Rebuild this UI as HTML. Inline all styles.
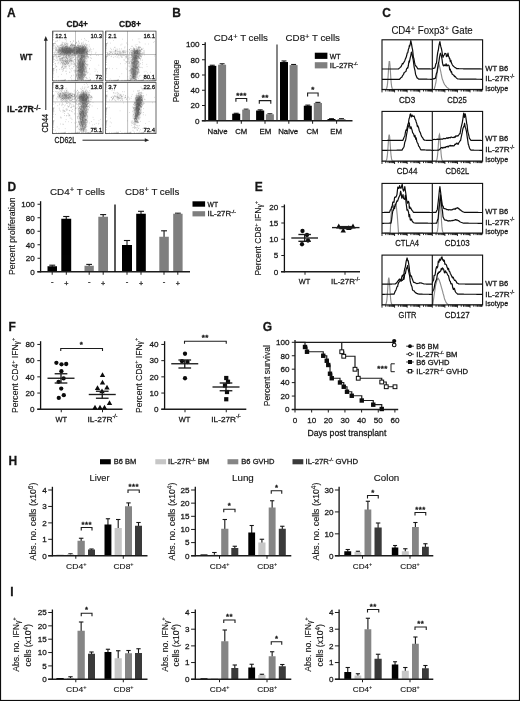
<!DOCTYPE html>
<html lang="en"><head><meta charset="utf-8"><title>Figure</title>
<style>
html,body{margin:0;padding:0;background:#fff;}
svg{display:block;font-family:"Liberation Sans",sans-serif;opacity:0.999;will-change:transform;}
text{fill:#151515;stroke:#1a1a1a;stroke-width:0.27px;}
</style></head><body>
<svg width="520" height="701" viewBox="0 0 520 701">
<rect x="0" y="0" width="520" height="701" fill="#fff"/>
<text x="7.00" y="17.20" font-size="12" font-weight="700" fill="#0a0a0a">A</text>
<text x="172.30" y="17.20" font-size="12" font-weight="700" fill="#0a0a0a">B</text>
<text x="382.30" y="17.20" font-size="12" font-weight="700" fill="#0a0a0a">C</text>
<text x="7.60" y="190.60" font-size="12" font-weight="700" fill="#0a0a0a">D</text>
<text x="254.80" y="190.60" font-size="12" font-weight="700" fill="#0a0a0a">E</text>
<text x="8.60" y="330.60" font-size="12" font-weight="700" fill="#0a0a0a">F</text>
<text x="262.80" y="330.60" font-size="12" font-weight="700" fill="#0a0a0a">G</text>
<text x="8.60" y="464.80" font-size="12" font-weight="700" fill="#0a0a0a">H</text>
<text x="10.20" y="596.40" font-size="12" font-weight="700" fill="#0a0a0a">I</text>
<g id="panelA">
<text x="66.40" y="27.10" font-size="8.6" font-weight="700" textLength="21.60" lengthAdjust="spacingAndGlyphs">CD4+</text>
<text x="119.00" y="27.10" font-size="8.6" font-weight="700" textLength="22.00" lengthAdjust="spacingAndGlyphs">CD8+</text>
<text x="20.00" y="60.20" font-size="8.4" font-weight="700" textLength="12.20" lengthAdjust="spacingAndGlyphs">WT</text>
<text x="7.00" y="112.20" font-size="8.4" font-weight="700" textLength="33.50" lengthAdjust="spacingAndGlyphs">IL-27R<tspan font-size="6.55" dy="-2.52">-/-</tspan><tspan dy="2.52">&#8203;</tspan></text>
<text transform="translate(48.00 132.50) rotate(-90)" font-size="8.2" textLength="18.50" lengthAdjust="spacingAndGlyphs">CD44</text>
<text x="54.50" y="143.20" font-size="8.2" textLength="21.50" lengthAdjust="spacingAndGlyphs">CD62L</text>
<line x1="45.80" y1="110.00" x2="45.80" y2="40.00" stroke="#222" stroke-width="1"/>
<path d="M45.8 36.0L43.8 40.8H47.8Z" fill="#222" stroke="none" stroke-width="1" />
<line x1="82.50" y1="140.20" x2="146.00" y2="140.20" stroke="#222" stroke-width="1"/>
<path d="M149.2 140.2L144.8 138.3V142.1Z" fill="#222" stroke="none" stroke-width="1" />
<defs><filter id="bl" x="-50%" y="-50%" width="200%" height="200%"><feGaussianBlur stdDeviation="1.4"/></filter><clipPath id="cA1"><rect x="53.1" y="31.6" width="49.4" height="48.8"/></clipPath><clipPath id="cA2"><rect x="106.1" y="31.6" width="49.4" height="48.8"/></clipPath><clipPath id="cA3"><rect x="53.1" y="82.9" width="49.4" height="50.2"/></clipPath><clipPath id="cA4"><rect x="106.1" y="82.9" width="49.4" height="50.2"/></clipPath></defs>
<g clip-path="url(#cA1)">
<ellipse cx="66.0" cy="50.6" rx="8.2" ry="3.6" fill="#5a5a5a" opacity="0.70" filter="url(#bl)"/>
<ellipse cx="75.0" cy="50.6" rx="3.0" ry="3.2" fill="#5a5a5a" opacity="0.45" filter="url(#bl)"/>
<ellipse cx="81.5" cy="50.8" rx="5.2" ry="3.8" fill="#5a5a5a" opacity="0.72" filter="url(#bl)"/>
<ellipse cx="81.2" cy="67.5" rx="3.6" ry="13.5" fill="#5a5a5a" opacity="0.62" filter="url(#bl)" transform="rotate(3 81.2 67.5)"/>
<ellipse cx="66.0" cy="60.0" rx="7.0" ry="5.0" fill="#5a5a5a" opacity="0.16" filter="url(#bl)"/>
<path d="M68.7 49.9h.6M64.4 49.9h.6M64.9 47.9h.6M68.2 53.8h.6M67.3 53.6h.6M67.0 51.7h.6M70.4 45.8h.6M68.6 52.1h.6M56.9 45.7h.6M63.6 48.0h.6M65.8 51.5h.6M62.7 52.1h.6M68.0 51.5h.6M74.9 48.7h.6M72.2 52.2h.6M62.2 48.8h.6M65.4 49.6h.6M67.3 52.4h.6M61.0 49.3h.6M72.3 49.1h.6M67.3 48.3h.6M58.3 51.8h.6M72.8 50.7h.6M64.3 44.8h.6M61.8 50.3h.6M65.7 52.0h.6M70.3 46.4h.6M70.9 52.5h.6M67.9 54.8h.6M59.2 50.9h.6M62.8 52.4h.6M59.4 49.3h.6M63.2 47.8h.6M55.4 54.3h.6M67.2 46.4h.6M69.0 54.8h.6M62.2 51.6h.6M71.1 47.4h.6M66.8 53.8h.6M68.3 51.3h.6M69.2 55.2h.6M68.8 52.1h.6M72.7 46.1h.6M68.8 53.4h.6M62.7 44.9h.6M56.6 53.0h.6M71.3 50.1h.6M74.4 46.8h.6M65.2 52.2h.6M69.4 51.5h.6M72.0 50.9h.6M63.8 48.7h.6M66.1 53.6h.6M70.9 48.0h.6M63.7 54.8h.6M65.3 46.6h.6M64.5 50.2h.6M60.7 54.7h.6M59.4 54.3h.6M69.3 48.3h.6M70.5 53.9h.6M66.7 51.6h.6M69.0 51.0h.6M67.4 50.1h.6M66.0 52.3h.6M68.9 52.8h.6M67.7 56.4h.6M64.1 49.4h.6M70.8 50.6h.6M68.0 49.6h.6M67.3 47.3h.6M67.2 51.8h.6M69.4 49.3h.6M63.3 51.4h.6M67.8 57.6h.6M65.5 49.0h.6M65.7 49.9h.6M63.5 42.7h.6M59.9 53.5h.6M71.0 50.4h.6M73.8 53.1h.6M64.2 45.7h.6M69.2 49.6h.6M58.5 53.8h.6M58.2 52.6h.6M72.2 51.1h.6M67.0 50.2h.6M66.7 52.9h.6M74.0 50.3h.6M64.5 53.6h.6M60.0 58.6h.6M64.6 53.3h.6M69.7 51.0h.6M69.3 51.2h.6M58.2 46.2h.6M61.0 52.4h.6M58.4 47.6h.6M69.9 54.3h.6M61.1 54.9h.6M60.1 50.6h.6M74.3 52.8h.6M74.1 48.0h.6M65.1 53.5h.6M73.3 44.9h.6M62.9 50.3h.6M68.1 51.8h.6M60.7 54.9h.6M73.7 53.9h.6M65.1 54.8h.6M71.3 48.4h.6M66.6 50.9h.6M64.6 54.7h.6M64.0 43.9h.6M70.3 45.2h.6M62.8 51.5h.6M70.3 50.6h.6M72.9 50.8h.6M71.4 50.4h.6M74.4 54.9h.6M70.6 48.7h.6M60.4 45.2h.6M71.6 44.9h.6M65.9 47.0h.6M65.9 50.0h.6M67.2 48.9h.6M66.2 55.8h.6M71.2 52.1h.6M59.4 50.0h.6M71.6 49.0h.6M62.9 45.8h.6M70.1 53.5h.6M70.2 50.6h.6M59.9 51.1h.6M62.7 46.1h.6M63.1 53.3h.6M62.0 48.0h.6M65.4 46.2h.6M67.9 47.2h.6M67.7 43.8h.6M55.9 48.7h.6M64.6 52.7h.6M61.4 44.1h.6M63.6 51.4h.6M69.9 52.9h.6M67.7 52.5h.6M69.4 54.5h.6M55.2 51.9h.6M72.8 53.2h.6M63.6 49.7h.6M56.9 56.2h.6M78.6 52.0h.6M69.6 47.9h.6M65.4 56.1h.6M70.7 52.2h.6M65.5 48.0h.6M70.3 51.4h.6M65.0 50.5h.6M64.1 47.7h.6M66.5 53.2h.6M61.6 48.1h.6M71.9 58.3h.6M68.5 52.4h.6M68.2 55.5h.6M68.7 50.4h.6M71.4 45.0h.6M62.3 51.5h.6M75.4 54.4h.6M62.5 46.5h.6M67.0 51.4h.6M60.9 49.4h.6M71.4 56.7h.6M59.0 47.1h.6M71.1 55.5h.6M70.2 55.9h.6M67.4 48.1h.6M62.1 44.3h.6M68.7 50.4h.6M65.4 48.5h.6M68.0 51.9h.6M67.1 52.5h.6M70.1 49.7h.6M61.7 50.7h.6M66.0 48.8h.6M66.8 50.3h.6M66.9 50.6h.6M59.5 50.2h.6M71.5 51.8h.6M65.0 51.9h.6M61.0 51.9h.6M66.3 45.1h.6M69.8 47.9h.6M74.2 47.6h.6M58.9 49.5h.6M68.7 48.4h.6M66.9 52.0h.6M69.7 54.9h.6M69.1 50.5h.6M71.1 55.4h.6M60.4 53.6h.6M69.8 50.2h.6M71.6 49.7h.6M70.7 52.3h.6M79.2 50.0h.6M64.9 54.2h.6M79.5 50.9h.6M70.5 49.6h.6M66.0 53.4h.6M67.0 47.2h.6M71.9 51.6h.6M66.1 52.9h.6M68.8 53.1h.6M66.3 51.2h.6M69.6 49.9h.6M62.7 47.5h.6M58.4 50.6h.6M55.6 49.3h.6M69.0 48.6h.6M65.7 52.2h.6M58.6 49.9h.6M68.7 55.9h.6M61.4 53.8h.6M56.5 50.1h.6M70.9 52.9h.6M65.7 45.1h.6M56.8 52.4h.6M60.5 45.3h.6M58.7 48.8h.6M67.3 50.7h.6M69.7 52.4h.6M72.1 55.0h.6M63.4 46.8h.6M60.4 47.5h.6M66.0 50.4h.6M57.7 52.0h.6M65.9 47.0h.6M64.4 50.0h.6M62.0 50.4h.6M67.8 52.6h.6M62.5 50.3h.6M66.2 47.8h.6M67.0 46.2h.6M58.8 51.0h.6M64.4 49.9h.6M69.2 51.9h.6M61.6 50.5h.6M65.7 50.2h.6M67.5 52.7h.6M59.0 48.5h.6M62.1 49.5h.6M65.4 47.4h.6M66.5 49.2h.6M63.9 52.1h.6M64.3 57.3h.6M66.6 53.8h.6M53.6 53.8h.6M67.3 48.4h.6M78.1 52.3h.6M72.7 51.5h.6M70.9 52.8h.6M65.2 52.1h.6M60.4 52.1h.6M60.7 54.0h.6M77.0 51.3h.6M66.1 50.0h.6M66.1 54.0h.6M67.3 48.3h.6M69.7 52.3h.6M75.1 48.4h.6M66.1 55.4h.6M63.8 51.4h.6M62.3 54.7h.6M63.5 52.6h.6M69.7 48.6h.6M65.9 54.5h.6M70.2 48.6h.6M67.6 50.5h.6M71.9 55.0h.6M77.9 49.1h.6M70.1 50.6h.6M65.8 48.7h.6M75.3 45.5h.6M59.7 54.6h.6M57.6 46.2h.6M63.6 54.0h.6M64.4 50.4h.6M60.3 50.2h.6M58.5 50.7h.6M67.6 50.4h.6M64.8 52.0h.6M66.8 48.0h.6M74.1 49.2h.6M65.4 52.8h.6M62.3 49.2h.6M64.2 47.9h.6M68.7 51.5h.6M76.9 52.2h.6M66.1 48.6h.6M56.3 58.7h.6M66.9 49.1h.6M68.1 51.0h.6M67.9 49.9h.6M70.0 50.8h.6M61.4 45.1h.6M60.6 50.6h.6M69.3 47.6h.6M69.3 48.7h.6M67.6 52.8h.6M65.5 52.1h.6M65.8 46.5h.6M63.2 51.9h.6M69.9 50.3h.6M69.3 48.1h.6M63.1 56.0h.6M65.2 51.0h.6M67.6 55.1h.6M62.4 53.2h.6M65.9 50.6h.6M73.5 45.4h.6M56.9 53.2h.6M65.3 52.8h.6M67.9 51.9h.6M64.9 46.3h.6M63.0 54.9h.6M58.9 47.6h.6M67.7 47.1h.6M68.2 55.5h.6M77.6 51.3h.6M62.5 49.1h.6M68.9 52.1h.6M59.9 47.7h.6M67.3 51.4h.6M64.9 46.8h.6M68.4 49.0h.6M65.6 50.3h.6M71.5 49.6h.6M64.1 54.6h.6M62.1 53.1h.6M69.9 50.8h.6M64.0 55.0h.6M67.0 50.4h.6M66.1 46.3h.6M67.9 48.6h.6M55.7 47.3h.6M67.4 50.7h.6M70.6 49.0h.6M62.9 49.8h.6M57.8 52.0h.6M65.9 48.6h.6M65.2 53.1h.6M62.6 51.5h.6M74.7 51.5h.6M78.3 48.6h.6M66.1 48.7h.6M71.3 51.1h.6M55.1 47.0h.6M70.1 52.4h.6M79.7 52.4h.6M67.3 51.2h.6M67.9 53.3h.6M59.6 55.4h.6M64.1 53.0h.6M77.2 53.3h.6M64.7 50.6h.6M61.6 49.2h.6M69.3 48.8h.6M66.3 50.7h.6M70.8 50.1h.6M65.3 52.0h.6M65.2 52.5h.6M73.6 47.3h.6M61.0 51.9h.6M67.8 53.7h.6M74.4 46.1h.6M70.6 51.6h.6M65.2 51.2h.6M71.1 46.1h.6M64.5 50.7h.6M66.4 51.6h.6M64.1 52.6h.6M54.9 50.5h.6M69.5 49.4h.6M64.1 54.5h.6M74.2 50.2h.6M69.8 49.7h.6M66.2 55.5h.6M62.3 54.2h.6M65.6 51.2h.6M71.9 50.9h.6M62.5 57.5h.6M68.6 48.9h.6M68.6 47.5h.6M64.6 52.3h.6M57.9 52.1h.6M58.0 52.8h.6M63.1 48.6h.6M70.5 49.4h.6M63.9 50.8h.6M74.2 52.2h.6M67.9 50.6h.6M67.4 54.2h.6M78.9 46.9h.6M55.7 57.0h.6M68.2 50.5h.6M69.5 53.4h.6M60.5 49.8h.6M71.4 50.9h.6M60.7 47.4h.6M55.9 50.5h.6M63.7 49.8h.6M62.4 51.9h.6M64.0 48.0h.6M62.5 50.5h.6M69.9 50.6h.6M74.9 54.0h.6M63.8 48.3h.6M75.9 43.4h.6M65.8 48.5h.6M58.9 52.1h.6M65.9 51.9h.6M67.5 45.3h.6M56.3 54.1h.6M67.1 52.9h.6M68.3 52.0h.6M64.8 54.4h.6M63.9 53.1h.6M61.8 52.7h.6M75.0 50.3h.6M65.2 51.9h.6M61.9 47.3h.6M70.9 51.2h.6M68.7 51.8h.6M73.0 50.5h.6M63.1 49.5h.6M66.3 53.2h.6M63.0 49.8h.6M69.2 49.9h.6M59.7 51.6h.6M66.9 51.8h.6M70.0 47.7h.6M64.3 49.8h.6M72.9 52.9h.6M68.3 48.6h.6M78.0 48.1h.6M72.2 49.2h.6M70.2 48.7h.6M68.6 49.3h.6M62.5 50.3h.6M66.4 56.8h.6M70.4 45.8h.6M72.0 45.6h.6M66.8 48.9h.6M66.6 54.3h.6M57.2 46.6h.6M69.9 54.0h.6M70.5 48.2h.6M69.4 52.0h.6M64.4 44.0h.6M69.8 53.2h.6M68.6 51.1h.6M61.0 58.0h.6M66.2 49.6h.6M63.7 53.2h.6M61.9 53.9h.6M63.3 51.4h.6M62.4 51.1h.6M71.7 46.0h.6M63.1 51.5h.6M71.1 51.2h.6M65.4 47.8h.6M68.7 52.2h.6M55.0 49.6h.6M67.7 54.2h.6M64.6 50.6h.6M63.8 51.4h.6M62.2 47.6h.6M62.8 48.9h.6M69.3 47.2h.6M69.4 46.8h.6M67.8 47.7h.6M67.1 54.6h.6M66.3 48.5h.6M57.0 51.0h.6M66.8 48.8h.6M66.4 49.2h.6M70.0 52.7h.6M69.1 53.2h.6M65.9 49.8h.6M64.4 49.8h.6M57.0 50.1h.6M65.9 49.6h.6M65.9 47.8h.6M65.1 52.1h.6M56.5 50.0h.6M79.8 53.4h.6M66.7 43.3h.6M64.4 52.1h.6M54.3 52.2h.6M67.9 53.1h.6M62.9 50.7h.6M63.5 52.5h.6M63.3 51.2h.6M65.8 44.1h.6M69.9 51.2h.6M65.8 48.1h.6M66.8 52.4h.6M76.4 54.2h.6M56.0 48.0h.6M74.0 53.1h.6M70.2 53.3h.6M62.3 48.8h.6M61.3 53.2h.6M60.8 45.3h.6M76.0 57.8h.6M62.2 48.6h.6M62.1 51.3h.6M65.6 54.4h.6M72.8 47.4h.6M67.2 48.9h.6M64.4 50.6h.6M62.4 51.5h.6M54.5 45.3h.6M62.1 46.9h.6M66.3 50.5h.6M66.6 52.2h.6M62.3 48.3h.6M65.1 44.5h.6M68.8 52.0h.6M65.1 50.2h.6M66.1 53.3h.6M69.0 52.7h.6M72.8 51.2h.6M64.1 48.9h.6M61.9 48.3h.6M75.1 55.1h.6M69.0 50.7h.6M70.2 54.0h.6M59.4 54.1h.6M68.4 48.7h.6M66.5 54.8h.6M64.2 48.1h.6M61.5 48.7h.6M62.7 55.0h.6M77.2 50.7h.6M67.7 54.0h.6M68.1 48.8h.6M69.2 55.3h.6M66.5 54.3h.6M65.0 52.1h.6M72.8 51.8h.6M65.7 46.4h.6M79.7 51.5h.6M84.0 49.9h.6M83.5 56.6h.6M76.5 51.7h.6M81.7 56.4h.6M77.9 50.7h.6M78.0 50.6h.6M83.0 51.0h.6M82.4 50.9h.6M86.1 48.3h.6M75.7 48.9h.6M79.1 50.3h.6M80.4 47.9h.6M77.7 51.6h.6M86.1 50.4h.6M81.0 52.8h.6M81.1 51.2h.6M83.8 50.7h.6M73.8 50.5h.6M78.7 50.7h.6M79.5 52.7h.6M88.5 51.2h.6M77.9 47.8h.6M73.8 46.7h.6M82.7 45.4h.6M75.5 48.9h.6M83.5 46.5h.6M80.3 48.6h.6M85.8 51.8h.6M84.8 56.4h.6M82.1 51.2h.6M86.1 56.0h.6M83.0 49.9h.6M81.7 51.6h.6M77.3 49.3h.6M76.6 49.3h.6M83.2 54.3h.6M86.0 47.3h.6M75.4 53.4h.6M84.1 56.1h.6M77.6 56.8h.6M82.9 52.3h.6M82.0 51.4h.6M76.7 53.9h.6M77.0 47.2h.6M79.6 49.2h.6M82.4 51.9h.6M79.3 50.9h.6M84.5 49.5h.6M81.8 53.0h.6M86.5 49.9h.6M83.6 49.1h.6M80.7 54.1h.6M77.9 53.2h.6M82.1 53.7h.6M83.6 46.2h.6M85.6 48.2h.6M81.0 48.8h.6M80.4 51.6h.6M79.7 51.6h.6M81.5 52.7h.6M72.7 51.4h.6M81.6 54.2h.6M81.8 45.6h.6M84.9 52.2h.6M86.5 47.7h.6M89.2 50.3h.6M83.7 50.4h.6M77.9 49.7h.6M84.4 54.0h.6M84.2 55.3h.6M76.2 49.1h.6M79.3 48.9h.6M83.4 48.4h.6M80.6 51.8h.6M81.0 51.3h.6M83.9 51.4h.6M79.3 53.6h.6M86.1 46.4h.6M85.0 51.1h.6M80.4 46.0h.6M76.9 50.9h.6M83.8 49.3h.6M86.6 53.9h.6M77.0 48.3h.6M84.5 52.3h.6M77.3 51.4h.6M84.0 53.1h.6M79.9 52.4h.6M84.0 51.7h.6M75.6 49.2h.6M83.0 51.8h.6M84.3 50.8h.6M81.2 49.1h.6M83.3 49.9h.6M80.7 55.4h.6M86.4 56.8h.6M83.4 53.1h.6M80.9 55.9h.6M78.1 50.5h.6M85.8 52.2h.6M82.9 52.3h.6M82.0 50.2h.6M84.9 46.7h.6M78.0 49.6h.6M78.9 48.6h.6M84.9 53.3h.6M84.5 46.9h.6M79.6 53.4h.6M79.1 46.5h.6M82.6 49.0h.6M75.0 49.8h.6M76.6 51.5h.6M77.6 53.4h.6M78.8 48.8h.6M85.7 49.2h.6M83.4 53.3h.6M76.5 51.7h.6M79.7 49.3h.6M83.1 48.0h.6M79.2 48.7h.6M74.9 47.8h.6M85.8 52.5h.6M78.4 51.3h.6M82.1 43.0h.6M82.5 54.3h.6M86.2 53.5h.6M80.1 54.1h.6M84.0 53.9h.6M80.2 46.3h.6M81.2 46.7h.6M78.1 52.5h.6M85.7 44.8h.6M86.2 51.9h.6M84.9 47.0h.6M87.9 56.8h.6M82.4 50.2h.6M84.7 50.4h.6M81.8 53.8h.6M83.9 46.9h.6M83.5 49.4h.6M86.7 51.6h.6M80.1 54.1h.6M87.1 51.8h.6M82.9 49.2h.6M85.5 54.3h.6M77.3 52.3h.6M82.3 47.1h.6M89.7 51.9h.6M85.1 48.3h.6M76.2 53.0h.6M82.0 48.4h.6M81.0 49.4h.6M78.9 52.2h.6M79.5 52.2h.6M83.2 49.2h.6M82.4 49.1h.6M81.6 55.4h.6M83.9 50.4h.6M85.0 49.7h.6M83.5 47.1h.6M78.9 49.3h.6M78.8 55.9h.6M83.6 55.9h.6M78.4 55.0h.6M86.2 54.3h.6M81.1 50.5h.6M82.1 57.9h.6M79.5 49.6h.6M82.6 52.1h.6M87.0 51.3h.6M83.0 49.8h.6M78.3 55.0h.6M87.4 53.8h.6M78.0 46.9h.6M75.6 47.8h.6M75.6 52.1h.6M86.2 52.2h.6M80.5 46.1h.6M84.0 45.2h.6M80.6 48.7h.6M83.2 51.0h.6M81.5 49.8h.6M81.9 49.2h.6M81.7 47.4h.6M79.9 45.2h.6M81.8 56.4h.6M82.3 47.1h.6M76.2 48.0h.6M83.9 48.7h.6M81.2 51.9h.6M78.0 48.1h.6M82.3 54.7h.6M74.7 48.0h.6M89.4 46.8h.6M81.3 47.5h.6M81.0 51.4h.6M77.1 50.0h.6M86.9 47.8h.6M84.2 48.6h.6M80.6 45.9h.6M84.8 51.6h.6M83.4 47.5h.6M79.1 51.9h.6M78.6 52.2h.6M81.4 48.5h.6M81.1 42.9h.6M76.8 47.9h.6M83.9 49.6h.6M85.6 49.6h.6M77.3 47.4h.6M82.8 55.3h.6M78.9 53.5h.6M82.3 53.1h.6M81.6 52.7h.6M79.4 54.3h.6M76.8 48.0h.6M79.1 54.2h.6M78.5 47.8h.6M77.4 49.5h.6M79.5 50.0h.6M78.4 49.2h.6M80.0 50.9h.6M82.3 51.1h.6M74.5 51.8h.6M79.0 49.2h.6M76.5 53.0h.6M80.6 48.7h.6M84.7 49.8h.6M84.6 49.5h.6M75.7 46.5h.6M82.9 54.3h.6M81.9 52.2h.6M77.6 52.2h.6M79.8 53.6h.6M81.8 53.7h.6M77.4 45.1h.6M81.1 54.1h.6M82.3 49.7h.6M79.8 49.6h.6M82.0 51.1h.6M81.6 55.2h.6M87.3 56.3h.6M84.9 55.8h.6M81.9 51.2h.6M79.2 50.4h.6M79.4 50.6h.6M83.2 55.6h.6M75.4 49.5h.6M80.2 50.6h.6M77.9 47.7h.6M83.3 44.3h.6M89.8 50.6h.6M81.0 50.7h.6M81.9 55.0h.6M80.3 51.3h.6M86.3 49.0h.6M87.0 53.7h.6M81.6 49.8h.6M84.6 48.2h.6M83.3 46.8h.6M86.0 54.0h.6M85.0 48.1h.6M79.1 48.7h.6M85.2 47.0h.6M79.6 55.6h.6M80.4 48.6h.6M84.7 58.1h.6M75.8 49.2h.6M85.3 48.8h.6M80.6 56.2h.6M79.9 48.8h.6M84.4 45.3h.6M84.9 47.7h.6M77.4 45.8h.6M79.1 51.6h.6M81.5 53.1h.6M83.5 47.4h.6M75.4 53.2h.6M83.1 56.1h.6M75.5 53.0h.6M80.4 48.7h.6M76.8 53.9h.6M75.0 48.2h.6M82.6 50.1h.6M79.6 45.9h.6M86.6 52.3h.6M80.5 52.7h.6M78.5 47.4h.6M82.0 48.9h.6M86.8 50.7h.6M78.1 51.6h.6M84.5 55.3h.6M79.2 51.1h.6M78.2 45.4h.6M78.9 53.4h.6M82.1 47.0h.6M83.4 51.5h.6M86.0 52.7h.6M84.6 48.4h.6M83.7 47.9h.6M82.3 51.3h.6M81.4 53.6h.6M84.3 54.0h.6M79.7 51.2h.6M79.8 48.6h.6M81.4 50.2h.6M83.5 59.4h.6M78.7 53.0h.6M80.5 48.7h.6M78.2 51.4h.6M79.7 55.5h.6M74.0 53.9h.6M82.4 50.8h.6M83.4 51.4h.6M82.0 51.6h.6M79.2 45.3h.6M83.5 44.0h.6M80.9 51.7h.6M79.6 48.4h.6M87.0 56.2h.6M85.6 50.6h.6M75.3 46.2h.6M78.7 49.4h.6M82.1 49.2h.6M79.4 59.6h.6M82.4 50.9h.6M84.5 50.7h.6M77.5 55.9h.6M80.7 51.3h.6M76.6 51.8h.6M74.1 45.7h.6M82.1 52.3h.6M73.9 51.0h.6M79.1 49.7h.6M78.6 46.7h.6M83.2 52.8h.6M83.1 50.7h.6M81.7 49.0h.6M83.3 50.9h.6M81.0 50.6h.6M79.4 50.4h.6M83.1 57.3h.6M88.8 52.0h.6M76.5 54.9h.6M84.2 52.8h.6M85.7 56.3h.6M77.7 53.0h.6M82.4 48.3h.6M78.2 52.3h.6M80.2 49.7h.6M82.6 51.0h.6M77.5 50.0h.6M86.6 54.4h.6M84.8 50.5h.6M83.6 52.1h.6M79.1 52.2h.6M84.7 52.5h.6M87.8 48.2h.6M87.3 56.9h.6M83.9 56.6h.6M79.6 49.8h.6M81.9 48.4h.6M83.6 50.7h.6M88.9 44.9h.6M81.4 57.4h.6M83.0 52.8h.6M80.8 51.6h.6M78.9 50.4h.6M81.4 51.3h.6M78.8 51.7h.6M81.7 50.9h.6M78.1 52.6h.6M84.6 52.0h.6M80.3 52.5h.6M80.7 49.4h.6M86.5 52.9h.6M79.4 50.3h.6M82.2 51.9h.6M79.1 48.2h.6M83.6 50.5h.6M78.2 47.3h.6M77.6 52.2h.6M82.6 51.1h.6M78.2 50.5h.6M80.4 50.6h.6M78.8 51.8h.6M76.1 54.0h.6M81.5 50.3h.6M79.6 53.6h.6M79.7 52.4h.6M87.1 52.9h.6M82.9 49.6h.6M84.6 48.1h.6M81.6 54.3h.6M82.8 47.5h.6M85.0 54.1h.6M75.6 53.2h.6M86.1 48.8h.6M85.1 47.2h.6M83.9 56.3h.6M80.4 54.0h.6M81.2 47.2h.6M81.3 50.2h.6M81.0 52.8h.6M82.9 51.4h.6M87.4 50.8h.6M81.8 52.1h.6M79.5 50.2h.6M82.0 54.7h.6M79.7 47.7h.6M80.1 50.4h.6M77.8 53.9h.6M82.0 52.2h.6M81.7 47.4h.6M83.1 50.5h.6M82.5 49.5h.6M78.0 46.0h.6M84.8 53.1h.6M79.6 50.8h.6M69.8 53.6h.6M76.7 48.4h.6M72.4 52.4h.6M78.6 45.3h.6M72.8 51.0h.6M77.3 50.8h.6M77.8 43.3h.6M69.8 52.7h.6M70.5 52.8h.6M76.0 53.8h.6M73.5 56.9h.6M77.6 50.6h.6M73.2 48.8h.6M74.8 49.6h.6M76.2 47.6h.6M75.2 52.1h.6M74.2 55.4h.6M73.6 54.3h.6M70.2 52.7h.6M74.6 51.2h.6M73.5 49.2h.6M73.2 49.6h.6M73.5 44.5h.6M73.7 49.1h.6M74.7 47.6h.6M74.4 52.8h.6M78.4 49.2h.6M77.3 53.3h.6M74.2 53.8h.6M77.8 50.2h.6M74.7 49.0h.6M75.9 51.7h.6M77.5 49.8h.6M76.8 50.1h.6M76.6 53.6h.6M72.1 52.7h.6M73.5 46.9h.6M78.8 51.9h.6M75.8 47.2h.6M73.2 48.2h.6M76.7 49.8h.6M77.9 51.2h.6M77.2 47.8h.6M75.2 53.2h.6M73.6 51.9h.6M74.0 47.5h.6M82.2 48.8h.6M79.1 49.2h.6M75.8 51.2h.6M73.1 52.7h.6M75.9 53.2h.6M76.5 46.4h.6M76.1 52.1h.6M74.0 55.0h.6M76.9 52.0h.6M78.0 48.1h.6M71.7 46.5h.6M72.3 52.1h.6M70.9 50.3h.6M72.2 50.8h.6M71.2 51.6h.6M74.3 51.9h.6M74.8 50.8h.6M71.7 51.0h.6M75.1 43.4h.6M73.9 48.0h.6M70.0 51.8h.6M73.5 48.5h.6M75.8 47.6h.6M72.9 50.2h.6M77.0 47.8h.6M76.5 48.8h.6M70.3 51.9h.6M75.0 47.6h.6M76.9 51.6h.6M77.6 52.8h.6M74.5 49.6h.6M73.9 52.8h.6M71.0 53.6h.6M74.6 52.4h.6M77.4 45.1h.6M75.1 51.5h.6M73.8 47.6h.6M72.9 54.8h.6M72.9 40.9h.6M74.7 47.2h.6M72.7 49.5h.6M77.6 48.2h.6M79.9 46.6h.6M72.3 49.1h.6M76.4 52.8h.6M76.9 47.7h.6M72.7 45.4h.6M74.4 53.8h.6M76.3 47.0h.6M74.9 53.2h.6M74.1 45.5h.6M76.9 51.8h.6M74.4 55.8h.6M74.9 49.2h.6M72.6 54.0h.6M68.1 54.3h.6M73.3 52.8h.6M76.7 51.9h.6M74.8 47.3h.6M76.5 51.3h.6M72.5 48.0h.6M81.3 45.2h.6M74.4 50.1h.6M77.3 46.4h.6M78.6 49.1h.6M75.1 53.0h.6M72.2 52.6h.6M73.6 49.7h.6M75.0 47.0h.6M78.6 50.2h.6M73.3 41.2h.6M73.8 48.0h.6M76.0 51.8h.6M73.8 50.7h.6M75.9 52.0h.6M74.3 45.4h.6M72.0 46.8h.6M75.2 51.0h.6M72.8 50.9h.6M72.7 50.0h.6M76.7 51.7h.6M78.2 55.5h.6M73.9 48.3h.6M75.8 48.0h.6M76.8 56.1h.6M71.9 44.4h.6M76.3 47.0h.6M75.7 50.6h.6M72.9 55.6h.6M79.9 48.2h.6M73.1 51.6h.6M71.2 44.9h.6M75.2 43.8h.6M77.5 50.7h.6M73.3 50.2h.6M79.8 48.5h.6M75.4 45.7h.6M76.5 50.7h.6M76.2 49.5h.6M74.6 52.9h.6M74.5 49.3h.6M74.5 47.9h.6M75.5 49.8h.6M78.3 54.3h.6M83.1 62.8h.6M83.1 69.8h.6M81.9 67.2h.6M79.3 62.5h.6M84.2 75.3h.6M82.0 73.3h.6M79.8 69.5h.6M84.0 50.1h.6M79.6 68.9h.6M85.2 57.8h.6M87.0 49.9h.6M87.2 73.1h.6M81.6 60.2h.6M81.9 62.2h.6M79.3 65.0h.6M78.5 77.2h.6M83.0 62.2h.6M80.3 61.9h.6M80.0 70.4h.6M81.6 55.2h.6M85.9 64.9h.6M84.4 56.6h.6M80.7 59.5h.6M82.1 63.9h.6M85.4 75.2h.6M85.2 61.0h.6M82.8 76.5h.6M84.1 59.8h.6M82.2 66.0h.6M83.1 64.4h.6M83.6 77.6h.6M84.0 65.1h.6M82.5 72.2h.6M79.3 62.4h.6M84.0 55.1h.6M79.4 64.7h.6M78.8 72.1h.6M80.2 62.8h.6M77.0 65.5h.6M81.2 69.6h.6M82.5 70.3h.6M83.9 64.0h.6M81.3 75.0h.6M80.1 63.1h.6M77.8 73.6h.6M79.3 65.5h.6M83.6 53.8h.6M81.3 66.8h.6M76.7 75.3h.6M82.0 66.4h.6M77.8 74.9h.6M81.4 73.8h.6M83.5 79.9h.6M86.7 72.2h.6M80.1 67.0h.6M78.9 63.8h.6M76.1 66.7h.6M82.4 66.2h.6M79.7 76.4h.6M76.2 65.7h.6M79.5 59.8h.6M83.2 56.8h.6M80.3 71.5h.6M80.4 67.2h.6M76.8 62.0h.6M84.6 66.2h.6M81.1 60.1h.6M81.6 75.3h.6M82.5 61.6h.6M82.7 65.1h.6M77.6 63.2h.6M83.2 67.5h.6M81.5 56.7h.6M79.7 75.1h.6M86.9 61.0h.6M83.4 74.7h.6M86.0 58.2h.6M80.8 51.7h.6M84.3 73.8h.6M80.0 58.4h.6M76.0 68.8h.6M82.3 72.9h.6M82.9 62.9h.6M81.6 74.2h.6M84.9 71.8h.6M81.9 62.6h.6M84.2 62.2h.6M82.7 63.2h.6M81.3 68.3h.6M82.6 80.0h.6M80.0 79.1h.6M82.7 75.5h.6M82.2 61.4h.6M81.2 65.8h.6M78.6 79.0h.6M77.6 51.6h.6M79.8 62.8h.6M82.7 67.1h.6M79.0 71.2h.6M84.4 72.3h.6M75.4 79.3h.6M84.8 75.2h.6M76.9 74.6h.6M82.9 64.2h.6M78.9 70.8h.6M84.2 58.9h.6M85.7 54.8h.6M82.0 67.2h.6M80.4 54.8h.6M77.0 73.3h.6M82.0 55.8h.6M82.8 71.4h.6M80.9 63.6h.6M79.8 64.8h.6M85.1 43.4h.6M81.5 69.3h.6M82.2 61.3h.6M81.0 66.9h.6M76.1 77.1h.6M78.3 69.3h.6M85.3 64.1h.6M81.5 57.1h.6M84.0 61.6h.6M77.4 58.1h.6M80.0 71.7h.6M84.2 64.1h.6M80.7 58.9h.6M82.2 68.3h.6M84.2 62.3h.6M79.5 79.8h.6M80.2 68.3h.6M78.2 61.2h.6M84.8 63.4h.6M79.7 77.4h.6M79.7 62.2h.6M86.5 56.1h.6M81.1 73.1h.6M78.8 62.5h.6M82.5 79.0h.6M84.3 58.3h.6M83.5 56.9h.6M80.7 58.2h.6M82.0 71.5h.6M78.5 76.2h.6M82.4 66.9h.6M81.2 59.9h.6M82.2 55.0h.6M84.6 68.8h.6M82.8 75.6h.6M80.8 63.7h.6M82.0 63.9h.6M84.3 49.4h.6M80.7 52.7h.6M79.9 67.2h.6M82.5 62.5h.6M79.6 78.8h.6M79.7 67.8h.6M80.3 67.5h.6M83.8 67.8h.6M80.8 79.7h.6M83.3 68.8h.6M78.6 64.4h.6M78.2 77.1h.6M78.2 75.5h.6M84.6 74.7h.6M85.6 58.2h.6M77.1 59.5h.6M82.6 73.6h.6M74.8 65.2h.6M80.4 66.5h.6M80.7 63.5h.6M80.7 50.7h.6M79.6 63.7h.6M83.7 70.6h.6M77.8 73.6h.6M81.5 68.5h.6M84.1 71.8h.6M85.4 63.4h.6M82.5 63.1h.6M78.3 75.4h.6M77.0 60.6h.6M81.0 68.5h.6M82.7 64.0h.6M82.3 47.7h.6M80.5 67.8h.6M85.3 74.2h.6M79.0 62.9h.6M81.8 61.5h.6M78.6 72.3h.6M78.0 76.1h.6M81.9 74.5h.6M86.5 71.2h.6M80.9 64.6h.6M83.2 71.3h.6M82.6 54.8h.6M83.2 60.2h.6M80.6 79.5h.6M81.7 66.0h.6M84.8 40.0h.6M81.3 72.1h.6M79.5 63.4h.6M84.4 65.4h.6M84.7 66.1h.6M81.4 43.5h.6M81.0 69.5h.6M80.4 51.9h.6M77.2 78.4h.6M78.9 58.0h.6M83.2 62.0h.6M75.6 72.4h.6M85.8 61.6h.6M78.0 66.3h.6M79.7 61.2h.6M80.9 57.8h.6M81.6 75.0h.6M89.2 54.4h.6M82.0 58.0h.6M83.2 67.3h.6M82.6 64.0h.6M82.6 57.1h.6M80.7 59.7h.6M82.0 68.7h.6M83.6 64.4h.6M77.9 65.2h.6M79.8 75.0h.6M78.8 78.1h.6M81.7 72.2h.6M78.8 42.4h.6M85.5 56.8h.6M84.6 49.8h.6M81.9 77.0h.6M79.5 73.1h.6M81.8 66.9h.6M82.8 70.8h.6M79.5 65.1h.6M82.6 61.9h.6M78.9 51.9h.6M80.0 63.2h.6M74.4 64.5h.6M80.7 63.9h.6M75.6 74.1h.6M82.6 64.2h.6M84.0 71.5h.6M77.9 76.6h.6M80.0 72.8h.6M85.6 59.7h.6M79.3 61.3h.6M79.2 63.3h.6M81.6 76.2h.6M81.5 79.8h.6M84.3 61.4h.6M80.4 61.0h.6M81.4 65.5h.6M79.0 77.9h.6M80.9 70.2h.6M79.0 55.5h.6M82.4 65.0h.6M82.3 69.9h.6M80.0 67.4h.6M78.4 70.9h.6M81.1 54.7h.6M80.6 53.9h.6M80.2 60.2h.6M79.1 66.6h.6M77.0 63.1h.6M78.8 68.3h.6M73.6 70.7h.6M82.3 59.7h.6M81.6 44.6h.6M81.4 67.9h.6M82.6 53.3h.6M78.6 68.4h.6M80.7 73.8h.6M80.0 67.2h.6M81.2 72.0h.6M81.8 77.4h.6M81.0 61.3h.6M79.7 75.4h.6M82.4 70.5h.6M75.2 65.4h.6M81.7 68.2h.6M79.1 68.2h.6M80.2 78.1h.6M79.7 61.3h.6M78.2 70.3h.6M87.0 57.8h.6M83.2 79.0h.6M82.0 79.5h.6M85.2 51.5h.6M81.8 78.4h.6M85.5 49.0h.6M79.2 79.6h.6M83.2 68.2h.6M84.1 66.2h.6M83.0 67.7h.6M77.3 67.8h.6M90.0 57.8h.6M84.5 69.6h.6M85.1 77.5h.6M79.3 72.1h.6M76.2 67.2h.6M83.7 65.3h.6M82.9 47.1h.6M84.2 74.6h.6M80.0 58.5h.6M79.6 49.7h.6M86.3 71.9h.6M85.4 56.4h.6M79.7 70.9h.6M81.8 66.4h.6M84.2 76.1h.6M81.9 71.7h.6M80.2 65.3h.6M87.0 55.7h.6M76.0 62.9h.6M81.0 69.4h.6M85.9 68.6h.6M80.6 66.0h.6M81.6 60.1h.6M82.0 62.9h.6M86.7 59.1h.6M82.9 75.0h.6M83.0 73.6h.6M84.5 73.2h.6M84.2 76.3h.6M81.5 62.4h.6M84.1 60.3h.6M79.5 74.7h.6M87.8 72.4h.6M77.6 78.4h.6M82.9 66.1h.6M82.2 66.7h.6M81.4 77.9h.6M83.7 56.8h.6M81.6 66.1h.6M77.9 61.8h.6M81.0 55.5h.6M74.7 57.1h.6M77.5 77.6h.6M83.0 60.3h.6M86.1 44.7h.6M83.4 59.9h.6M82.3 62.5h.6M81.1 68.0h.6M78.3 50.1h.6M84.9 66.6h.6M82.9 62.0h.6M82.4 68.5h.6M76.7 76.2h.6M80.6 69.5h.6M79.1 64.1h.6M78.9 59.7h.6M88.4 56.8h.6M78.2 73.9h.6M78.0 41.3h.6M84.9 68.3h.6M78.6 66.6h.6M78.7 64.8h.6M81.4 54.1h.6M79.3 63.3h.6M79.2 58.8h.6M84.7 69.2h.6M87.2 65.1h.6M82.8 52.0h.6M81.4 56.3h.6M82.6 67.9h.6M79.1 77.5h.6M81.4 55.5h.6M79.2 69.7h.6M85.1 75.3h.6M82.9 53.8h.6M75.6 76.4h.6M80.5 68.9h.6M85.5 53.8h.6M79.8 69.0h.6M82.6 71.1h.6M82.3 74.1h.6M77.9 70.8h.6M81.8 63.1h.6M88.3 41.4h.6M78.6 63.5h.6M82.9 50.2h.6M79.6 67.3h.6M79.1 63.1h.6M81.4 60.1h.6M83.3 61.0h.6M81.6 65.7h.6M84.3 70.8h.6M81.5 72.6h.6M79.2 65.5h.6M83.2 63.8h.6M80.1 69.1h.6M77.9 54.7h.6M83.7 70.0h.6M77.4 70.5h.6M81.9 65.0h.6M82.6 58.5h.6M79.1 65.1h.6M84.0 55.5h.6M78.7 70.3h.6M84.1 57.6h.6M80.1 72.5h.6M84.7 57.2h.6M82.2 65.3h.6M78.5 67.4h.6M81.3 56.0h.6M77.8 80.0h.6M81.0 79.6h.6M82.5 56.7h.6M78.5 72.2h.6M83.3 47.3h.6M83.0 56.7h.6M81.9 49.3h.6M77.8 59.5h.6M81.8 64.8h.6M78.4 61.9h.6M76.5 69.0h.6M82.2 71.9h.6M81.7 70.3h.6M77.7 67.3h.6M78.4 64.4h.6M83.6 56.1h.6M79.9 70.7h.6M84.4 61.2h.6M83.3 65.9h.6M83.3 64.2h.6M78.1 74.6h.6M81.6 57.1h.6M81.5 74.7h.6M76.9 78.4h.6M79.3 71.5h.6M82.0 67.9h.6M81.1 58.1h.6M82.5 56.3h.6M80.4 59.2h.6M79.4 69.0h.6M78.9 77.6h.6M81.5 74.8h.6M81.2 57.5h.6M80.7 59.3h.6M86.1 64.5h.6M85.5 63.1h.6M77.5 71.1h.6M84.3 45.7h.6M84.2 48.7h.6M81.7 76.5h.6M80.7 65.1h.6M80.3 69.4h.6M80.5 62.1h.6M78.9 77.8h.6M78.0 70.5h.6M78.0 60.4h.6M83.1 65.2h.6M79.7 69.8h.6M80.0 72.6h.6M81.7 70.4h.6M74.4 72.0h.6M83.9 55.0h.6M87.1 66.0h.6M79.9 64.8h.6M83.2 65.1h.6M80.5 59.8h.6M80.9 61.9h.6M79.5 74.2h.6M79.7 70.0h.6M73.5 75.1h.6M81.8 65.1h.6M84.4 57.1h.6M84.4 69.0h.6M82.3 75.8h.6M78.4 65.6h.6M80.1 65.0h.6M79.8 69.3h.6M79.3 77.8h.6M83.7 64.8h.6M78.0 67.0h.6M80.5 70.8h.6M82.8 48.1h.6M79.8 57.3h.6M81.7 71.4h.6M87.0 64.3h.6M79.4 70.8h.6M80.8 69.2h.6M78.3 46.8h.6M87.3 54.2h.6M80.6 65.3h.6M84.1 61.8h.6M85.6 67.3h.6M85.1 74.2h.6M82.2 65.9h.6M81.0 63.0h.6M80.6 51.1h.6M80.0 58.3h.6M81.2 78.1h.6M82.8 78.2h.6M83.3 75.4h.6M83.6 61.5h.6M80.0 64.0h.6M86.2 77.9h.6M86.3 58.0h.6M78.5 74.6h.6M82.0 69.5h.6M80.1 70.4h.6M82.0 55.2h.6M82.8 74.9h.6M83.7 73.1h.6M81.6 57.9h.6M83.6 70.1h.6M82.5 68.4h.6M86.6 68.2h.6M82.3 47.0h.6M82.6 50.2h.6M80.2 53.9h.6M85.5 69.1h.6M82.7 71.2h.6M81.2 76.3h.6M81.4 59.2h.6M80.3 70.1h.6M80.6 60.9h.6M79.4 53.3h.6M80.3 66.2h.6M84.8 67.3h.6M81.0 69.7h.6M79.0 56.3h.6M78.7 70.4h.6M78.2 70.9h.6M80.9 68.2h.6M79.6 76.1h.6M82.0 63.6h.6M85.6 67.5h.6M79.9 64.6h.6M82.6 64.1h.6M82.9 69.1h.6M88.4 54.4h.6M82.3 55.9h.6M75.2 70.8h.6M77.4 67.1h.6M84.5 71.2h.6M76.7 76.4h.6M82.8 79.6h.6M82.7 63.7h.6M79.8 66.9h.6M75.0 77.6h.6M77.9 80.0h.6M76.5 75.5h.6M80.2 58.4h.6M76.5 74.6h.6M79.2 72.5h.6M79.7 78.4h.6M80.5 71.4h.6M86.4 66.8h.6M82.9 67.7h.6M82.1 60.3h.6M82.7 46.3h.6M77.7 61.1h.6M84.9 54.1h.6M77.0 70.9h.6M82.0 63.6h.6M77.6 56.6h.6M84.7 60.2h.6M76.6 75.7h.6M80.6 78.0h.6M81.1 71.6h.6M78.4 70.8h.6M79.9 58.7h.6M83.0 63.6h.6M86.0 55.9h.6M80.0 61.2h.6M81.9 73.4h.6M78.6 63.9h.6M77.6 57.9h.6M83.4 77.5h.6M83.0 70.0h.6M80.0 75.7h.6M86.6 70.2h.6M78.5 51.5h.6M83.7 58.2h.6M79.7 77.9h.6M80.7 73.1h.6M79.6 69.7h.6M81.2 66.8h.6M86.4 77.3h.6M83.6 50.4h.6M83.7 67.0h.6M82.6 76.7h.6M78.3 74.4h.6M86.5 51.4h.6M78.1 78.1h.6M82.2 78.8h.6M84.9 44.6h.6M84.8 58.0h.6M79.6 60.8h.6M81.5 52.9h.6M78.9 76.3h.6M87.8 50.0h.6M78.3 62.1h.6M83.6 52.0h.6M77.7 78.9h.6M80.5 67.0h.6M82.6 64.7h.6M83.6 74.8h.6M81.0 64.4h.6M84.7 54.7h.6M79.8 62.1h.6M78.9 67.6h.6M81.0 57.5h.6M77.1 71.8h.6M87.0 49.2h.6M77.4 63.4h.6M82.8 66.0h.6M79.9 51.2h.6M78.7 69.4h.6M83.3 74.3h.6M79.8 71.1h.6M79.6 66.6h.6M82.1 65.8h.6M83.9 64.2h.6M83.2 70.1h.6M80.2 72.9h.6M84.1 62.6h.6M82.2 72.7h.6M83.3 59.6h.6M80.3 74.3h.6M86.5 72.9h.6M83.8 49.8h.6M78.3 56.3h.6M82.8 64.8h.6M78.1 67.5h.6M80.5 53.8h.6M79.0 67.1h.6M86.6 53.2h.6M81.3 59.3h.6M80.0 62.0h.6M80.4 67.4h.6M77.8 72.7h.6M87.1 53.3h.6M83.2 66.3h.6M82.0 77.8h.6M77.1 67.3h.6M84.6 52.3h.6M82.3 73.2h.6M76.5 51.7h.6M78.7 57.3h.6M78.4 68.5h.6M83.8 61.8h.6M78.7 70.0h.6M85.8 74.6h.6M81.2 55.7h.6M76.7 57.1h.6M82.7 72.8h.6M81.8 76.0h.6M82.2 48.4h.6M78.5 60.8h.6M83.8 56.8h.6M86.5 64.3h.6M75.9 71.3h.6M84.0 75.2h.6M78.0 67.3h.6M76.2 66.2h.6M77.4 55.4h.6M83.7 77.1h.6M77.9 63.3h.6M82.2 66.4h.6M79.0 52.9h.6M83.1 66.1h.6M82.3 67.7h.6M75.3 55.4h.6M78.6 69.9h.6M80.3 65.9h.6M78.9 71.5h.6M82.6 71.9h.6M81.7 76.6h.6M80.5 50.8h.6M82.1 72.2h.6M79.8 61.0h.6M84.6 61.0h.6M85.7 70.4h.6M85.9 71.6h.6M77.8 71.3h.6M81.1 78.1h.6M81.8 64.0h.6M78.7 56.6h.6M80.3 58.7h.6M81.7 54.4h.6M86.4 69.8h.6M80.1 75.2h.6M80.9 70.6h.6M81.7 62.0h.6M83.2 53.2h.6M78.5 64.3h.6M82.9 63.6h.6M82.8 60.7h.6M85.0 72.3h.6M81.5 56.8h.6M84.9 71.8h.6M83.1 69.5h.6M80.5 53.3h.6M77.1 64.4h.6M81.5 73.0h.6M77.6 64.7h.6M83.8 66.2h.6M84.1 73.9h.6M80.6 75.1h.6M81.3 72.7h.6M86.5 54.5h.6M78.2 70.5h.6M81.8 70.6h.6M84.5 76.4h.6M84.4 38.5h.6M83.0 49.5h.6M81.9 70.2h.6M80.6 56.6h.6M83.1 68.8h.6M75.2 61.3h.6M80.2 77.1h.6M78.6 66.0h.6M76.0 73.9h.6M81.5 68.0h.6M84.5 69.8h.6M81.5 66.1h.6M76.6 75.1h.6M81.5 64.2h.6M78.5 76.0h.6M81.8 74.6h.6M78.1 53.0h.6M82.4 53.5h.6M83.0 68.9h.6M79.3 74.7h.6M82.8 77.1h.6M82.2 71.5h.6M82.9 54.9h.6M78.6 57.3h.6M81.8 63.7h.6M80.3 66.5h.6M82.3 57.6h.6M77.8 60.0h.6M85.0 67.9h.6M78.6 63.2h.6M85.0 80.1h.6M80.8 64.2h.6M89.0 69.0h.6M83.8 68.3h.6M76.1 71.2h.6M78.5 56.6h.6M81.2 71.1h.6M63.4 70.3h.6M65.4 62.2h.6M78.8 61.3h.6M73.8 62.1h.6M61.4 67.6h.6M62.7 64.3h.6M65.9 61.1h.6M62.2 60.6h.6M63.4 69.0h.6M75.0 64.4h.6M71.1 63.9h.6M71.5 68.1h.6M56.5 69.9h.6M65.2 71.2h.6M61.2 50.9h.6M64.9 52.9h.6M59.0 52.3h.6M65.9 62.1h.6M63.6 56.1h.6M65.4 60.0h.6M63.7 60.5h.6M55.4 65.3h.6M65.8 57.8h.6M61.7 58.3h.6M66.3 58.1h.6M63.9 67.3h.6M67.1 59.0h.6M53.4 59.2h.6M62.7 62.0h.6M68.8 57.4h.6M61.6 60.7h.6M54.7 48.5h.6M64.3 60.6h.6M66.3 62.9h.6M57.4 57.9h.6M64.2 54.5h.6M69.5 54.2h.6M54.3 53.2h.6M54.4 59.4h.6M59.0 69.4h.6M63.5 60.2h.6M54.4 56.0h.6M70.2 50.3h.6M78.0 66.1h.6M68.4 52.5h.6M70.1 60.4h.6M69.3 57.7h.6M68.6 65.4h.6M64.0 68.5h.6M60.8 69.0h.6M60.2 60.6h.6M71.2 60.5h.6M65.6 64.4h.6M56.1 69.9h.6M74.1 56.0h.6M57.9 62.4h.6M71.9 68.6h.6M72.8 57.5h.6M70.5 55.9h.6M64.2 63.7h.6M63.3 52.7h.6M61.6 47.9h.6M72.3 50.3h.6M67.2 63.7h.6M77.7 57.7h.6M65.4 64.8h.6M70.8 63.1h.6M56.5 57.2h.6M55.0 60.3h.6M69.6 60.5h.6M66.6 68.8h.6M69.5 61.6h.6M63.1 68.2h.6M60.3 53.7h.6M59.7 53.6h.6M67.1 59.8h.6M65.4 61.4h.6M67.5 58.5h.6M69.6 65.4h.6M63.3 68.7h.6M75.2 59.1h.6M67.5 61.6h.6M70.8 58.7h.6M59.0 58.3h.6M62.3 60.2h.6M62.7 65.1h.6M63.7 61.2h.6M61.2 62.4h.6M56.5 66.6h.6M60.7 58.4h.6M65.2 64.1h.6M63.0 63.2h.6M58.3 56.6h.6M61.8 58.7h.6M67.1 62.0h.6M64.4 65.9h.6M58.6 56.4h.6M67.2 60.8h.6M66.1 71.2h.6M76.2 70.2h.6M72.3 54.7h.6M73.1 66.8h.6M70.7 60.4h.6M64.6 57.9h.6M75.7 60.6h.6M70.7 59.3h.6M60.7 60.9h.6M69.0 61.8h.6M68.8 56.6h.6M59.7 56.6h.6M63.6 61.7h.6M55.2 55.1h.6M66.5 60.6h.6M66.1 58.0h.6M67.4 52.1h.6M66.7 62.8h.6M65.5 57.1h.6M71.4 61.2h.6M66.5 62.0h.6M70.2 56.5h.6M62.0 66.9h.6M66.8 64.0h.6M57.3 60.2h.6M53.8 70.2h.6M62.7 62.2h.6M62.5 66.8h.6M68.7 60.7h.6M61.9 63.0h.6M67.3 64.2h.6M61.9 65.9h.6M62.7 60.2h.6M66.5 55.9h.6M73.5 62.7h.6M67.3 58.7h.6M64.3 66.8h.6M65.8 60.8h.6M59.1 56.7h.6M66.0 66.6h.6M57.6 60.1h.6M72.0 61.1h.6M59.7 54.2h.6M73.6 66.6h.6M61.7 69.0h.6M60.5 63.8h.6M62.8 63.4h.6M73.0 61.6h.6M63.6 62.4h.6M66.6 60.8h.6M66.2 57.7h.6M74.3 63.8h.6M57.9 49.2h.6M70.2 53.7h.6M66.2 73.8h.6M71.8 61.2h.6M63.9 47.1h.6M65.9 43.5h.6M62.1 57.7h.6M61.5 62.4h.6M65.0 66.6h.6M80.1 62.6h.6M70.5 58.0h.6M72.4 56.0h.6M65.8 65.8h.6M74.6 65.9h.6M65.0 68.0h.6M71.6 60.2h.6M61.4 52.5h.6M68.4 63.1h.6M75.5 70.7h.6M67.6 62.3h.6M63.9 53.3h.6M63.7 61.9h.6M68.6 60.8h.6M61.6 55.3h.6M71.8 50.8h.6M54.9 54.8h.6M63.7 64.7h.6M62.8 65.8h.6M69.2 72.1h.6M65.7 61.3h.6M69.8 59.4h.6M62.5 71.4h.6M68.5 54.6h.6M56.1 66.3h.6M59.1 56.7h.6M68.0 63.6h.6M58.3 56.5h.6M64.1 64.0h.6M70.9 70.9h.6M63.4 57.4h.6M60.7 59.0h.6M70.7 60.9h.6M63.7 52.3h.6M69.4 68.6h.6M60.2 56.1h.6M55.5 55.9h.6M65.4 66.7h.6M56.5 56.7h.6M62.0 58.4h.6M62.3 69.8h.6M71.3 61.1h.6M63.9 64.1h.6M73.3 48.7h.6M62.4 63.7h.6M59.4 60.0h.6M56.2 55.6h.6M68.1 63.2h.6M69.6 61.4h.6M65.7 63.4h.6M68.5 55.7h.6M68.7 66.9h.6M62.2 67.2h.6M72.4 55.2h.6M66.4 57.3h.6M65.1 59.5h.6M61.8 59.0h.6M76.2 50.9h.6M53.7 61.6h.6M58.4 55.6h.6M74.7 63.6h.6M69.4 59.2h.6M57.7 63.7h.6M55.1 67.1h.6M62.9 57.4h.6M65.7 67.3h.6M60.3 59.8h.6M65.2 61.0h.6M73.2 64.4h.6M65.1 64.5h.6M74.4 59.7h.6M64.9 61.6h.6M74.2 70.2h.6M64.4 63.6h.6M71.3 57.1h.6M70.6 58.1h.6M65.6 56.3h.6M65.9 62.7h.6M67.2 61.8h.6M58.5 54.5h.6M75.6 59.7h.6M59.6 59.8h.6M65.2 57.0h.6M61.7 66.9h.6M66.1 63.5h.6M59.5 58.6h.6M60.8 59.7h.6M54.7 63.4h.6M69.4 66.6h.6M73.8 63.6h.6M55.0 63.7h.6M67.6 60.8h.6M58.4 56.8h.6M68.0 62.8h.6M63.6 58.2h.6M76.1 50.0h.6M87.3 51.8h.6M77.7 45.7h.6M82.2 58.3h.6M85.7 52.6h.6M71.7 48.1h.6M70.0 45.5h.6M85.8 53.0h.6M75.4 50.4h.6M84.2 53.6h.6M67.0 53.0h.6M62.7 49.9h.6M74.2 52.9h.6M90.3 49.4h.6M83.3 57.2h.6M81.2 53.1h.6M79.7 49.7h.6M74.0 59.4h.6M81.1 49.4h.6M85.7 55.5h.6M79.1 48.2h.6M71.6 51.0h.6M76.7 52.3h.6M83.0 55.6h.6M80.6 49.0h.6M75.7 50.6h.6M87.2 50.1h.6M68.3 50.4h.6M85.5 49.0h.6M72.8 60.4h.6M77.8 50.6h.6M82.7 46.5h.6M81.9 51.8h.6M78.2 60.7h.6M85.7 55.1h.6M76.0 49.5h.6M84.9 58.1h.6M72.6 52.6h.6M83.6 55.4h.6M90.0 60.5h.6M81.8 55.1h.6M76.3 52.2h.6M81.7 53.2h.6M87.4 54.5h.6M76.3 53.2h.6M90.6 55.1h.6M82.9 48.8h.6M83.7 54.1h.6M79.4 54.0h.6M91.5 51.6h.6M70.5 58.7h.6M83.0 42.1h.6M76.5 49.4h.6M82.4 45.8h.6M76.3 51.8h.6M96.5 55.5h.6M88.0 57.7h.6M84.5 50.4h.6M87.9 51.9h.6M79.8 54.3h.6M75.1 54.1h.6M90.2 55.1h.6M83.8 50.6h.6M86.4 45.5h.6M73.1 55.4h.6M80.8 58.8h.6M70.7 45.3h.6M78.2 55.4h.6M69.5 56.3h.6M86.6 51.6h.6M84.6 49.4h.6M82.3 50.6h.6M95.2 53.3h.6M85.3 47.2h.6M72.4 57.1h.6M95.7 52.3h.6M59.8 56.1h.6M68.4 51.1h.6M75.1 53.2h.6M74.3 49.8h.6M76.8 53.1h.6M78.5 48.5h.6M74.2 53.6h.6M68.7 56.3h.6M77.4 53.6h.6M75.6 58.1h.6M70.9 49.4h.6M84.2 59.7h.6M77.7 47.8h.6M90.4 48.3h.6M66.2 53.6h.6M86.2 52.8h.6M83.2 52.0h.6M81.4 51.6h.6M75.2 52.8h.6M81.1 53.4h.6M75.4 51.9h.6M81.7 48.1h.6M63.6 55.2h.6M89.2 49.9h.6M75.2 55.6h.6M73.3 57.3h.6M93.2 48.9h.6M78.5 50.3h.6M73.1 45.6h.6M79.1 47.4h.6M87.2 44.9h.6M75.9 50.6h.6M85.1 49.5h.6M77.2 58.0h.6M91.0 58.3h.6M82.0 57.2h.6M84.6 46.2h.6M81.3 50.4h.6M78.1 44.7h.6M73.6 52.9h.6M91.4 53.1h.6M75.3 52.9h.6M65.3 61.3h.6M82.8 48.4h.6M71.7 44.5h.6M76.0 42.5h.6M74.1 45.0h.6M66.0 41.0h.6M79.7 47.1h.6M66.0 46.6h.6M61.7 44.4h.6M61.3 46.1h.6M78.1 41.1h.6M67.5 44.1h.6M65.8 39.7h.6M55.8 48.0h.6M64.9 39.4h.6M64.6 43.0h.6M56.7 41.5h.6M70.4 41.6h.6M71.6 43.9h.6M70.0 41.9h.6M66.6 43.1h.6M66.2 45.8h.6M54.6 43.3h.6M71.4 44.1h.6M65.5 42.8h.6M56.9 40.5h.6M74.9 44.8h.6M54.6 43.4h.6M55.3 43.3h.6M79.2 43.5h.6M65.0 44.6h.6M63.4 46.0h.6M67.4 44.7h.6M55.9 44.9h.6M72.1 45.4h.6M76.2 42.2h.6M70.7 44.0h.6M72.1 45.1h.6M62.0 42.7h.6M61.4 48.0h.5M57.7 47.0h.5M68.9 59.7h.5M62.5 58.7h.5M74.9 78.8h.5M77.1 77.6h.5M76.4 47.2h.5M82.3 45.0h.5M61.8 42.1h.5M87.5 78.6h.5M73.1 53.5h.5M74.2 53.5h.5M87.0 55.1h.5M61.0 74.4h.5M81.3 39.4h.5M94.7 68.8h.5M70.8 64.8h.5M98.1 55.5h.5M74.5 51.3h.5M80.4 66.1h.5M89.2 77.8h.5M60.6 54.0h.5M94.8 71.4h.5M82.2 66.7h.5M70.1 77.6h.5M80.2 55.5h.5M62.4 43.8h.5M97.0 71.8h.5M54.9 52.3h.5M76.8 59.3h.5M71.2 75.6h.5M70.5 60.8h.5M98.6 65.2h.5M76.7 52.7h.5M72.3 64.0h.5M91.6 49.7h.5M71.5 54.9h.5M71.2 76.3h.5M79.7 50.4h.5M69.7 72.6h.5M61.4 67.3h.5M54.7 47.0h.5M56.5 72.0h.5M60.7 48.4h.5M56.4 49.9h.5M89.1 68.5h.5M97.7 77.7h.5M80.3 76.7h.5M57.9 76.8h.5M74.6 47.0h.5M89.8 74.1h.5M72.3 42.9h.5M95.8 69.8h.5M82.5 79.0h.5M55.4 41.4h.5M59.6 40.0h.5M87.9 64.8h.5M59.0 45.7h.5M62.4 64.0h.5M86.1 78.7h.5M71.1 79.0h.5M74.6 55.0h.5M65.9 48.6h.5M100.8 79.7h.5M87.8 46.2h.5M62.3 45.3h.5M70.6 69.2h.5M56.5 60.7h.5M86.5 40.5h.5M74.9 71.4h.5" stroke="#5e5e5e" stroke-width="0.6" fill="none" opacity="0.62"/>
</g>
<g clip-path="url(#cA2)">
<ellipse cx="136.0" cy="53.5" rx="4.2" ry="4.0" fill="#5a5a5a" opacity="0.42" filter="url(#bl)"/>
<ellipse cx="134.4" cy="68.0" rx="3.0" ry="13.0" fill="#5a5a5a" opacity="0.55" filter="url(#bl)" transform="rotate(4 134.4 68.0)"/>
<ellipse cx="118.0" cy="52.5" rx="10.0" ry="2.6" fill="#5a5a5a" opacity="0.07" filter="url(#bl)"/>
<path d="M134.7 50.6h.6M133.4 56.5h.6M138.8 51.9h.6M134.1 59.1h.6M134.2 56.8h.6M137.7 54.7h.6M139.3 50.1h.6M136.4 58.9h.6M132.7 54.3h.6M136.4 58.9h.6M138.5 49.7h.6M134.1 49.1h.6M140.3 47.1h.6M134.3 60.1h.6M134.5 51.5h.6M137.9 51.8h.6M133.2 57.9h.6M130.8 54.8h.6M135.9 58.1h.6M140.8 51.4h.6M140.3 53.2h.6M141.2 56.7h.6M136.4 51.1h.6M135.6 54.6h.6M134.1 58.1h.6M140.3 56.5h.6M133.3 47.6h.6M134.6 50.8h.6M135.7 54.7h.6M134.8 53.7h.6M137.7 53.3h.6M133.9 55.7h.6M133.9 53.2h.6M131.9 53.0h.6M138.2 56.4h.6M134.1 53.1h.6M134.2 52.1h.6M141.1 48.9h.6M132.5 63.4h.6M137.9 50.0h.6M131.5 55.3h.6M137.8 47.7h.6M140.5 47.5h.6M136.5 52.0h.6M134.5 53.5h.6M135.3 53.1h.6M135.9 57.2h.6M134.6 53.4h.6M134.0 51.6h.6M141.7 53.5h.6M136.9 56.8h.6M139.2 58.5h.6M135.7 54.1h.6M136.9 50.2h.6M131.4 52.6h.6M142.0 49.6h.6M137.7 54.1h.6M134.8 54.1h.6M139.5 54.9h.6M137.7 52.6h.6M134.8 56.6h.6M134.0 54.0h.6M135.1 55.3h.6M133.9 56.9h.6M135.3 58.6h.6M133.5 51.0h.6M133.6 55.5h.6M140.0 58.9h.6M131.9 55.1h.6M134.0 53.4h.6M137.5 48.1h.6M134.6 60.1h.6M140.1 55.9h.6M135.2 50.6h.6M137.6 54.3h.6M136.8 50.1h.6M139.1 53.2h.6M134.5 48.7h.6M135.2 52.0h.6M134.3 55.7h.6M134.1 61.7h.6M139.3 56.0h.6M135.6 56.4h.6M135.4 51.0h.6M136.6 55.5h.6M137.9 55.2h.6M133.4 50.8h.6M134.7 57.8h.6M141.8 48.7h.6M133.4 51.0h.6M132.8 56.4h.6M139.3 50.9h.6M143.7 51.0h.6M144.3 53.8h.6M136.4 53.9h.6M135.5 51.6h.6M136.1 52.0h.6M132.4 55.8h.6M129.9 50.7h.6M136.0 58.0h.6M136.0 53.5h.6M137.2 56.5h.6M135.7 56.1h.6M136.0 53.1h.6M139.5 47.9h.6M133.2 48.8h.6M136.4 55.5h.6M141.3 55.9h.6M140.3 59.1h.6M142.3 52.8h.6M135.9 50.9h.6M135.6 56.5h.6M135.1 53.1h.6M128.8 57.6h.6M139.4 57.3h.6M137.9 53.3h.6M139.5 50.6h.6M133.4 62.7h.6M136.0 57.7h.6M134.7 52.5h.6M132.4 52.9h.6M141.2 49.4h.6M137.9 53.4h.6M137.6 54.4h.6M133.4 48.9h.6M139.2 55.4h.6M134.5 50.1h.6M138.2 50.3h.6M136.3 54.5h.6M137.2 51.6h.6M134.0 53.6h.6M134.2 54.5h.6M138.1 56.4h.6M138.0 51.4h.6M134.1 53.7h.6M131.2 50.8h.6M137.2 50.1h.6M134.3 57.1h.6M137.2 54.0h.6M137.5 55.8h.6M138.5 57.2h.6M137.4 51.2h.6M135.7 46.5h.6M137.9 53.6h.6M138.7 52.6h.6M133.7 57.5h.6M137.0 51.9h.6M136.6 55.0h.6M132.7 56.0h.6M139.7 55.8h.6M137.5 56.8h.6M137.4 52.8h.6M131.4 53.3h.6M136.1 51.7h.6M133.4 52.0h.6M135.1 52.8h.6M136.1 53.7h.6M139.2 54.0h.6M137.4 53.9h.6M127.4 49.8h.6M138.2 52.3h.6M134.3 52.5h.6M138.9 49.8h.6M136.9 51.9h.6M137.8 56.9h.6M135.8 60.2h.6M138.3 56.4h.6M136.3 51.5h.6M133.1 51.8h.6M133.9 54.4h.6M134.0 58.5h.6M136.5 51.9h.6M136.4 51.9h.6M131.9 51.7h.6M132.3 46.3h.6M137.5 58.1h.6M134.8 54.0h.6M137.1 53.1h.6M133.8 49.3h.6M140.0 50.8h.6M139.7 50.3h.6M144.4 52.1h.6M136.3 53.3h.6M138.8 57.6h.6M133.0 56.3h.6M141.2 56.9h.6M134.7 53.2h.6M139.3 50.2h.6M136.2 54.4h.6M141.1 49.8h.6M136.1 56.1h.6M133.3 57.9h.6M133.2 56.1h.6M135.4 57.7h.6M135.0 57.2h.6M139.6 54.7h.6M136.5 50.8h.6M138.8 51.0h.6M135.1 51.7h.6M139.7 52.9h.6M136.1 50.4h.6M134.6 52.5h.6M135.7 51.1h.6M131.6 54.1h.6M132.6 54.2h.6M143.0 53.5h.6M136.0 50.6h.6M139.1 52.7h.6M130.8 52.1h.6M136.7 48.7h.6M139.4 54.3h.6M138.2 51.9h.6M140.1 50.3h.6M134.2 53.3h.6M141.4 54.0h.6M132.5 51.0h.6M132.7 50.5h.6M137.3 53.3h.6M136.8 53.0h.6M135.3 57.1h.6M129.3 49.7h.6M134.2 54.2h.6M137.4 52.8h.6M131.5 54.9h.6M136.4 50.6h.6M139.6 53.1h.6M130.0 52.0h.6M131.3 57.0h.6M137.4 50.6h.6M143.7 50.3h.6M137.8 54.2h.6M142.9 52.2h.6M134.0 55.1h.6M131.1 57.3h.6M137.1 51.7h.6M133.3 53.9h.6M140.6 58.2h.6M137.3 50.7h.6M134.9 51.6h.6M136.6 56.5h.6M136.5 53.2h.6M139.9 50.0h.6M140.1 51.2h.6M134.8 52.1h.6M136.8 58.0h.6M134.6 51.6h.6M141.8 55.3h.6M135.0 55.3h.6M134.2 50.1h.6M136.9 53.1h.6M140.0 51.5h.6M134.1 50.6h.6M137.6 55.0h.6M139.1 52.3h.6M141.1 49.3h.6M142.1 60.1h.6M142.1 53.9h.6M140.2 53.7h.6M136.8 52.9h.6M131.0 55.1h.6M138.5 65.5h.6M137.9 38.9h.6M134.3 76.5h.6M137.4 69.4h.6M129.8 70.8h.6M134.6 58.2h.6M133.2 68.9h.6M138.3 66.5h.6M139.6 38.8h.6M135.0 76.7h.6M134.5 67.6h.6M134.6 71.1h.6M136.8 60.4h.6M135.0 59.4h.6M132.1 64.0h.6M133.7 73.4h.6M135.2 56.1h.6M138.9 54.0h.6M138.5 72.6h.6M136.5 61.9h.6M133.3 58.0h.6M135.4 66.6h.6M133.0 76.5h.6M135.6 78.3h.6M134.8 58.9h.6M139.1 58.5h.6M136.9 62.1h.6M133.0 76.4h.6M135.6 62.7h.6M132.2 59.9h.6M136.0 58.1h.6M138.3 69.4h.6M137.2 49.7h.6M138.1 56.2h.6M134.1 74.3h.6M132.5 62.3h.6M135.2 61.1h.6M136.7 74.1h.6M133.0 64.9h.6M133.7 64.2h.6M133.9 62.9h.6M135.0 59.0h.6M134.5 62.5h.6M135.9 54.0h.6M135.4 73.1h.6M132.3 62.2h.6M132.9 54.8h.6M134.3 61.2h.6M137.5 50.2h.6M134.2 52.5h.6M136.9 60.5h.6M133.7 64.8h.6M134.2 65.6h.6M132.7 66.4h.6M132.9 71.0h.6M131.4 73.1h.6M137.5 50.3h.6M132.2 62.9h.6M132.8 71.8h.6M132.5 74.7h.6M134.0 76.3h.6M134.4 71.0h.6M133.9 64.0h.6M135.6 71.9h.6M139.8 63.5h.6M133.3 78.0h.6M132.4 69.8h.6M132.8 66.7h.6M134.5 54.7h.6M133.1 71.0h.6M132.3 64.1h.6M131.7 69.9h.6M139.1 75.6h.6M138.4 64.3h.6M132.6 71.1h.6M132.5 64.2h.6M135.9 68.6h.6M133.0 76.5h.6M135.3 56.0h.6M129.8 66.9h.6M136.0 63.3h.6M138.3 58.4h.6M132.9 62.0h.6M134.7 61.9h.6M132.3 77.2h.6M135.8 50.3h.6M137.4 72.5h.6M138.7 56.7h.6M134.8 74.0h.6M133.1 60.1h.6M137.3 58.3h.6M136.6 69.6h.6M138.8 67.0h.6M134.5 54.9h.6M133.9 63.9h.6M132.4 68.9h.6M130.3 78.7h.6M131.3 59.6h.6M136.9 54.0h.6M133.4 73.6h.6M135.1 75.6h.6M134.8 61.9h.6M138.6 71.0h.6M135.6 63.3h.6M136.7 72.8h.6M136.5 71.6h.6M134.7 57.2h.6M136.0 48.8h.6M134.9 68.4h.6M131.3 68.9h.6M134.6 60.8h.6M132.3 69.1h.6M132.9 66.5h.6M134.1 54.8h.6M137.0 59.7h.6M133.3 65.5h.6M134.6 52.4h.6M133.7 69.7h.6M135.4 67.5h.6M135.4 67.4h.6M135.2 60.1h.6M137.1 64.1h.6M138.4 55.6h.6M133.4 66.7h.6M134.7 67.7h.6M135.6 65.3h.6M131.1 61.9h.6M133.8 74.2h.6M138.9 48.2h.6M136.2 60.9h.6M135.2 57.0h.6M137.3 52.0h.6M131.6 72.9h.6M136.1 71.9h.6M132.2 75.3h.6M132.5 60.8h.6M136.2 55.1h.6M137.3 67.9h.6M133.5 70.1h.6M139.1 53.8h.6M134.2 69.1h.6M132.9 57.8h.6M131.7 73.6h.6M135.3 73.1h.6M131.1 63.8h.6M137.2 71.5h.6M132.3 59.6h.6M133.8 78.0h.6M137.7 61.5h.6M135.7 64.8h.6M133.1 63.6h.6M132.3 69.6h.6M134.7 50.4h.6M135.8 79.4h.6M135.8 63.3h.6M136.9 58.4h.6M135.4 63.2h.6M134.9 59.3h.6M133.1 76.9h.6M135.6 61.0h.6M133.2 76.0h.6M132.0 56.3h.6M138.0 54.6h.6M135.6 66.7h.6M134.1 77.8h.6M132.9 72.1h.6M137.2 52.0h.6M135.8 66.6h.6M135.0 57.3h.6M137.3 68.4h.6M134.9 65.3h.6M138.0 47.0h.6M137.7 63.3h.6M133.7 66.6h.6M133.5 71.7h.6M138.3 62.6h.6M133.8 76.9h.6M135.6 75.3h.6M134.0 73.1h.6M135.3 68.2h.6M134.7 72.9h.6M134.7 62.2h.6M131.8 71.9h.6M136.1 67.4h.6M133.7 69.1h.6M133.4 67.3h.6M132.7 76.9h.6M133.2 51.5h.6M134.6 70.4h.6M131.9 63.0h.6M132.7 66.1h.6M135.0 61.2h.6M135.8 60.1h.6M134.0 60.4h.6M137.9 65.3h.6M135.1 60.4h.6M135.4 76.3h.6M135.7 51.9h.6M136.7 60.4h.6M132.7 73.6h.6M138.7 66.7h.6M133.8 62.5h.6M131.3 72.1h.6M135.7 70.9h.6M133.8 62.7h.6M136.6 52.4h.6M135.2 79.4h.6M135.2 76.3h.6M132.4 58.7h.6M134.2 73.6h.6M133.0 77.0h.6M136.2 59.0h.6M131.3 62.2h.6M133.0 61.7h.6M134.2 56.8h.6M138.8 76.6h.6M133.3 78.5h.6M132.6 71.4h.6M130.8 66.8h.6M132.6 73.1h.6M131.6 70.1h.6M136.8 63.9h.6M129.7 73.2h.6M130.8 75.7h.6M135.3 70.2h.6M134.3 61.3h.6M135.5 65.1h.6M136.6 76.3h.6M138.5 70.6h.6M139.1 58.4h.6M136.3 65.0h.6M134.7 66.3h.6M136.1 58.7h.6M134.5 67.3h.6M133.4 74.3h.6M134.9 67.5h.6M135.4 80.0h.6M134.0 57.4h.6M136.3 67.7h.6M133.1 76.8h.6M130.6 73.0h.6M134.6 50.4h.6M136.1 74.4h.6M136.8 66.5h.6M137.3 73.0h.6M134.0 52.2h.6M133.0 58.3h.6M134.3 59.5h.6M132.7 76.0h.6M135.0 74.6h.6M129.8 61.4h.6M132.5 58.7h.6M136.2 57.2h.6M132.3 68.0h.6M135.5 78.0h.6M132.5 70.2h.6M130.7 59.1h.6M135.0 71.2h.6M135.3 58.7h.6M137.2 51.1h.6M133.7 63.4h.6M133.6 73.5h.6M134.7 77.1h.6M133.7 78.6h.6M139.3 46.8h.6M138.2 51.2h.6M131.2 69.9h.6M136.3 68.1h.6M135.4 57.7h.6M132.9 60.4h.6M137.8 61.6h.6M133.8 74.1h.6M134.8 66.7h.6M134.6 70.3h.6M137.9 51.0h.6M129.5 59.3h.6M131.2 74.3h.6M134.3 66.1h.6M136.1 61.8h.6M134.1 64.9h.6M134.6 58.3h.6M135.4 57.5h.6M131.1 71.6h.6M135.6 77.4h.6M133.7 67.7h.6M131.1 78.0h.6M139.8 63.8h.6M129.2 77.1h.6M137.4 67.7h.6M136.3 61.6h.6M131.1 68.5h.6M137.4 61.5h.6M132.1 78.9h.6M131.9 78.3h.6M134.2 69.9h.6M136.2 55.5h.6M128.7 63.8h.6M133.3 59.5h.6M133.0 59.5h.6M129.6 60.9h.6M133.8 76.1h.6M133.6 70.0h.6M133.8 68.1h.6M132.0 57.0h.6M136.6 68.2h.6M137.7 69.8h.6M135.0 54.3h.6M137.7 61.5h.6M133.2 74.5h.6M135.0 57.9h.6M138.7 57.5h.6M136.5 73.2h.6M128.8 71.0h.6M133.9 75.2h.6M136.7 44.5h.6M137.3 77.2h.6M137.0 57.6h.6M133.7 70.7h.6M135.8 64.8h.6M135.4 73.1h.6M131.9 63.6h.6M134.8 62.1h.6M129.8 75.3h.6M139.3 72.3h.6M132.6 70.1h.6M133.3 69.5h.6M130.3 69.2h.6M132.3 55.1h.6M133.4 76.2h.6M128.9 78.6h.6M138.1 61.7h.6M131.0 59.9h.6M134.3 60.3h.6M137.3 67.4h.6M132.8 73.1h.6M131.6 62.7h.6M136.1 79.8h.6M132.4 68.4h.6M134.9 74.0h.6M131.7 69.0h.6M132.9 69.8h.6M135.1 74.6h.6M133.1 71.7h.6M135.2 79.7h.6M134.7 73.9h.6M131.3 57.2h.6M136.6 58.5h.6M134.0 76.3h.6M138.4 68.4h.6M130.8 63.7h.6M135.0 52.6h.6M135.4 74.2h.6M136.4 65.4h.6M132.8 67.0h.6M136.4 63.9h.6M131.1 76.7h.6M135.5 58.0h.6M136.4 55.5h.6M132.6 72.4h.6M135.5 67.3h.6M135.9 50.7h.6M135.9 73.3h.6M133.2 78.7h.6M138.6 53.6h.6M132.3 74.9h.6M135.8 77.5h.6M129.3 66.2h.6M133.1 63.0h.6M134.9 59.5h.6M136.2 57.1h.6M132.3 77.5h.6M133.7 72.7h.6M131.7 79.8h.6M132.1 74.5h.6M134.2 69.7h.6M130.0 78.0h.6M138.6 54.5h.6M137.8 71.2h.6M135.8 57.6h.6M137.8 73.3h.6M133.5 67.0h.6M133.6 74.4h.6M136.7 60.3h.6M133.8 49.2h.6M135.5 64.4h.6M134.6 78.3h.6M134.0 58.3h.6M133.2 77.6h.6M136.9 61.5h.6M138.2 78.4h.6M133.8 57.2h.6M135.8 60.9h.6M137.3 62.9h.6M138.8 41.7h.6M134.3 61.3h.6M134.4 72.9h.6M138.6 57.8h.6M132.8 73.0h.6M131.8 69.5h.6M134.8 55.7h.6M134.3 71.0h.6M132.0 60.1h.6M139.4 51.4h.6M132.3 71.0h.6M134.6 78.9h.6M133.4 63.5h.6M134.1 78.4h.6M133.6 61.9h.6M135.6 60.8h.6M135.5 69.9h.6M131.7 71.8h.6M132.5 65.6h.6M131.1 72.1h.6M133.0 61.9h.6M134.4 61.6h.6M135.0 53.8h.6M135.0 74.6h.6M138.6 69.8h.6M133.6 78.1h.6M130.4 79.1h.6M132.6 65.9h.6M137.8 69.2h.6M138.3 62.8h.6M138.4 57.8h.6M134.0 51.3h.6M133.3 77.0h.6M134.2 68.9h.6M133.9 69.2h.6M134.6 58.2h.6M132.3 68.6h.6M137.9 72.0h.6M134.6 51.9h.6M134.7 64.8h.6M132.7 68.4h.6M134.4 67.2h.6M137.9 66.7h.6M131.0 68.7h.6M137.0 52.6h.6M133.3 64.3h.6M134.9 54.6h.6M133.0 66.6h.6M136.7 64.2h.6M134.9 75.0h.6M131.6 65.9h.6M137.0 74.9h.6M135.9 79.6h.6M135.0 70.1h.6M137.2 67.4h.6M139.4 64.9h.6M133.0 74.9h.6M130.9 67.5h.6M134.4 60.5h.6M133.8 76.2h.6M136.0 64.7h.6M138.2 48.5h.6M134.8 66.9h.6M132.8 73.8h.6M135.4 68.7h.6M135.6 64.2h.6M135.7 70.7h.6M134.1 58.1h.6M137.4 63.4h.6M130.5 69.9h.6M139.8 55.3h.6M131.3 70.7h.6M135.5 58.8h.6M134.1 64.0h.6M137.2 68.4h.6M132.1 72.1h.6M135.7 53.0h.6M137.0 72.4h.6M139.6 42.6h.6M137.2 73.4h.6M134.2 75.1h.6M134.9 71.6h.6M134.7 61.5h.6M133.3 68.7h.6M132.5 53.6h.6M135.1 72.3h.6M131.7 68.5h.6M132.8 75.6h.6M139.6 47.8h.6M140.7 53.3h.6M133.0 72.6h.6M134.9 45.1h.6M130.4 70.0h.6M134.1 63.9h.6M133.7 71.9h.6M130.5 70.8h.6M138.1 61.4h.6M137.7 53.7h.6M138.3 54.3h.6M136.7 49.9h.6M137.5 63.6h.6M133.8 78.7h.6M132.6 63.0h.6M133.8 71.4h.6M131.2 63.0h.6M134.3 66.1h.6M132.4 76.8h.6M133.4 52.6h.6M135.0 67.1h.6M132.9 74.4h.6M134.3 72.6h.6M135.5 68.9h.6M131.3 79.1h.6M134.2 63.0h.6M139.1 47.2h.6M133.5 77.7h.6M130.5 76.1h.6M135.5 56.1h.6M135.9 74.7h.6M133.1 69.2h.6M132.1 74.8h.6M136.2 66.8h.6M136.5 53.8h.6M134.0 48.9h.6M135.3 55.8h.6M133.7 74.3h.6M133.8 76.2h.6M135.7 65.6h.6M134.9 65.2h.6M132.2 77.4h.6M131.0 78.5h.6M130.7 65.4h.6M138.4 62.5h.6M136.9 70.9h.6M133.4 53.5h.6M135.8 71.9h.6M130.0 75.5h.6M133.8 72.4h.6M135.4 68.7h.6M130.9 64.8h.6M132.1 57.3h.6M135.2 55.0h.6M131.7 80.0h.6M132.5 60.2h.6M136.0 51.0h.6M134.3 62.9h.6M136.3 58.3h.6M136.6 56.0h.6M136.7 61.2h.6M136.1 59.0h.6M133.8 71.7h.6M136.7 59.0h.6M133.9 59.6h.6M134.8 67.6h.6M137.1 65.0h.6M135.3 66.0h.6M136.1 67.9h.6M131.0 61.9h.6M135.7 58.0h.6M138.3 69.3h.6M135.5 77.4h.6M135.2 62.2h.6M132.7 61.9h.6M134.0 64.2h.6M133.9 58.8h.6M139.7 67.6h.6M133.3 66.9h.6M136.4 68.7h.6M134.2 59.7h.6M137.5 50.8h.6M137.2 74.0h.6M140.3 56.1h.6M133.0 75.8h.6M134.0 63.8h.6M137.2 55.9h.6M133.3 61.7h.6M134.2 72.4h.6M134.4 61.9h.6M137.8 62.8h.6M131.9 77.1h.6M137.5 67.1h.6M138.6 64.8h.6M135.5 71.8h.6M138.1 47.7h.6M135.4 70.7h.6M135.2 72.1h.6M136.8 62.6h.6M132.0 68.1h.6M135.6 57.8h.6M129.2 70.7h.6M138.5 47.8h.6M140.8 67.4h.6M135.2 52.9h.6M136.2 61.8h.6M138.0 57.9h.6M136.1 55.9h.6M135.6 69.1h.6M138.1 59.9h.6M134.4 66.8h.6M132.3 65.0h.6M134.5 74.4h.6M138.2 71.9h.6M134.5 59.2h.6M136.3 67.6h.6M136.6 65.8h.6M130.1 71.9h.6M130.5 61.0h.6M133.7 64.8h.6M134.3 73.1h.6M137.3 66.9h.6M131.1 73.2h.6M135.7 60.9h.6M135.1 65.9h.6M133.5 75.0h.6M133.2 70.3h.6M133.1 62.2h.6M132.6 73.8h.6M134.8 72.8h.6M127.6 76.8h.6M132.5 58.3h.6M136.3 65.9h.6M135.9 63.8h.6M138.4 46.7h.6M135.8 67.6h.6M132.8 57.6h.6M134.9 61.3h.6M133.3 70.8h.6M135.6 70.8h.6M135.2 56.4h.6M134.5 52.6h.6M132.0 76.2h.6M133.9 76.0h.6M136.1 75.8h.6M133.1 68.5h.6M139.2 62.2h.6M133.5 65.7h.6M131.2 60.7h.6M135.6 62.7h.6M112.8 51.9h.6M121.1 53.9h.6M120.1 52.0h.6M123.9 50.8h.6M115.7 50.8h.6M115.1 53.3h.6M132.3 50.4h.6M109.4 53.3h.6M109.1 53.7h.6M121.6 54.3h.6M126.2 56.8h.6M124.4 52.0h.6M117.2 52.0h.6M121.6 52.5h.6M107.3 53.3h.6M122.6 51.5h.6M128.9 55.5h.6M121.1 48.9h.6M123.2 51.9h.6M117.0 49.2h.6M113.6 54.6h.6M111.3 52.2h.6M109.0 55.5h.6M115.7 50.9h.6M132.4 52.3h.6M112.3 53.6h.6M120.3 54.3h.6M117.6 53.6h.6M110.0 54.0h.6M115.1 50.3h.6M122.8 50.5h.6M126.4 57.4h.6M120.3 54.0h.6M109.1 51.5h.6M107.9 54.2h.6M117.0 53.7h.6M118.3 54.7h.6M114.0 53.2h.6M115.7 49.1h.6M125.1 54.6h.6M111.2 56.1h.6M122.8 50.9h.6M135.5 52.0h.6M107.6 53.7h.6M128.7 51.8h.6M119.0 48.9h.6M128.9 49.9h.6M111.0 52.0h.6M113.1 49.2h.6M114.8 47.3h.6M118.7 57.9h.6M110.1 52.4h.6M114.8 53.8h.6M127.4 51.1h.6M111.9 54.0h.6M117.6 56.3h.6M119.0 54.1h.6M122.2 55.7h.6M122.9 52.2h.6M118.9 52.1h.6M110.8 56.7h.6M115.3 50.7h.6M126.9 51.9h.6M133.6 49.4h.6M114.9 56.6h.6M115.5 53.4h.6M122.5 54.5h.6M123.2 54.7h.6M116.8 57.3h.6M116.7 54.6h.6M119.5 53.1h.6M120.4 52.9h.6M117.0 51.1h.6M110.0 51.6h.6M114.6 51.4h.6M107.3 52.7h.6M110.3 52.4h.6M119.3 51.2h.6M120.0 55.5h.6M115.0 51.9h.6M106.9 56.0h.6M107.8 55.6h.6M118.3 51.6h.6M129.4 52.5h.6M117.7 54.1h.6M118.3 55.1h.6M125.7 51.2h.6M126.7 56.4h.6M131.0 50.4h.6M123.2 52.1h.6M134.2 55.7h.6M111.0 49.4h.6M121.4 55.7h.6M116.7 54.0h.6M136.3 47.1h.6M114.2 47.4h.6M119.6 53.0h.6M116.2 54.7h.6M115.5 51.0h.6M110.4 48.3h.6M113.3 57.4h.6M131.0 52.8h.6M118.8 55.4h.6M116.2 54.7h.6M124.8 51.0h.6M129.0 53.3h.6M126.2 55.7h.6M127.1 58.7h.6M123.6 55.5h.6M129.6 58.2h.6M127.9 66.0h.6M130.3 48.4h.6M125.8 68.2h.6M127.2 53.1h.6M126.4 43.0h.6M120.6 56.1h.6M123.7 59.8h.6M124.5 47.9h.6M137.4 60.1h.6M129.0 63.1h.6M126.7 54.5h.6M125.5 61.7h.6M132.7 59.0h.6M125.1 52.6h.6M128.0 59.2h.6M125.4 56.4h.6M137.1 56.7h.6M120.1 63.7h.6M128.5 57.2h.6M121.2 57.2h.6M128.7 56.4h.6M129.5 53.7h.6M120.6 45.0h.6M129.9 57.5h.6M125.8 56.2h.6M133.3 57.9h.6M127.6 61.4h.6M133.2 54.7h.6M132.3 59.7h.6M123.8 55.6h.6M124.9 57.9h.6M132.2 62.6h.6M131.3 46.3h.6M133.1 63.5h.6M123.8 54.7h.6M133.0 61.8h.6M122.4 57.3h.6M129.3 49.5h.6M124.7 52.9h.6M133.1 59.2h.6M124.7 46.9h.6M127.8 63.4h.6M131.1 55.3h.6M122.0 51.4h.6M135.7 57.1h.6M128.0 62.0h.6M126.0 62.0h.6M119.8 51.2h.6M132.4 58.3h.6M127.8 58.8h.6M133.3 55.0h.6M120.9 56.8h.6M124.8 63.7h.6M128.0 58.9h.6M129.2 62.2h.6M129.0 63.0h.6M125.5 54.7h.6M123.9 60.2h.6M126.8 61.6h.6M123.7 52.4h.6M136.7 56.3h.6M128.1 60.8h.6M137.3 52.6h.6M128.0 55.6h.6M134.5 54.9h.6M125.8 57.9h.6M144.3 55.0h.5M132.0 56.3h.5M127.8 79.5h.5M151.1 76.6h.5M142.2 67.7h.5M113.5 40.5h.5M146.8 66.6h.5M137.1 51.9h.5M119.5 76.7h.5M132.4 39.9h.5M123.1 53.3h.5M109.9 79.0h.5M150.3 72.3h.5M106.8 56.1h.5M112.0 68.7h.5M145.8 71.3h.5M144.9 44.0h.5M107.2 42.9h.5M147.4 72.9h.5M131.6 48.7h.5M148.1 44.0h.5M122.3 39.2h.5M154.2 56.0h.5M143.9 71.8h.5M134.7 79.4h.5M144.1 76.9h.5M153.2 42.4h.5M142.9 48.3h.5M122.3 53.0h.5M154.4 41.6h.5M127.6 44.3h.5M154.9 59.3h.5M140.6 60.3h.5M143.7 52.8h.5M126.6 69.5h.5M140.6 75.3h.5M121.6 73.7h.5M142.3 62.5h.5M126.4 62.2h.5M110.3 43.1h.5M121.7 44.1h.5M109.0 68.3h.5M142.0 64.2h.5M116.6 68.6h.5M146.6 64.4h.5" stroke="#5e5e5e" stroke-width="0.6" fill="none" opacity="0.62"/>
</g>
<g clip-path="url(#cA3)">
<ellipse cx="65.5" cy="96.0" rx="6.5" ry="3.0" fill="#5a5a5a" opacity="0.30" filter="url(#bl)"/>
<ellipse cx="83.8" cy="98.0" rx="4.4" ry="5.0" fill="#5a5a5a" opacity="0.62" filter="url(#bl)"/>
<ellipse cx="83.0" cy="116.0" rx="3.0" ry="16.0" fill="#5a5a5a" opacity="0.56" filter="url(#bl)" transform="rotate(2 83.0 116.0)"/>
<path d="M72.1 96.5h.6M68.0 94.3h.6M73.9 99.2h.6M56.6 91.8h.6M69.1 97.0h.6M65.4 95.1h.6M71.6 94.9h.6M66.8 90.1h.6M62.0 92.6h.6M60.8 91.9h.6M65.6 95.9h.6M64.4 100.8h.6M67.3 96.9h.6M73.0 96.7h.6M66.3 96.4h.6M65.5 95.7h.6M70.6 95.9h.6M65.9 96.1h.6M69.4 95.9h.6M70.3 94.7h.6M69.0 94.5h.6M66.7 101.1h.6M59.5 95.8h.6M65.6 98.0h.6M62.1 98.4h.6M74.8 97.4h.6M63.8 97.1h.6M65.5 92.5h.6M68.6 97.8h.6M60.2 93.0h.6M60.3 93.4h.6M66.9 95.3h.6M66.5 101.1h.6M57.0 99.9h.6M69.6 100.1h.6M69.7 97.2h.6M75.3 97.6h.6M56.6 98.1h.6M73.8 91.3h.6M72.3 95.8h.6M62.1 95.1h.6M67.1 95.1h.6M62.3 96.5h.6M68.7 97.4h.6M59.8 93.6h.6M63.9 90.8h.6M61.9 96.0h.6M64.8 94.4h.6M68.4 96.1h.6M67.7 98.2h.6M60.5 99.0h.6M67.4 97.6h.6M62.0 93.2h.6M65.9 97.2h.6M62.7 92.6h.6M69.8 100.1h.6M72.4 96.2h.6M64.6 93.6h.6M63.8 98.6h.6M68.5 93.0h.6M59.1 96.4h.6M58.2 95.2h.6M62.0 102.9h.6M61.9 96.1h.6M63.2 93.4h.6M74.5 96.6h.6M73.5 96.8h.6M65.9 93.2h.6M57.5 94.8h.6M64.3 105.9h.6M61.6 96.7h.6M60.2 94.5h.6M63.4 98.7h.6M66.4 95.6h.6M66.7 92.7h.6M67.8 95.5h.6M65.7 95.0h.6M70.5 97.4h.6M70.5 94.2h.6M64.5 93.4h.6M66.2 96.3h.6M60.5 89.3h.6M70.2 95.5h.6M73.3 94.1h.6M65.9 91.2h.6M65.6 97.4h.6M70.3 96.7h.6M68.5 93.9h.6M64.3 98.8h.6M59.4 89.8h.6M60.1 93.7h.6M61.4 97.2h.6M68.4 102.6h.6M64.0 92.5h.6M69.0 100.1h.6M70.8 93.3h.6M76.9 94.7h.6M68.6 94.5h.6M63.2 97.5h.6M71.5 95.6h.6M65.2 97.3h.6M74.5 97.2h.6M67.9 98.5h.6M57.5 96.9h.6M63.0 96.4h.6M62.4 98.0h.6M60.1 97.2h.6M61.8 98.4h.6M68.5 95.9h.6M65.5 95.1h.6M74.6 98.8h.6M60.9 91.2h.6M70.3 97.8h.6M66.0 94.7h.6M77.2 95.5h.6M59.4 95.5h.6M58.9 91.9h.6M63.5 99.5h.6M68.8 101.2h.6M68.8 97.0h.6M70.2 98.1h.6M62.6 93.4h.6M66.0 94.5h.6M59.2 95.3h.6M74.7 94.1h.6M61.1 101.7h.6M65.3 97.0h.6M69.2 93.7h.6M74.1 95.8h.6M63.9 97.2h.6M65.0 88.9h.6M61.8 98.3h.6M69.0 98.4h.6M64.5 91.3h.6M69.4 96.9h.6M65.4 96.4h.6M64.0 95.1h.6M60.0 96.0h.6M63.8 97.7h.6M62.9 97.4h.6M66.2 97.1h.6M67.9 98.4h.6M64.6 98.5h.6M64.2 95.9h.6M64.9 92.7h.6M69.5 98.9h.6M67.0 93.7h.6M58.5 98.0h.6M67.2 96.9h.6M66.8 98.0h.6M55.2 91.4h.6M63.5 101.3h.6M72.0 99.4h.6M59.6 96.2h.6M65.3 99.6h.6M68.0 97.4h.6M70.7 98.5h.6M58.3 92.2h.6M65.5 96.4h.6M64.8 98.1h.6M75.9 95.5h.6M71.4 99.7h.6M61.5 98.8h.6M65.1 95.8h.6M61.0 93.1h.6M59.3 96.4h.6M67.9 97.4h.6M63.8 95.4h.6M68.0 97.6h.6M59.2 97.0h.6M76.0 91.7h.6M63.6 94.3h.6M61.4 91.1h.6M69.6 94.0h.6M58.3 89.0h.6M63.0 94.9h.6M63.2 93.9h.6M66.9 91.8h.6M66.3 99.2h.6M72.0 94.6h.6M60.2 97.3h.6M62.4 94.5h.6M71.7 95.9h.6M64.7 94.1h.6M59.4 96.3h.6M68.6 94.7h.6M55.9 99.0h.6M64.0 97.9h.6M68.7 99.4h.6M67.1 101.3h.6M61.2 94.9h.6M68.3 92.2h.6M69.7 97.4h.6M57.9 96.9h.6M64.3 94.9h.6M69.4 96.4h.6M67.0 99.8h.6M60.3 90.5h.6M61.6 90.3h.6M66.7 92.8h.6M71.2 95.4h.6M63.2 98.9h.6M65.6 98.5h.6M72.4 97.2h.6M65.2 92.9h.6M61.6 100.1h.6M66.2 96.6h.6M58.8 94.9h.6M60.5 94.2h.6M66.8 98.9h.6M59.4 97.9h.6M66.2 97.3h.6M61.8 98.8h.6M72.5 98.2h.6M60.8 100.8h.6M58.0 93.0h.6M68.5 98.6h.6M61.1 96.9h.6M73.7 99.3h.6M64.9 95.9h.6M68.1 99.2h.6M63.4 99.6h.6M63.8 96.9h.6M64.0 94.5h.6M68.1 95.2h.6M65.9 95.2h.6M59.3 93.8h.6M60.5 99.8h.6M70.3 100.8h.6M62.2 89.9h.6M65.6 94.9h.6M62.4 95.5h.6M64.9 99.3h.6M62.0 98.6h.6M72.3 94.2h.6M59.9 95.3h.6M70.9 95.5h.6M61.8 95.6h.6M70.5 97.7h.6M63.9 95.5h.6M79.2 95.0h.6M74.4 95.5h.6M67.6 95.6h.6M66.4 90.6h.6M63.9 96.1h.6M58.6 94.9h.6M66.4 92.0h.6M65.0 94.3h.6M62.9 95.5h.6M74.9 94.1h.6M62.9 93.1h.6M59.6 95.2h.6M69.9 93.4h.6M66.2 98.5h.6M69.7 104.6h.6M61.4 99.3h.6M74.1 98.9h.6M74.7 95.0h.6M59.7 93.9h.6M81.3 97.8h.6M80.3 100.3h.6M77.7 98.3h.6M87.1 97.9h.6M84.8 97.1h.6M80.4 101.9h.6M84.1 93.5h.6M83.0 99.0h.6M87.6 94.6h.6M83.0 93.9h.6M86.1 97.9h.6M81.2 96.4h.6M81.2 105.2h.6M83.3 100.8h.6M83.7 96.3h.6M84.8 97.1h.6M83.7 89.0h.6M80.8 98.3h.6M91.1 96.6h.6M85.8 104.6h.6M82.8 98.8h.6M82.4 102.9h.6M86.0 95.1h.6M81.3 94.6h.6M78.8 103.2h.6M84.2 97.8h.6M79.3 98.9h.6M82.8 97.2h.6M86.9 104.8h.6M86.5 95.3h.6M83.4 100.3h.6M82.9 97.2h.6M81.8 92.5h.6M88.3 101.3h.6M82.6 104.6h.6M76.3 100.2h.6M79.9 97.1h.6M78.6 100.9h.6M80.4 94.3h.6M86.4 99.4h.6M89.4 94.7h.6M81.2 98.6h.6M83.8 99.3h.6M84.9 101.0h.6M87.5 105.8h.6M86.3 95.7h.6M80.7 100.7h.6M81.3 95.4h.6M85.8 89.2h.6M87.6 97.2h.6M84.0 96.0h.6M86.8 100.6h.6M80.6 99.2h.6M86.5 105.8h.6M88.9 102.9h.6M85.1 103.0h.6M85.8 99.7h.6M86.3 92.7h.6M85.1 94.6h.6M86.0 94.4h.6M91.6 96.3h.6M85.4 98.7h.6M82.9 94.8h.6M82.9 97.8h.6M81.1 96.5h.6M82.6 100.7h.6M84.9 95.1h.6M83.3 95.1h.6M80.9 96.2h.6M81.2 97.2h.6M84.9 93.6h.6M79.2 97.0h.6M84.4 96.6h.6M85.0 99.5h.6M85.7 98.9h.6M81.3 96.3h.6M82.5 100.2h.6M85.8 98.1h.6M87.6 101.4h.6M82.6 95.6h.6M79.3 100.0h.6M85.7 93.6h.6M80.9 95.9h.6M85.5 100.9h.6M82.8 101.3h.6M82.7 97.0h.6M77.5 99.1h.6M86.0 95.6h.6M83.6 95.3h.6M85.4 98.5h.6M80.3 96.3h.6M81.6 106.9h.6M78.3 104.1h.6M83.2 98.4h.6M90.2 104.7h.6M80.6 101.5h.6M81.5 95.2h.6M84.6 96.2h.6M83.0 95.2h.6M88.3 103.2h.6M80.8 91.4h.6M87.8 96.7h.6M89.7 96.9h.6M88.3 99.3h.6M82.8 95.0h.6M85.6 101.6h.6M82.9 91.4h.6M85.8 98.7h.6M89.2 95.8h.6M88.3 98.6h.6M84.1 99.5h.6M80.2 96.9h.6M86.2 101.1h.6M82.6 101.3h.6M82.6 94.5h.6M83.8 96.9h.6M81.0 101.5h.6M85.9 96.3h.6M90.7 101.2h.6M81.2 99.9h.6M81.4 94.4h.6M84.6 98.3h.6M81.9 97.8h.6M83.6 97.4h.6M84.1 100.1h.6M80.2 95.2h.6M83.5 103.3h.6M83.7 97.4h.6M82.8 102.0h.6M83.1 98.7h.6M80.7 100.1h.6M87.0 98.8h.6M85.7 102.2h.6M88.7 99.1h.6M88.1 100.5h.6M80.4 93.8h.6M83.0 100.9h.6M80.9 96.5h.6M80.1 103.3h.6M79.5 98.4h.6M90.8 97.4h.6M82.3 106.6h.6M88.9 94.5h.6M78.3 95.0h.6M80.5 99.3h.6M87.3 92.9h.6M80.5 95.5h.6M83.2 98.6h.6M84.1 102.0h.6M87.3 103.7h.6M87.3 104.3h.6M85.5 98.3h.6M79.0 98.1h.6M86.1 93.9h.6M81.2 89.7h.6M83.6 93.5h.6M84.6 94.4h.6M82.4 97.4h.6M76.9 95.1h.6M79.8 98.3h.6M85.0 97.0h.6M86.0 101.7h.6M79.4 103.3h.6M88.7 100.4h.6M80.4 99.4h.6M82.2 99.5h.6M87.1 95.8h.6M80.3 97.4h.6M89.9 95.7h.6M85.9 95.1h.6M87.4 98.7h.6M80.9 97.1h.6M80.6 95.8h.6M84.4 107.2h.6M87.7 96.9h.6M83.2 100.4h.6M84.6 100.2h.6M88.9 102.0h.6M83.7 97.0h.6M87.6 97.4h.6M86.2 99.4h.6M81.8 101.2h.6M88.1 98.5h.6M86.3 101.3h.6M82.7 97.1h.6M83.0 95.0h.6M79.4 97.8h.6M81.4 102.1h.6M85.7 98.9h.6M78.2 96.1h.6M85.1 101.5h.6M87.3 97.2h.6M80.9 101.2h.6M78.4 97.8h.6M88.2 97.1h.6M86.4 95.1h.6M82.9 92.8h.6M89.1 101.4h.6M86.2 99.7h.6M76.3 104.1h.6M89.7 92.1h.6M85.7 106.7h.6M84.6 98.3h.6M81.9 98.2h.6M83.4 98.0h.6M85.9 100.4h.6M85.6 101.5h.6M88.1 94.7h.6M84.2 88.7h.6M82.2 99.2h.6M80.4 104.6h.6M82.2 94.0h.6M86.3 99.5h.6M85.9 98.4h.6M81.9 95.6h.6M79.6 98.5h.6M82.6 98.7h.6M80.7 100.5h.6M82.1 96.2h.6M80.7 96.8h.6M79.6 97.2h.6M85.9 99.9h.6M83.2 98.0h.6M80.8 94.9h.6M81.0 97.3h.6M84.3 93.9h.6M82.6 98.0h.6M83.6 95.2h.6M82.5 95.6h.6M86.0 98.7h.6M81.9 100.7h.6M80.2 102.3h.6M87.8 97.5h.6M84.2 106.4h.6M82.7 96.8h.6M83.4 93.8h.6M81.5 96.6h.6M81.4 102.2h.6M86.4 104.0h.6M82.0 100.3h.6M77.6 96.3h.6M83.0 99.0h.6M81.7 99.4h.6M79.2 99.8h.6M85.3 90.4h.6M74.1 101.8h.6M82.7 102.5h.6M79.1 97.5h.6M86.0 94.6h.6M83.7 95.5h.6M90.0 97.5h.6M79.7 101.2h.6M80.3 96.4h.6M81.7 93.2h.6M84.0 101.9h.6M83.4 100.4h.6M84.1 96.6h.6M89.8 97.8h.6M85.0 104.3h.6M77.6 100.2h.6M91.2 97.6h.6M86.3 95.3h.6M82.6 102.3h.6M82.4 97.3h.6M83.9 100.8h.6M87.5 103.3h.6M91.8 98.0h.6M81.9 97.0h.6M81.1 97.2h.6M83.6 96.6h.6M78.9 101.1h.6M81.4 93.2h.6M85.2 97.0h.6M88.5 95.3h.6M83.1 96.2h.6M87.4 98.2h.6M83.9 99.1h.6M84.3 96.2h.6M82.7 99.4h.6M78.1 98.0h.6M87.5 96.2h.6M83.6 103.0h.6M89.5 90.5h.6M91.8 97.5h.6M86.9 96.6h.6M88.1 95.9h.6M80.5 102.1h.6M92.7 102.5h.6M80.1 97.3h.6M82.6 99.0h.6M80.6 92.8h.6M79.1 98.9h.6M85.2 101.8h.6M88.1 97.4h.6M85.9 94.8h.6M82.8 93.3h.6M82.1 100.3h.6M85.8 97.6h.6M87.8 103.3h.6M83.0 99.6h.6M89.1 93.0h.6M77.1 104.5h.6M83.7 101.1h.6M84.8 100.5h.6M83.8 97.4h.6M87.4 97.9h.6M82.1 97.1h.6M85.8 100.3h.6M84.7 99.5h.6M87.3 103.1h.6M83.1 98.8h.6M78.0 100.3h.6M81.6 96.2h.6M82.6 98.6h.6M86.1 106.6h.6M90.8 99.4h.6M82.8 98.0h.6M86.4 102.3h.6M87.6 101.2h.6M81.7 96.8h.6M84.1 95.5h.6M80.5 101.5h.6M79.6 96.2h.6M86.3 105.0h.6M80.0 98.8h.6M81.8 94.5h.6M79.9 98.2h.6M87.6 97.2h.6M84.1 98.1h.6M83.0 90.8h.6M81.6 97.5h.6M83.6 93.2h.6M82.1 94.5h.6M83.5 92.5h.6M81.2 101.2h.6M79.1 99.2h.6M85.5 100.0h.6M86.6 96.7h.6M83.9 95.0h.6M83.7 103.9h.6M87.4 94.1h.6M82.9 99.9h.6M77.9 91.7h.6M88.4 92.8h.6M81.1 99.0h.6M88.4 102.0h.6M85.3 95.1h.6M85.0 92.3h.6M79.4 104.3h.6M81.8 98.2h.6M84.1 97.7h.6M86.6 99.0h.6M87.1 99.8h.6M87.2 101.5h.6M85.1 95.7h.6M81.2 96.7h.6M84.7 104.8h.6M77.2 98.2h.6M86.2 97.2h.6M82.1 97.3h.6M82.8 103.1h.6M83.5 96.9h.6M87.1 97.2h.6M83.6 100.0h.6M83.1 96.8h.6M82.8 103.9h.6M78.9 100.3h.6M85.9 99.1h.6M84.8 102.4h.6M84.8 100.0h.6M90.2 101.7h.6M81.3 98.7h.6M83.5 100.1h.6M86.2 100.2h.6M82.4 98.6h.6M79.9 99.1h.6M81.0 99.0h.6M84.2 99.6h.6M80.0 97.3h.6M81.7 98.2h.6M86.0 97.5h.6M79.8 101.3h.6M88.1 101.3h.6M84.7 101.9h.6M89.2 97.7h.6M79.0 96.9h.6M84.7 98.3h.6M80.0 94.5h.6M84.2 104.9h.6M82.0 100.7h.6M83.2 92.8h.6M81.7 102.7h.6M83.3 91.9h.6M83.9 97.1h.6M82.8 94.4h.6M86.6 96.2h.6M86.5 98.6h.6M77.1 97.9h.6M85.5 91.3h.6M86.5 101.1h.6M78.2 97.8h.6M85.1 96.3h.6M82.7 102.8h.6M81.4 96.1h.6M86.5 101.5h.6M87.6 91.8h.6M79.2 94.9h.6M81.5 92.5h.6M91.8 106.0h.6M81.7 93.8h.6M85.1 98.6h.6M78.9 96.4h.6M81.7 96.6h.6M84.3 91.9h.6M78.4 93.0h.6M86.7 103.3h.6M84.2 103.0h.6M83.5 96.6h.6M86.1 93.3h.6M82.9 99.0h.6M83.5 94.1h.6M85.8 132.5h.6M81.8 124.3h.6M84.3 116.1h.6M85.5 116.8h.6M77.6 107.3h.6M81.8 87.9h.6M85.2 99.4h.6M82.5 126.5h.6M82.9 120.6h.6M81.8 116.5h.6M86.1 110.2h.6M83.0 111.7h.6M84.9 127.8h.6M83.8 110.3h.6M83.8 103.5h.6M82.9 118.1h.6M83.8 116.4h.6M82.1 86.8h.6M81.8 115.5h.6M82.8 104.0h.6M81.7 132.3h.6M82.1 107.5h.6M84.7 101.5h.6M85.7 103.8h.6M84.0 124.6h.6M82.3 126.1h.6M83.6 95.3h.6M78.9 121.7h.6M86.2 101.2h.6M86.1 119.5h.6M82.9 122.0h.6M84.9 119.4h.6M82.5 114.3h.6M82.1 118.1h.6M80.5 97.9h.6M81.5 126.2h.6M82.4 116.4h.6M79.3 117.7h.6M81.6 115.6h.6M84.0 126.6h.6M81.2 100.7h.6M85.7 120.9h.6M82.3 123.1h.6M76.7 126.9h.6M80.8 108.7h.6M84.8 103.3h.6M83.6 117.7h.6M84.6 113.2h.6M81.2 123.3h.6M80.3 125.0h.6M80.5 111.5h.6M86.2 115.1h.6M87.7 106.3h.6M83.3 130.3h.6M85.5 108.1h.6M82.5 125.3h.6M83.1 99.9h.6M86.9 121.1h.6M84.2 95.1h.6M80.8 128.7h.6M80.2 109.6h.6M84.7 123.2h.6M83.3 121.2h.6M82.3 125.7h.6M84.7 122.6h.6M83.7 129.1h.6M84.7 115.6h.6M79.4 97.4h.6M82.6 132.7h.6M82.0 102.9h.6M83.2 113.0h.6M85.8 106.1h.6M90.6 95.7h.6M87.6 102.6h.6M78.6 122.1h.6M83.7 101.0h.6M81.8 117.7h.6M83.4 114.8h.6M83.7 101.9h.6M85.1 103.3h.6M85.0 129.7h.6M83.1 107.6h.6M82.4 116.9h.6M85.5 119.1h.6M82.7 120.8h.6M87.5 112.4h.6M88.5 100.9h.6M82.9 122.9h.6M87.8 106.3h.6M84.7 128.3h.6M82.2 115.8h.6M83.5 106.5h.6M84.0 120.7h.6M79.8 113.1h.6M84.2 120.9h.6M80.2 114.8h.6M84.8 116.9h.6M86.0 120.3h.6M81.8 103.0h.6M79.9 116.6h.6M86.7 107.7h.6M82.6 118.0h.6M83.4 108.2h.6M80.4 114.3h.6M79.5 123.6h.6M81.6 129.1h.6M80.2 88.8h.6M80.7 117.9h.6M80.9 130.0h.6M81.3 129.4h.6M79.7 114.1h.6M84.0 115.3h.6M80.3 113.9h.6M84.8 124.9h.6M85.0 113.7h.6M80.1 125.9h.6M78.4 114.3h.6M84.5 102.9h.6M84.4 104.7h.6M77.7 118.8h.6M87.0 109.1h.6M83.3 114.8h.6M79.3 106.6h.6M90.9 96.5h.6M80.9 112.5h.6M78.1 115.9h.6M86.6 130.6h.6M84.1 106.1h.6M85.5 104.4h.6M83.0 105.0h.6M83.7 129.6h.6M79.4 110.9h.6M86.7 96.4h.6M82.9 120.5h.6M82.8 129.0h.6M83.1 106.3h.6M83.0 113.5h.6M82.2 117.8h.6M80.8 106.9h.6M82.7 93.1h.6M79.1 97.2h.6M78.4 103.9h.6M85.5 130.4h.6M88.5 103.5h.6M76.4 122.2h.6M80.5 114.9h.6M83.1 94.6h.6M83.6 127.9h.6M82.0 97.9h.6M86.2 105.9h.6M80.6 113.5h.6M78.5 104.1h.6M85.6 104.9h.6M84.4 92.6h.6M85.1 113.3h.6M85.8 101.5h.6M88.0 132.5h.6M83.7 95.9h.6M83.4 112.2h.6M85.6 103.2h.6M82.0 103.6h.6M83.0 123.0h.6M86.4 105.8h.6M85.3 120.6h.6M86.3 112.6h.6M80.4 109.2h.6M79.5 114.5h.6M84.3 129.0h.6M84.2 95.2h.6M81.7 124.4h.6M81.3 119.4h.6M82.8 113.8h.6M80.4 120.2h.6M84.3 101.5h.6M84.5 108.7h.6M79.9 108.8h.6M83.3 123.1h.6M81.8 123.0h.6M86.3 110.4h.6M88.1 95.0h.6M82.6 120.5h.6M84.5 115.6h.6M84.0 105.7h.6M78.8 103.5h.6M83.2 116.9h.6M84.1 122.0h.6M84.7 122.7h.6M86.5 102.4h.6M85.3 100.0h.6M85.1 125.1h.6M78.8 132.3h.6M84.0 118.9h.6M80.2 129.0h.6M82.1 114.8h.6M82.7 112.7h.6M78.6 112.8h.6M83.2 114.1h.6M74.3 110.1h.6M81.7 106.5h.6M87.4 104.5h.6M82.1 125.2h.6M91.0 121.5h.6M84.6 103.3h.6M87.0 107.6h.6M82.2 127.4h.6M80.7 121.6h.6M85.8 96.2h.6M78.7 108.5h.6M83.0 103.3h.6M82.6 128.6h.6M83.1 114.3h.6M82.5 124.3h.6M82.7 116.4h.6M86.9 101.7h.6M80.0 106.5h.6M83.3 109.5h.6M78.9 124.0h.6M84.0 99.9h.6M80.1 119.0h.6M84.0 101.4h.6M79.0 112.9h.6M87.1 104.4h.6M86.1 102.3h.6M87.4 96.8h.6M84.9 106.6h.6M85.0 100.2h.6M83.1 128.6h.6M82.5 118.3h.6M80.5 126.1h.6M79.0 110.8h.6M83.8 109.4h.6M78.4 128.9h.6M81.3 113.1h.6M83.6 100.7h.6M85.5 105.7h.6M86.1 83.4h.6M79.0 92.5h.6M81.9 120.5h.6M80.5 116.0h.6M81.6 102.4h.6M80.9 113.9h.6M81.0 109.7h.6M80.0 117.2h.6M77.4 90.5h.6M83.2 114.3h.6M80.7 125.6h.6M79.8 101.3h.6M81.1 123.3h.6M82.3 125.9h.6M78.5 111.3h.6M85.3 106.7h.6M85.0 107.5h.6M86.3 95.5h.6M79.8 118.2h.6M81.6 108.4h.6M77.8 116.7h.6M85.4 104.5h.6M84.8 116.2h.6M79.7 124.4h.6M84.8 99.0h.6M83.2 114.9h.6M85.9 105.1h.6M85.6 120.2h.6M84.9 110.4h.6M80.7 113.8h.6M78.9 113.6h.6M83.5 112.4h.6M80.0 122.5h.6M81.8 99.2h.6M82.3 90.6h.6M81.6 105.7h.6M82.9 113.2h.6M81.5 106.0h.6M81.7 95.1h.6M86.0 129.5h.6M84.9 111.2h.6M83.1 119.8h.6M86.1 112.9h.6M82.2 121.1h.6M85.5 111.8h.6M81.5 107.7h.6M81.9 111.3h.6M83.3 129.1h.6M81.7 113.5h.6M83.5 130.8h.6M81.7 112.0h.6M83.6 111.2h.6M83.9 123.6h.6M78.5 132.6h.6M79.4 114.8h.6M82.0 102.6h.6M80.9 107.0h.6M86.6 97.0h.6M85.6 110.8h.6M77.7 101.8h.6M85.5 107.6h.6M84.2 108.1h.6M87.0 102.1h.6M85.4 119.5h.6M86.3 111.3h.6M81.7 115.3h.6M83.4 107.1h.6M80.4 104.0h.6M84.7 116.0h.6M85.2 111.1h.6M79.1 132.8h.6M80.5 117.5h.6M83.7 107.1h.6M85.6 87.1h.6M84.0 124.2h.6M87.2 122.0h.6M85.9 110.3h.6M83.6 131.2h.6M83.4 93.9h.6M79.1 111.1h.6M84.9 113.8h.6M82.7 111.5h.6M80.8 131.4h.6M83.5 103.6h.6M84.0 127.4h.6M81.7 115.3h.6M84.6 128.7h.6M84.6 94.5h.6M87.9 86.8h.6M81.1 121.6h.6M82.8 99.6h.6M85.2 94.3h.6M78.8 108.6h.6M86.0 114.3h.6M82.7 99.8h.6M83.7 108.1h.6M80.1 123.5h.6M79.0 113.4h.6M79.9 96.2h.6M83.4 124.2h.6M85.7 122.9h.6M83.6 115.0h.6M84.0 119.2h.6M82.8 102.2h.6M83.2 112.7h.6M83.0 105.8h.6M83.3 117.8h.6M84.8 121.3h.6M85.2 120.9h.6M86.1 124.2h.6M81.2 121.7h.6M84.3 128.9h.6M80.1 115.0h.6M81.9 119.5h.6M77.8 109.9h.6M79.4 132.3h.6M84.7 101.8h.6M80.8 121.0h.6M83.6 114.4h.6M84.2 116.3h.6M81.7 123.4h.6M89.2 95.8h.6M80.7 110.1h.6M84.1 123.1h.6M89.2 107.4h.6M87.3 87.4h.6M83.8 114.0h.6M82.3 118.2h.6M79.6 118.2h.6M87.8 109.9h.6M87.3 84.8h.6M81.9 88.7h.6M81.6 124.6h.6M79.5 107.8h.6M82.6 113.1h.6M79.4 107.1h.6M84.0 116.3h.6M83.8 127.6h.6M85.3 132.0h.6M80.4 113.3h.6M85.2 119.5h.6M80.6 96.6h.6M81.3 122.4h.6M82.9 131.3h.6M79.9 108.1h.6M78.4 121.4h.6M80.3 99.4h.6M82.1 111.9h.6M85.8 122.6h.6M88.9 105.2h.6M85.9 112.1h.6M84.0 87.2h.6M88.3 106.4h.6M79.9 112.0h.6M79.9 114.4h.6M83.2 122.3h.6M82.1 111.2h.6M81.5 107.9h.6M86.7 98.2h.6M79.1 124.8h.6M84.6 101.0h.6M82.5 110.9h.6M82.4 117.4h.6M85.0 127.0h.6M86.7 120.9h.6M81.7 111.8h.6M77.8 96.5h.6M80.2 118.6h.6M77.2 126.7h.6M82.1 112.9h.6M86.3 102.0h.6M84.3 109.9h.6M83.6 108.4h.6M83.4 109.3h.6M81.3 113.3h.6M82.3 119.5h.6M80.8 103.3h.6M86.1 119.6h.6M82.6 99.3h.6M85.4 119.7h.6M79.7 122.7h.6M85.2 114.9h.6M82.3 117.3h.6M84.0 100.8h.6M83.1 113.7h.6M85.3 131.8h.6M83.9 105.3h.6M83.4 110.9h.6M81.3 115.0h.6M84.0 112.6h.6M86.0 108.7h.6M80.0 114.7h.6M82.8 111.4h.6M85.3 125.9h.6M86.2 131.3h.6M83.1 118.2h.6M82.5 126.2h.6M82.4 99.9h.6M84.2 122.1h.6M86.5 101.7h.6M79.1 118.1h.6M85.3 119.9h.6M82.0 120.6h.6M86.2 105.2h.6M82.9 117.1h.6M80.6 109.9h.6M83.0 92.8h.6M84.4 127.3h.6M87.1 106.6h.6M80.6 111.9h.6M86.0 125.8h.6M80.1 110.0h.6M76.9 113.8h.6M86.8 115.1h.6M81.0 117.7h.6M81.4 122.7h.6M81.5 129.1h.6M80.6 116.7h.6M84.5 99.7h.6M80.4 118.5h.6M81.7 121.0h.6M83.1 108.1h.6M84.6 119.0h.6M83.4 128.8h.6M81.6 106.1h.6M79.8 118.8h.6M82.1 112.5h.6M83.5 113.4h.6M86.6 126.5h.6M85.1 124.7h.6M86.1 102.2h.6M79.0 129.5h.6M88.5 87.0h.6M81.0 115.2h.6M85.9 107.9h.6M81.9 117.5h.6M80.1 127.8h.6M82.0 104.7h.6M85.1 105.9h.6M80.5 111.8h.6M78.2 109.2h.6M83.2 116.4h.6M82.1 121.5h.6M80.5 119.1h.6M83.4 114.8h.6M85.0 100.5h.6M83.1 116.1h.6M88.2 109.0h.6M81.1 114.5h.6M84.9 104.7h.6M81.1 112.1h.6M85.7 106.1h.6M85.6 115.5h.6M80.0 114.3h.6M83.4 124.5h.6M82.5 107.0h.6M85.5 103.3h.6M84.4 109.7h.6M82.2 117.5h.6M82.2 118.8h.6M82.5 100.9h.6M85.4 100.9h.6M81.2 122.0h.6M83.3 121.6h.6M80.2 125.7h.6M80.5 114.8h.6M86.7 106.6h.6M81.6 91.4h.6M84.7 120.1h.6M78.3 105.5h.6M84.7 94.7h.6M84.8 127.2h.6M86.7 106.1h.6M84.6 112.3h.6M87.1 112.3h.6M77.9 108.5h.6M83.6 110.9h.6M81.1 117.7h.6M80.3 111.8h.6M83.3 111.8h.6M87.0 117.3h.6M85.2 91.5h.6M79.9 119.5h.6M82.9 115.3h.6M85.3 103.0h.6M85.3 123.4h.6M85.5 113.0h.6M83.8 105.2h.6M85.9 122.6h.6M82.4 111.2h.6M82.6 119.9h.6M84.9 116.1h.6M85.5 105.7h.6M82.2 118.9h.6M82.0 100.1h.6M85.4 114.0h.6M85.7 91.9h.6M80.1 116.7h.6M83.6 124.3h.6M80.4 119.5h.6M85.8 101.8h.6M83.3 130.6h.6M82.0 112.3h.6M86.2 94.9h.6M86.1 113.4h.6M85.9 106.2h.6M84.8 106.3h.6M80.6 130.2h.6M82.6 124.9h.6M83.9 103.8h.6M80.9 121.9h.6M81.7 111.4h.6M82.8 105.7h.6M81.4 123.9h.6M81.5 128.7h.6M86.0 106.6h.6M80.7 130.5h.6M79.8 121.2h.6M82.3 109.9h.6M79.6 122.6h.6M81.5 108.7h.6M79.9 115.6h.6M90.6 99.2h.6M79.2 116.9h.6M79.4 124.0h.6M88.0 93.0h.6M80.3 128.7h.6M84.7 102.1h.6M79.8 122.0h.6M84.8 94.2h.6M82.9 126.0h.6M86.4 114.4h.6M86.1 104.9h.6M81.1 124.0h.6M83.2 115.9h.6M80.3 121.1h.6M83.3 111.9h.6M83.0 114.8h.6M82.4 117.3h.6M85.8 108.8h.6M82.5 107.2h.6M80.6 104.5h.6M82.7 119.6h.6M84.2 113.0h.6M84.8 112.5h.6M87.2 111.5h.6M78.6 122.5h.6M82.9 129.6h.6M79.8 124.2h.6M81.8 104.9h.6M80.0 120.8h.6M85.7 106.5h.6M83.6 107.2h.6M79.2 104.3h.6M82.7 113.6h.6M86.0 98.3h.6M84.8 123.8h.6M80.4 108.7h.6M83.4 113.5h.6M81.6 112.5h.6M81.6 103.2h.6M81.8 113.6h.6M81.6 119.6h.6M80.7 112.4h.6M79.5 109.0h.6M87.2 91.0h.6M84.5 102.6h.6M81.7 113.1h.6M81.3 122.7h.6M81.9 119.4h.6M84.9 125.4h.6M85.7 115.2h.6M86.6 120.2h.6M79.3 113.1h.6M83.5 116.9h.6M82.7 110.4h.6M80.0 111.4h.6M79.6 102.4h.6M83.3 105.0h.6M83.8 131.1h.6M80.3 106.3h.6M83.3 101.9h.6M81.4 124.3h.6M87.0 132.5h.6M77.6 116.3h.6M82.3 126.8h.6M85.1 122.0h.6M83.6 103.1h.6M81.1 116.5h.6M82.4 122.3h.6M87.8 109.9h.6M86.9 116.4h.6M85.6 112.7h.6M83.7 106.0h.6M77.2 126.6h.6M82.1 120.5h.6M82.9 126.7h.6M79.9 113.6h.6M81.4 110.8h.6M83.7 111.1h.6M86.2 99.4h.6M84.6 111.5h.6M82.7 90.8h.6M82.2 111.1h.6M84.1 107.0h.6M80.4 119.0h.6M85.7 92.4h.6M85.8 110.9h.6M82.3 124.3h.6M82.8 98.4h.6M86.4 106.3h.6M86.0 95.4h.6M82.3 97.1h.6M81.9 98.6h.6M84.1 109.5h.6M84.9 107.8h.6M83.1 101.5h.6M82.2 113.3h.6M85.3 127.4h.6M83.9 84.5h.6M80.7 122.0h.6M85.5 107.7h.6M80.2 116.1h.6M75.7 107.9h.6M80.0 114.4h.6M80.1 113.8h.6M82.1 104.0h.6M82.2 101.1h.6M84.5 126.3h.6M81.9 122.2h.6M81.1 115.9h.6M81.1 112.4h.6M81.2 98.1h.6M83.1 106.0h.6M86.2 109.4h.6M81.5 114.1h.6M83.5 122.0h.6M81.4 106.7h.6M78.9 116.0h.6M85.9 104.2h.6M85.3 124.1h.6M81.7 109.4h.6M81.9 111.4h.6M81.9 128.8h.6M80.7 129.6h.6M86.8 118.6h.6M81.7 106.1h.6M79.3 107.7h.6M81.6 111.1h.6M86.3 90.4h.6M82.5 125.1h.6M84.6 117.6h.6M83.3 108.1h.6M87.0 116.0h.6M82.8 130.2h.6M85.8 99.4h.6M85.9 113.8h.6M83.4 115.0h.6M80.9 121.7h.6M88.9 107.0h.6M85.7 104.7h.6M84.7 122.0h.6M79.1 129.7h.6M77.5 125.1h.6M83.8 115.0h.6M85.2 125.9h.6M82.7 103.9h.6M81.4 112.6h.6M81.7 105.2h.6M85.8 127.2h.6M86.8 122.8h.6M80.3 115.4h.6M83.8 107.0h.6M85.5 125.9h.6M85.7 104.3h.6M84.7 108.4h.6M86.2 124.6h.6M83.8 108.5h.6M81.8 119.2h.6M84.4 115.4h.6M82.2 95.9h.6M71.1 122.6h.6M55.4 103.1h.6M71.5 100.4h.6M71.0 111.5h.6M63.8 110.9h.6M60.3 117.8h.6M66.2 110.4h.6M74.2 95.3h.6M72.9 105.0h.6M69.1 115.6h.6M66.5 102.4h.6M77.9 106.4h.6M78.9 112.7h.6M62.7 112.1h.6M74.6 113.2h.6M71.2 106.1h.6M59.3 104.7h.6M73.2 106.3h.6M75.5 101.5h.6M75.7 108.4h.6M65.1 101.8h.6M62.6 100.1h.6M68.9 110.4h.6M70.0 103.6h.6M65.3 98.0h.6M57.7 96.7h.6M60.4 97.6h.6M77.4 117.6h.6M64.0 115.5h.6M60.2 111.1h.6M69.7 103.2h.6M69.3 96.0h.6M53.7 111.1h.6M66.1 90.3h.6M69.0 106.1h.6M71.9 99.2h.6M62.9 107.7h.6M69.8 118.1h.6M80.8 111.9h.6M66.5 103.5h.6M66.4 95.1h.6M85.2 109.9h.6M69.4 110.7h.6M62.1 98.3h.6M58.5 94.3h.6M70.0 107.6h.6M66.5 100.7h.6M72.3 101.4h.6M64.1 111.2h.6M59.5 103.8h.6M83.1 103.7h.6M73.9 106.8h.6M78.2 110.8h.6M61.7 104.7h.6M74.3 114.0h.6M75.6 102.4h.6M67.7 106.8h.6M71.7 119.4h.6M65.8 109.0h.6M75.3 108.2h.6M62.8 110.0h.6M67.2 109.9h.6M66.7 109.0h.6M56.8 92.0h.6M82.0 96.6h.6M64.8 111.6h.6M74.8 108.6h.6M58.9 108.2h.6M64.3 113.5h.6M69.4 103.0h.6M82.1 104.8h.6M82.9 105.9h.6M59.4 110.0h.6M68.4 106.9h.6M76.9 116.7h.6M63.4 124.3h.6M84.2 103.9h.6M70.5 100.8h.6M61.0 117.9h.6M62.8 104.5h.6M70.8 110.5h.6M72.6 106.6h.6M65.4 101.5h.6M82.0 110.1h.6M68.4 106.6h.6M68.5 115.9h.6M69.7 115.8h.6M69.3 114.8h.6M62.1 100.6h.6M81.1 109.8h.6M65.8 119.6h.6M60.3 124.0h.6M74.5 101.1h.6M74.3 96.5h.6M72.4 109.5h.6M70.7 98.6h.6M67.6 113.3h.6M68.2 113.9h.6M65.8 109.2h.6M66.9 97.6h.6M62.7 110.3h.6M57.2 93.5h.6M66.4 115.9h.6M76.6 101.6h.6M57.5 105.7h.6M61.9 103.9h.6M61.6 105.6h.6M71.2 107.4h.6M66.6 103.0h.6M73.8 105.8h.6M73.2 102.0h.6M66.6 115.5h.6M65.8 100.3h.6M64.2 94.7h.6M66.8 98.7h.6M71.6 104.3h.6M70.9 107.7h.6M76.1 96.8h.6M77.6 93.6h.6M79.4 100.8h.6M76.7 93.0h.6M78.0 92.2h.6M73.2 96.3h.6M74.1 94.8h.6M71.2 96.9h.6M76.0 97.1h.6M74.8 98.5h.6M84.2 96.9h.6M76.3 99.9h.6M77.5 92.9h.6M64.4 98.6h.6M76.5 96.5h.6M75.4 97.1h.6M80.5 96.5h.6M73.9 98.1h.6M83.3 96.3h.6M72.9 94.4h.6M75.6 97.9h.6M80.4 97.8h.6M76.7 100.3h.6M74.8 97.1h.6M79.0 96.3h.6M70.8 93.2h.6M71.2 95.6h.6M79.8 94.8h.6M77.3 90.3h.6M74.0 93.1h.6M71.0 95.3h.6M75.3 92.6h.6M66.5 88.2h.6M79.4 95.8h.6M73.8 102.4h.6M73.9 94.6h.6M78.7 98.3h.6M76.9 94.1h.6M79.6 96.9h.6M74.2 95.8h.6M69.7 94.4h.6M77.8 97.8h.6M76.1 100.3h.6M71.3 95.6h.6M72.1 93.5h.6M75.4 98.0h.6M74.6 90.2h.6M70.8 96.1h.6M77.1 96.9h.6M69.6 93.9h.6M76.1 96.0h.6M81.2 96.2h.6M71.0 97.4h.6M72.4 99.3h.6M75.4 99.0h.6M71.0 100.6h.6M76.7 99.1h.6M77.8 94.3h.6M76.4 103.7h.6M74.4 94.7h.6M55.1 114.5h.5M98.7 120.7h.5M95.2 127.3h.5M85.8 92.8h.5M68.7 115.0h.5M73.7 99.6h.5M56.9 126.9h.5M85.9 103.0h.5M76.4 127.2h.5M60.6 116.9h.5M64.9 128.6h.5M92.3 130.4h.5M72.1 111.8h.5M69.2 105.2h.5M99.7 131.3h.5M101.7 128.7h.5M77.3 118.3h.5M97.5 108.6h.5M98.1 124.0h.5M67.3 105.6h.5M87.0 97.3h.5M66.0 98.6h.5M58.8 128.7h.5M101.9 125.0h.5M78.0 121.9h.5M86.9 109.0h.5M78.8 95.8h.5M65.3 104.9h.5M70.9 118.2h.5M65.3 100.4h.5M95.9 123.4h.5M98.7 123.3h.5M63.0 111.0h.5M94.0 124.4h.5M64.6 110.8h.5M82.1 90.9h.5M65.4 121.7h.5M85.9 109.3h.5M81.2 112.7h.5M70.3 94.0h.5M89.5 123.0h.5M74.6 122.9h.5M93.7 119.6h.5M92.7 131.2h.5M55.5 130.2h.5M75.5 123.2h.5M89.3 94.6h.5M82.0 94.2h.5M89.0 104.7h.5M71.8 101.9h.5M92.8 117.4h.5M68.0 121.7h.5M62.6 124.2h.5M82.9 122.7h.5M83.4 132.0h.5M87.2 110.0h.5M82.2 114.3h.5M67.4 103.3h.5M92.3 124.9h.5M100.3 119.4h.5" stroke="#5e5e5e" stroke-width="0.6" fill="none" opacity="0.62"/>
</g>
<g clip-path="url(#cA4)">
<ellipse cx="138.6" cy="101.0" rx="2.9" ry="5.6" fill="#5a5a5a" opacity="0.62" filter="url(#bl)" transform="rotate(8 138.6 101.0)"/>
<ellipse cx="137.0" cy="112.0" rx="2.4" ry="7.5" fill="#5a5a5a" opacity="0.55" filter="url(#bl)" transform="rotate(8 137.0 112.0)"/>
<ellipse cx="119.0" cy="97.0" rx="5.5" ry="2.2" fill="#5a5a5a" opacity="0.10" filter="url(#bl)"/>
<path d="M139.3 96.6h.6M136.2 99.2h.6M136.6 107.8h.6M140.1 98.4h.6M138.6 108.4h.6M140.1 97.0h.6M138.8 105.9h.6M137.3 103.8h.6M135.4 100.7h.6M136.9 97.8h.6M141.7 101.0h.6M137.4 91.1h.6M139.1 96.9h.6M136.4 106.1h.6M141.6 97.5h.6M139.5 102.6h.6M136.7 104.7h.6M137.2 102.0h.6M139.4 97.8h.6M135.9 102.9h.6M140.4 97.6h.6M139.9 101.7h.6M137.3 99.6h.6M139.4 104.4h.6M142.2 88.5h.6M140.5 97.6h.6M137.2 107.9h.6M139.8 96.7h.6M139.8 101.4h.6M140.1 94.8h.6M139.6 104.9h.6M140.7 103.8h.6M141.7 97.4h.6M136.6 101.9h.6M139.4 99.7h.6M141.2 102.5h.6M137.6 101.8h.6M136.7 110.6h.6M141.1 97.4h.6M137.4 99.2h.6M141.7 96.3h.6M139.6 96.3h.6M138.6 99.0h.6M139.5 97.4h.6M140.4 103.7h.6M136.6 99.4h.6M139.6 94.5h.6M142.9 90.0h.6M138.9 101.1h.6M138.3 94.8h.6M140.5 97.7h.6M140.2 99.2h.6M134.5 103.3h.6M141.4 100.0h.6M139.3 98.7h.6M136.3 100.4h.6M137.1 110.6h.6M137.4 103.8h.6M140.2 107.2h.6M139.9 106.2h.6M141.1 104.1h.6M138.7 102.8h.6M136.4 104.6h.6M141.9 89.8h.6M137.2 101.7h.6M137.0 99.8h.6M139.6 97.3h.6M140.3 101.5h.6M140.0 100.6h.6M136.9 104.0h.6M138.4 93.5h.6M137.8 99.9h.6M136.0 110.8h.6M136.9 103.1h.6M135.8 104.0h.6M138.5 105.2h.6M136.6 99.2h.6M136.5 108.4h.6M133.0 107.4h.6M143.1 95.7h.6M137.7 108.9h.6M139.3 105.4h.6M139.2 99.4h.6M136.7 95.9h.6M140.1 101.5h.6M136.2 101.7h.6M138.4 104.7h.6M137.7 104.3h.6M141.0 99.8h.6M135.5 107.1h.6M141.3 96.1h.6M138.6 102.6h.6M141.3 96.7h.6M139.0 101.8h.6M137.4 102.7h.6M138.7 102.8h.6M139.0 104.2h.6M138.1 95.3h.6M141.2 99.8h.6M141.4 98.1h.6M139.8 105.8h.6M137.3 111.0h.6M141.0 102.4h.6M140.5 102.8h.6M141.6 100.4h.6M134.7 102.6h.6M137.7 105.8h.6M138.7 97.1h.6M141.2 99.8h.6M138.4 102.5h.6M136.9 100.9h.6M138.2 98.2h.6M136.5 100.0h.6M141.0 99.2h.6M138.4 103.0h.6M138.0 102.5h.6M141.2 95.8h.6M138.4 110.9h.6M143.2 104.0h.6M140.5 95.7h.6M138.4 99.5h.6M139.6 93.7h.6M135.3 102.8h.6M137.9 100.0h.6M140.6 96.6h.6M138.5 108.3h.6M139.6 105.5h.6M139.9 100.7h.6M137.1 106.9h.6M136.1 100.3h.6M138.3 92.8h.6M138.9 105.0h.6M141.2 102.1h.6M142.6 93.2h.6M140.2 101.4h.6M136.3 107.1h.6M140.1 97.2h.6M137.6 100.7h.6M137.4 100.4h.6M137.9 101.6h.6M135.6 108.5h.6M138.5 103.6h.6M135.8 108.0h.6M142.5 98.9h.6M138.4 98.1h.6M137.0 99.3h.6M141.0 106.4h.6M137.3 100.3h.6M140.9 95.0h.6M140.1 98.7h.6M139.4 90.4h.6M139.2 103.8h.6M141.1 88.3h.6M138.6 101.6h.6M138.1 99.5h.6M139.7 101.6h.6M140.7 87.0h.6M137.7 105.1h.6M136.1 106.4h.6M139.5 109.4h.6M144.4 99.2h.6M141.0 107.4h.6M139.2 95.7h.6M140.5 103.1h.6M136.1 101.3h.6M137.6 106.4h.6M137.8 102.9h.6M136.1 100.5h.6M137.1 104.0h.6M140.6 93.2h.6M140.6 100.8h.6M135.8 104.6h.6M138.8 100.2h.6M136.6 101.4h.6M140.6 101.3h.6M140.8 106.5h.6M133.3 104.4h.6M137.8 99.8h.6M143.6 88.2h.6M138.1 105.0h.6M139.5 102.6h.6M141.6 100.0h.6M139.2 109.1h.6M139.6 98.5h.6M139.5 105.3h.6M141.0 98.0h.6M139.4 104.2h.6M138.9 99.2h.6M139.8 92.6h.6M138.4 99.0h.6M138.3 99.8h.6M138.9 101.4h.6M138.8 98.3h.6M139.8 100.6h.6M137.7 102.9h.6M136.0 97.4h.6M140.3 95.5h.6M142.5 96.9h.6M138.1 100.3h.6M137.7 100.3h.6M139.2 98.2h.6M139.9 94.6h.6M137.0 100.6h.6M138.8 105.5h.6M136.7 105.8h.6M137.1 95.5h.6M136.0 94.1h.6M136.8 107.9h.6M137.5 101.9h.6M141.9 100.4h.6M137.8 93.3h.6M136.8 101.6h.6M140.9 104.1h.6M139.6 104.9h.6M140.8 100.3h.6M136.9 97.5h.6M138.4 99.8h.6M136.0 106.4h.6M136.5 106.1h.6M136.1 95.4h.6M135.9 100.8h.6M138.7 101.9h.6M135.2 99.2h.6M139.9 98.7h.6M141.2 93.1h.6M137.6 101.1h.6M139.9 101.9h.6M137.2 100.9h.6M136.9 104.5h.6M140.4 102.6h.6M141.1 106.8h.6M138.4 105.5h.6M139.2 100.1h.6M144.3 103.3h.6M136.7 103.9h.6M134.6 107.7h.6M135.6 105.4h.6M138.4 96.2h.6M136.2 99.7h.6M138.1 103.7h.6M135.9 106.9h.6M141.2 93.0h.6M140.8 100.0h.6M137.7 90.7h.6M142.5 101.4h.6M135.7 95.6h.6M141.8 99.0h.6M135.0 108.0h.6M135.4 98.3h.6M137.3 97.3h.6M140.7 102.9h.6M136.5 111.5h.6M138.6 104.6h.6M142.5 101.6h.6M141.4 104.1h.6M140.2 102.3h.6M138.2 103.2h.6M138.3 97.9h.6M137.9 101.1h.6M137.5 99.5h.6M137.7 104.8h.6M138.3 100.5h.6M136.8 106.8h.6M136.1 107.2h.6M139.0 107.7h.6M139.9 98.8h.6M136.1 106.0h.6M139.5 100.0h.6M138.3 100.1h.6M139.3 101.1h.6M141.2 104.4h.6M144.7 99.6h.6M142.4 99.6h.6M135.9 100.4h.6M138.3 99.1h.6M134.1 105.7h.6M138.8 98.2h.6M139.1 103.9h.6M137.9 104.8h.6M141.2 100.0h.6M138.4 108.6h.6M136.9 101.7h.6M138.2 110.3h.6M135.2 103.7h.6M143.1 103.7h.6M138.4 100.3h.6M137.4 107.8h.6M142.0 104.7h.6M137.8 95.9h.6M138.5 104.0h.6M138.4 101.2h.6M139.3 101.6h.6M138.5 98.9h.6M136.4 102.0h.6M134.1 103.0h.6M138.1 103.8h.6M142.1 95.8h.6M143.5 95.9h.6M141.6 97.8h.6M141.9 100.7h.6M140.9 100.0h.6M135.2 99.6h.6M139.4 102.7h.6M141.8 102.8h.6M136.3 97.8h.6M137.2 102.1h.6M138.8 100.6h.6M141.4 97.4h.6M142.3 100.5h.6M140.6 102.1h.6M137.6 99.7h.6M137.3 98.7h.6M138.7 103.0h.6M136.3 96.3h.6M135.6 97.3h.6M136.2 97.1h.6M136.0 104.1h.6M138.8 98.4h.6M139.5 101.2h.6M139.5 104.4h.6M141.4 99.5h.6M137.1 102.6h.6M135.4 107.6h.6M140.9 103.1h.6M139.3 101.5h.6M140.0 101.6h.6M138.6 102.0h.6M134.5 104.1h.6M138.0 102.1h.6M138.1 109.6h.6M140.4 98.1h.6M136.6 99.3h.6M139.9 99.8h.6M140.1 106.2h.6M138.2 102.0h.6M141.0 101.9h.6M141.1 100.5h.6M139.2 97.6h.6M139.6 104.4h.6M137.6 101.9h.6M138.9 93.2h.6M138.4 97.3h.6M136.2 107.9h.6M138.1 104.7h.6M139.6 96.2h.6M135.9 104.3h.6M138.7 96.0h.6M137.1 104.2h.6M139.4 102.9h.6M139.6 101.1h.6M137.6 106.5h.6M136.4 102.4h.6M138.9 97.9h.6M136.9 104.6h.6M141.4 95.0h.6M132.2 111.3h.6M139.6 96.4h.6M136.5 103.1h.6M140.7 102.5h.6M140.3 99.8h.6M136.8 101.6h.6M137.9 98.4h.6M140.2 106.8h.6M135.5 102.1h.6M138.2 98.9h.6M139.8 92.7h.6M135.9 102.3h.6M138.1 99.2h.6M138.9 109.0h.6M138.4 104.3h.6M141.3 95.5h.6M135.3 98.1h.6M137.6 104.2h.6M139.7 101.0h.6M139.7 100.0h.6M137.3 106.6h.6M139.0 99.5h.6M137.5 103.8h.6M137.3 101.4h.6M139.8 100.7h.6M137.4 106.4h.6M137.0 102.4h.6M137.9 112.0h.6M137.7 105.1h.6M138.4 105.7h.6M137.6 113.2h.6M134.7 110.2h.6M135.1 108.0h.6M137.5 107.3h.6M134.9 118.3h.6M138.0 106.7h.6M142.3 98.6h.6M140.2 101.9h.6M137.9 117.6h.6M138.4 110.9h.6M139.0 109.4h.6M136.1 107.4h.6M135.9 113.9h.6M134.9 115.7h.6M135.0 113.2h.6M140.9 110.9h.6M135.8 104.8h.6M138.0 101.5h.6M134.8 121.6h.6M135.9 117.3h.6M141.1 107.6h.6M132.8 118.2h.6M138.6 105.4h.6M136.0 115.6h.6M137.7 113.5h.6M139.1 109.3h.6M139.1 106.2h.6M136.6 117.2h.6M137.3 109.4h.6M139.4 97.7h.6M134.7 102.7h.6M134.7 116.3h.6M136.8 113.7h.6M136.9 100.6h.6M138.1 109.8h.6M134.7 112.0h.6M137.6 108.2h.6M137.3 103.6h.6M133.7 108.1h.6M137.1 122.2h.6M139.1 108.6h.6M140.6 105.0h.6M137.6 109.2h.6M137.7 107.9h.6M136.8 113.6h.6M139.1 106.4h.6M136.5 115.0h.6M134.8 118.0h.6M135.6 119.4h.6M134.9 120.9h.6M137.6 109.9h.6M138.6 118.3h.6M136.1 108.7h.6M138.5 116.2h.6M135.8 115.9h.6M135.9 119.4h.6M138.0 112.6h.6M133.5 108.0h.6M138.1 112.9h.6M137.6 114.2h.6M138.7 112.5h.6M139.5 112.2h.6M138.4 111.8h.6M138.0 108.1h.6M136.9 114.1h.6M135.7 121.1h.6M136.6 118.5h.6M134.5 118.3h.6M139.0 109.3h.6M138.4 106.4h.6M136.9 115.0h.6M137.6 114.2h.6M137.9 110.0h.6M136.6 108.3h.6M138.2 101.7h.6M138.5 101.0h.6M134.9 112.8h.6M137.5 111.9h.6M135.7 109.3h.6M137.8 110.8h.6M139.6 117.2h.6M139.3 99.3h.6M135.5 114.2h.6M140.4 113.5h.6M139.3 112.2h.6M135.3 118.1h.6M141.1 97.2h.6M132.5 121.0h.6M135.9 110.3h.6M136.9 112.8h.6M135.0 118.6h.6M132.3 123.5h.6M141.6 112.9h.6M138.2 110.9h.6M143.3 108.6h.6M135.6 117.0h.6M139.0 99.7h.6M132.7 116.0h.6M138.4 108.5h.6M138.7 96.6h.6M136.0 101.7h.6M138.7 114.0h.6M134.8 118.7h.6M133.4 114.7h.6M139.3 102.3h.6M135.5 109.0h.6M138.2 99.9h.6M131.5 125.3h.6M139.9 105.0h.6M137.6 99.6h.6M139.0 111.9h.6M140.3 111.1h.6M136.8 111.3h.6M137.2 114.2h.6M136.6 102.2h.6M137.8 110.1h.6M136.8 103.9h.6M138.3 106.9h.6M138.4 108.8h.6M135.0 113.9h.6M135.0 109.7h.6M138.4 112.2h.6M134.7 105.4h.6M136.0 114.7h.6M137.8 111.3h.6M138.3 113.9h.6M133.5 108.7h.6M136.9 108.5h.6M138.1 109.0h.6M139.5 110.0h.6M137.5 107.6h.6M141.1 109.3h.6M136.0 105.6h.6M138.7 109.1h.6M136.7 111.6h.6M134.6 102.4h.6M136.8 110.2h.6M136.1 122.5h.6M138.4 114.2h.6M135.6 105.9h.6M140.0 109.2h.6M135.1 117.7h.6M139.7 103.8h.6M134.1 118.3h.6M134.2 121.5h.6M136.0 116.2h.6M136.2 109.5h.6M137.5 115.8h.6M135.8 116.5h.6M141.6 106.2h.6M135.2 122.2h.6M140.7 104.3h.6M137.0 112.3h.6M136.9 116.8h.6M140.5 112.2h.6M139.8 99.7h.6M138.0 105.3h.6M137.6 110.4h.6M140.4 96.4h.6M134.2 126.1h.6M137.3 117.1h.6M135.8 113.4h.6M136.9 115.5h.6M137.2 120.6h.6M132.4 107.0h.6M136.5 121.0h.6M135.8 112.6h.6M137.2 127.2h.6M136.3 112.1h.6M138.9 115.1h.6M138.2 114.8h.6M137.4 113.1h.6M138.3 103.5h.6M136.8 111.8h.6M137.8 110.0h.6M137.2 107.9h.6M142.3 103.3h.6M135.6 105.9h.6M136.7 108.1h.6M133.6 104.7h.6M137.4 121.9h.6M138.3 109.1h.6M135.1 104.5h.6M137.7 113.6h.6M137.6 107.2h.6M139.5 92.1h.6M136.4 118.2h.6M137.9 112.6h.6M136.5 98.3h.6M138.6 103.5h.6M134.2 107.5h.6M135.9 117.1h.6M139.7 117.8h.6M136.2 101.0h.6M138.6 118.3h.6M137.3 114.0h.6M137.6 115.9h.6M139.5 103.4h.6M135.4 117.8h.6M136.9 105.7h.6M138.5 107.8h.6M136.4 116.4h.6M134.1 109.6h.6M135.6 108.8h.6M138.1 108.0h.6M143.1 112.5h.6M136.8 105.9h.6M137.6 104.2h.6M139.1 109.7h.6M140.4 99.1h.6M135.5 115.6h.6M138.0 107.1h.6M136.3 114.8h.6M137.2 110.5h.6M138.5 104.6h.6M136.6 115.2h.6M138.0 104.2h.6M137.7 110.8h.6M138.9 108.8h.6M137.5 118.4h.6M139.0 113.0h.6M136.7 111.2h.6M138.3 102.4h.6M134.2 119.2h.6M134.0 116.4h.6M140.0 113.4h.6M134.9 111.8h.6M136.5 113.3h.6M135.4 116.5h.6M137.7 100.5h.6M138.3 115.2h.6M136.8 113.2h.6M136.0 115.8h.6M137.8 108.6h.6M135.1 118.4h.6M135.4 114.6h.6M138.0 106.8h.6M136.7 103.0h.6M137.0 103.9h.6M141.9 105.7h.6M136.6 115.3h.6M134.0 103.0h.6M135.5 114.3h.6M135.4 118.1h.6M137.0 103.2h.6M135.9 101.8h.6M135.4 116.0h.6M135.4 115.8h.6M136.2 110.0h.6M136.3 108.0h.6M135.6 121.0h.6M141.7 99.1h.6M137.9 119.4h.6M136.8 110.8h.6M137.7 108.4h.6M136.6 114.4h.6M136.0 106.2h.6M138.5 122.0h.6M137.0 103.6h.6M138.1 111.2h.6M137.5 110.7h.6M138.7 113.8h.6M140.1 103.1h.6M137.6 114.2h.6M138.0 101.8h.6M138.4 109.8h.6M137.6 115.8h.6M140.4 103.2h.6M138.6 111.9h.6M135.8 111.4h.6M135.8 128.1h.6M135.5 116.3h.6M139.2 110.0h.6M139.7 114.3h.6M134.1 119.1h.6M140.4 101.6h.6M136.0 115.3h.6M136.3 109.6h.6M135.1 122.9h.6M139.8 102.6h.6M137.7 110.9h.6M137.3 109.0h.6M139.6 99.4h.6M137.0 107.0h.6M139.0 113.4h.6M138.7 97.7h.6M138.3 114.9h.6M138.4 105.6h.6M138.3 114.0h.6M137.3 107.4h.6M139.5 108.1h.6M135.3 118.3h.6M137.5 110.5h.6M137.6 105.7h.6M137.6 116.9h.6M136.5 107.1h.6M134.6 110.7h.6M137.0 113.4h.6M137.8 102.9h.6M137.2 107.2h.6M140.2 105.8h.6M139.2 105.2h.6M139.3 112.7h.6M137.1 111.0h.6M133.7 111.8h.6M134.5 126.7h.6M135.4 109.4h.6M139.9 110.5h.6M138.5 106.6h.6M137.7 118.0h.6M134.4 108.8h.6M137.6 114.0h.6M136.6 109.3h.6M132.7 122.6h.6M136.4 108.1h.6M137.2 101.4h.6M139.9 106.3h.6M136.2 100.2h.6M134.1 113.1h.6M137.8 98.6h.6M136.4 103.7h.6M138.0 110.4h.6M137.1 107.3h.6M136.1 115.9h.6M135.4 116.1h.6M138.8 114.5h.6M143.4 102.6h.6M136.7 109.3h.6M138.0 110.4h.6M138.2 103.7h.6M140.0 107.7h.6M139.7 100.4h.6M136.0 109.4h.6M136.5 112.3h.6M137.4 111.6h.6M135.3 119.1h.6M130.9 122.1h.6M137.5 123.0h.6M136.0 121.4h.6M135.1 113.2h.6M133.9 119.9h.6M137.7 106.3h.6M137.4 112.9h.6M137.5 104.0h.6M138.6 114.5h.6M137.1 116.3h.6M136.3 109.7h.6M137.3 108.1h.6M135.7 114.8h.6M133.5 124.5h.6M136.0 116.6h.6M136.5 110.5h.6M135.2 121.2h.6M136.8 114.9h.6M137.4 116.2h.6M134.3 121.9h.6M140.7 106.1h.6M136.0 119.5h.6M137.7 109.6h.6M134.6 119.7h.6M135.6 120.6h.6M136.7 109.1h.6M139.5 98.0h.6M137.3 103.0h.6M138.2 105.7h.6M136.5 116.0h.6M137.6 112.6h.6M136.6 121.6h.6M135.5 121.4h.6M135.6 113.6h.6M135.1 115.2h.6M135.5 114.4h.6M139.4 109.1h.6M138.3 112.3h.6M134.1 109.9h.6M135.4 120.8h.6M139.2 107.2h.6M136.8 104.1h.6M134.8 118.7h.6M135.5 118.6h.6M137.3 110.0h.6M139.3 108.2h.6M136.2 118.4h.6M137.4 115.3h.6M132.8 122.1h.6M137.7 117.9h.6M137.3 109.4h.6M139.5 109.2h.6M139.1 104.1h.6M136.9 119.6h.6M136.7 108.3h.6M137.2 97.9h.6M134.5 118.4h.6M138.1 100.9h.6M139.2 101.9h.6M139.4 105.8h.6M134.7 110.6h.6M136.6 106.5h.6M139.9 106.0h.6M138.6 105.0h.6M138.6 107.7h.6M135.7 102.3h.6M139.0 114.6h.6M137.7 102.6h.6M135.9 108.1h.6M136.3 117.6h.6M137.9 102.6h.6M134.7 119.9h.6M136.1 108.1h.6M136.0 112.4h.6M134.8 117.1h.6M139.1 102.1h.6M138.3 91.1h.6M137.2 113.2h.6M136.8 107.7h.6M142.9 114.7h.6M137.5 106.3h.6M138.4 108.5h.6M138.0 111.5h.6M135.1 121.8h.6M137.9 109.5h.6M134.6 124.8h.6M137.5 122.2h.6M137.8 93.9h.6M138.6 105.1h.6M136.0 119.9h.6M140.6 112.4h.6M140.4 113.7h.6M140.6 105.7h.6M133.4 108.2h.6M137.0 106.1h.6M138.4 111.1h.6M137.3 115.8h.6M140.7 106.6h.6M136.0 119.1h.6M137.5 107.7h.6M136.1 110.0h.6M135.9 111.3h.6M135.4 115.5h.6M137.2 114.5h.6M137.8 112.5h.6M142.3 104.8h.6M138.9 107.0h.6M136.3 111.5h.6M137.4 122.5h.6M138.2 109.7h.6M139.1 115.8h.6M135.8 117.9h.6M135.3 109.8h.6M138.3 113.1h.6M138.5 108.9h.6M136.1 112.3h.6M140.0 103.6h.6M135.7 127.6h.6M136.2 104.5h.6M137.9 113.0h.6M131.6 121.1h.6M135.7 123.2h.6M137.6 112.3h.6M136.9 109.1h.6M133.1 118.2h.6M138.1 110.7h.6M138.2 100.9h.6M136.3 121.2h.6M137.6 116.0h.6M137.4 112.8h.6M137.4 106.2h.6M133.3 123.2h.6M135.0 110.4h.6M136.2 108.0h.6M138.5 103.6h.6M138.8 105.4h.6M131.1 123.0h.6M133.6 110.4h.6M137.8 110.6h.6M125.3 97.5h.6M111.4 97.3h.6M115.1 100.4h.6M121.1 96.8h.6M120.0 95.0h.6M111.6 100.4h.6M117.5 93.1h.6M113.5 96.6h.6M123.9 91.7h.6M113.3 97.9h.6M119.3 98.3h.6M113.2 97.4h.6M121.8 96.5h.6M114.6 93.0h.6M129.1 99.2h.6M119.2 98.5h.6M117.6 94.5h.6M121.7 96.4h.6M131.3 96.4h.6M109.1 100.0h.6M119.6 94.3h.6M121.5 99.2h.6M111.7 90.7h.6M122.4 100.1h.6M123.4 102.9h.6M126.8 98.1h.6M117.0 96.0h.6M120.7 94.7h.6M124.0 98.0h.6M122.5 100.3h.6M118.4 99.8h.6M123.0 94.8h.6M125.9 99.3h.6M117.3 96.6h.6M121.3 96.2h.6M118.7 96.9h.6M118.2 97.6h.6M116.7 97.8h.6M118.1 93.4h.6M115.7 101.3h.6M126.0 99.1h.6M120.8 95.7h.6M122.3 91.7h.6M120.4 100.5h.6M116.8 92.4h.6M120.1 95.3h.6M117.6 97.7h.6M115.6 96.3h.6M120.5 98.3h.6M117.1 97.8h.6M118.1 98.1h.6M118.8 97.7h.6M114.3 95.5h.6M113.0 92.7h.6M135.2 98.1h.6M115.6 93.2h.6M136.7 97.0h.6M114.0 96.5h.6M129.6 98.0h.6M113.9 90.6h.6M114.0 99.8h.6M116.5 96.8h.6M112.6 98.8h.6M120.6 97.7h.6M121.6 98.3h.6M111.0 97.4h.6M115.0 96.3h.6M118.4 98.2h.6M124.8 97.3h.6M127.6 96.7h.6M112.4 98.9h.6M125.4 95.7h.6M125.3 95.8h.6M118.9 95.7h.6M111.9 99.4h.6M117.3 97.2h.6M127.8 97.4h.6M113.0 98.1h.6M117.3 99.2h.6M125.1 97.4h.6M138.3 122.6h.6M134.9 124.8h.6M134.0 122.6h.6M136.8 129.3h.6M134.5 128.4h.6M134.3 127.8h.6M136.5 125.3h.6M137.1 121.3h.6M134.9 124.2h.6M134.1 120.6h.6M136.8 130.2h.6M137.8 122.4h.6M134.4 120.1h.6M139.4 125.6h.6M136.8 125.4h.6M133.7 131.9h.6M134.0 123.7h.6M136.1 118.5h.6M137.0 121.2h.6M136.0 119.4h.6M132.5 127.7h.6M136.0 122.6h.6M136.3 121.7h.6M135.7 115.9h.6M134.6 121.7h.6M140.2 129.7h.6M134.9 127.6h.6M137.4 130.4h.6M137.6 120.3h.6M137.6 121.4h.6M138.6 128.1h.6M136.3 119.3h.6M134.3 124.0h.6M137.8 125.9h.6M135.5 117.8h.6M134.2 119.0h.6M139.0 119.2h.6M135.8 121.0h.6M138.4 128.5h.6M132.7 130.3h.6M133.3 127.4h.6M135.7 121.1h.6M140.1 121.4h.6M119.8 110.8h.5M133.2 91.2h.5M112.0 98.8h.5M145.1 123.5h.5M110.8 97.3h.5M154.4 97.4h.5M145.3 115.1h.5M148.8 121.5h.5M111.3 122.9h.5M141.2 92.2h.5M152.2 102.7h.5M129.1 112.5h.5M133.5 114.5h.5M109.8 126.4h.5M131.9 94.6h.5M130.9 98.4h.5M127.5 120.8h.5M143.1 97.2h.5M120.5 131.3h.5M137.0 98.2h.5M136.1 100.9h.5M110.2 118.2h.5M112.0 96.3h.5M139.4 131.2h.5M109.9 122.0h.5M113.5 92.9h.5M107.4 91.3h.5M142.0 128.7h.5M107.2 96.7h.5M108.9 107.6h.5M122.2 98.5h.5M146.1 94.8h.5M137.2 96.5h.5M138.2 95.9h.5M116.1 132.1h.5" stroke="#5e5e5e" stroke-width="0.6" fill="none" opacity="0.62"/>
</g>
<line x1="75.50" y1="31.10" x2="75.50" y2="80.90" stroke="#8c8c8c" stroke-width="0.55"/>
<line x1="52.60" y1="54.50" x2="103.00" y2="54.50" stroke="#8c8c8c" stroke-width="0.55"/>
<rect x="52.60" y="31.10" width="50.40" height="49.80" fill="none" stroke="#444" stroke-width="0.8"/>
<path d="M52.60 80.90h1.8M52.60 80.90v-1.8M52.60 77.17h1.0M56.38 80.90v-1.0M52.60 74.92h1.0M58.65 80.90v-1.0M52.60 73.43h1.0M60.16 80.90v-1.0M52.60 72.19h1.0M61.42 80.90v-1.0M52.60 71.19h1.0M62.43 80.90v-1.0M52.60 70.32h1.0M63.31 80.90v-1.0M52.60 69.70h1.0M63.94 80.90v-1.0M52.60 69.07h1.0M64.57 80.90v-1.0M52.60 68.45h1.8M65.20 80.90v-1.8M52.60 64.72h1.0M68.98 80.90v-1.0M52.60 62.47h1.0M71.25 80.90v-1.0M52.60 60.98h1.0M72.76 80.90v-1.0M52.60 59.73h1.0M74.02 80.90v-1.0M52.60 58.74h1.0M75.03 80.90v-1.0M52.60 57.87h1.0M75.91 80.90v-1.0M52.60 57.25h1.0M76.54 80.90v-1.0M52.60 56.62h1.0M77.17 80.90v-1.0M52.60 56.00h1.8M77.80 80.90v-1.8M52.60 52.27h1.0M81.58 80.90v-1.0M52.60 50.02h1.0M83.85 80.90v-1.0M52.60 48.53h1.0M85.36 80.90v-1.0M52.60 47.29h1.0M86.62 80.90v-1.0M52.60 46.29h1.0M87.63 80.90v-1.0M52.60 45.42h1.0M88.51 80.90v-1.0M52.60 44.80h1.0M89.14 80.90v-1.0M52.60 44.17h1.0M89.77 80.90v-1.0M52.60 43.55h1.8M90.40 80.90v-1.8M52.60 39.82h1.0M94.18 80.90v-1.0M52.60 37.57h1.0M96.45 80.90v-1.0M52.60 36.08h1.0M97.96 80.90v-1.0M52.60 34.84h1.0M99.22 80.90v-1.0M52.60 33.84h1.0M100.23 80.90v-1.0M52.60 32.97h1.0M101.11 80.90v-1.0M52.60 32.35h1.0M101.74 80.90v-1.0M52.60 31.72h1.0M102.37 80.90v-1.0" fill="none" stroke="#444" stroke-width="0.4" />
<g style="stroke:none">
<text x="55.20" y="37.70" font-size="6" fill="#606060">12.1</text>
<text x="102.10" y="37.70" font-size="6" text-anchor="end" fill="#606060">10.3</text>
<text x="102.10" y="79.20" font-size="6" text-anchor="end" fill="#606060">72</text>
</g>
<line x1="127.50" y1="31.10" x2="127.50" y2="80.90" stroke="#8c8c8c" stroke-width="0.55"/>
<line x1="105.60" y1="54.50" x2="156.00" y2="54.50" stroke="#8c8c8c" stroke-width="0.55"/>
<rect x="105.60" y="31.10" width="50.40" height="49.80" fill="none" stroke="#444" stroke-width="0.8"/>
<path d="M105.60 80.90h1.8M105.60 80.90v-1.8M105.60 77.17h1.0M109.38 80.90v-1.0M105.60 74.92h1.0M111.65 80.90v-1.0M105.60 73.43h1.0M113.16 80.90v-1.0M105.60 72.19h1.0M114.42 80.90v-1.0M105.60 71.19h1.0M115.43 80.90v-1.0M105.60 70.32h1.0M116.31 80.90v-1.0M105.60 69.70h1.0M116.94 80.90v-1.0M105.60 69.07h1.0M117.57 80.90v-1.0M105.60 68.45h1.8M118.20 80.90v-1.8M105.60 64.72h1.0M121.98 80.90v-1.0M105.60 62.47h1.0M124.25 80.90v-1.0M105.60 60.98h1.0M125.76 80.90v-1.0M105.60 59.73h1.0M127.02 80.90v-1.0M105.60 58.74h1.0M128.03 80.90v-1.0M105.60 57.87h1.0M128.91 80.90v-1.0M105.60 57.25h1.0M129.54 80.90v-1.0M105.60 56.62h1.0M130.17 80.90v-1.0M105.60 56.00h1.8M130.80 80.90v-1.8M105.60 52.27h1.0M134.58 80.90v-1.0M105.60 50.02h1.0M136.85 80.90v-1.0M105.60 48.53h1.0M138.36 80.90v-1.0M105.60 47.29h1.0M139.62 80.90v-1.0M105.60 46.29h1.0M140.63 80.90v-1.0M105.60 45.42h1.0M141.51 80.90v-1.0M105.60 44.80h1.0M142.14 80.90v-1.0M105.60 44.17h1.0M142.77 80.90v-1.0M105.60 43.55h1.8M143.40 80.90v-1.8M105.60 39.82h1.0M147.18 80.90v-1.0M105.60 37.57h1.0M149.45 80.90v-1.0M105.60 36.08h1.0M150.96 80.90v-1.0M105.60 34.84h1.0M152.22 80.90v-1.0M105.60 33.84h1.0M153.23 80.90v-1.0M105.60 32.97h1.0M154.11 80.90v-1.0M105.60 32.35h1.0M154.74 80.90v-1.0M105.60 31.72h1.0M155.37 80.90v-1.0" fill="none" stroke="#444" stroke-width="0.4" />
<g style="stroke:none">
<text x="108.20" y="37.70" font-size="6" fill="#606060">2.1</text>
<text x="155.10" y="37.70" font-size="6" text-anchor="end" fill="#606060">16.1</text>
<text x="155.10" y="79.20" font-size="6" text-anchor="end" fill="#606060">80.1</text>
</g>
<line x1="75.50" y1="82.40" x2="75.50" y2="133.60" stroke="#8c8c8c" stroke-width="0.55"/>
<line x1="52.60" y1="101.90" x2="103.00" y2="101.90" stroke="#8c8c8c" stroke-width="0.55"/>
<rect x="52.60" y="82.40" width="50.40" height="51.20" fill="none" stroke="#444" stroke-width="0.8"/>
<path d="M52.60 133.60h1.8M52.60 133.60v-1.8M52.60 129.76h1.0M56.38 133.60v-1.0M52.60 127.46h1.0M58.65 133.60v-1.0M52.60 125.92h1.0M60.16 133.60v-1.0M52.60 124.64h1.0M61.42 133.60v-1.0M52.60 123.62h1.0M62.43 133.60v-1.0M52.60 122.72h1.0M63.31 133.60v-1.0M52.60 122.08h1.0M63.94 133.60v-1.0M52.60 121.44h1.0M64.57 133.60v-1.0M52.60 120.80h1.8M65.20 133.60v-1.8M52.60 116.96h1.0M68.98 133.60v-1.0M52.60 114.66h1.0M71.25 133.60v-1.0M52.60 113.12h1.0M72.76 133.60v-1.0M52.60 111.84h1.0M74.02 133.60v-1.0M52.60 110.82h1.0M75.03 133.60v-1.0M52.60 109.92h1.0M75.91 133.60v-1.0M52.60 109.28h1.0M76.54 133.60v-1.0M52.60 108.64h1.0M77.17 133.60v-1.0M52.60 108.00h1.8M77.80 133.60v-1.8M52.60 104.16h1.0M81.58 133.60v-1.0M52.60 101.86h1.0M83.85 133.60v-1.0M52.60 100.32h1.0M85.36 133.60v-1.0M52.60 99.04h1.0M86.62 133.60v-1.0M52.60 98.02h1.0M87.63 133.60v-1.0M52.60 97.12h1.0M88.51 133.60v-1.0M52.60 96.48h1.0M89.14 133.60v-1.0M52.60 95.84h1.0M89.77 133.60v-1.0M52.60 95.20h1.8M90.40 133.60v-1.8M52.60 91.36h1.0M94.18 133.60v-1.0M52.60 89.06h1.0M96.45 133.60v-1.0M52.60 87.52h1.0M97.96 133.60v-1.0M52.60 86.24h1.0M99.22 133.60v-1.0M52.60 85.22h1.0M100.23 133.60v-1.0M52.60 84.32h1.0M101.11 133.60v-1.0M52.60 83.68h1.0M101.74 133.60v-1.0M52.60 83.04h1.0M102.37 133.60v-1.0" fill="none" stroke="#444" stroke-width="0.4" />
<g style="stroke:none">
<text x="55.20" y="89.00" font-size="6" fill="#606060">8.3</text>
<text x="102.10" y="89.00" font-size="6" text-anchor="end" fill="#606060">13.8</text>
<text x="102.10" y="131.90" font-size="6" text-anchor="end" fill="#606060">75.1</text>
</g>
<line x1="127.60" y1="82.40" x2="127.60" y2="133.60" stroke="#8c8c8c" stroke-width="0.55"/>
<line x1="105.60" y1="101.90" x2="156.00" y2="101.90" stroke="#8c8c8c" stroke-width="0.55"/>
<rect x="105.60" y="82.40" width="50.40" height="51.20" fill="none" stroke="#444" stroke-width="0.8"/>
<path d="M105.60 133.60h1.8M105.60 133.60v-1.8M105.60 129.76h1.0M109.38 133.60v-1.0M105.60 127.46h1.0M111.65 133.60v-1.0M105.60 125.92h1.0M113.16 133.60v-1.0M105.60 124.64h1.0M114.42 133.60v-1.0M105.60 123.62h1.0M115.43 133.60v-1.0M105.60 122.72h1.0M116.31 133.60v-1.0M105.60 122.08h1.0M116.94 133.60v-1.0M105.60 121.44h1.0M117.57 133.60v-1.0M105.60 120.80h1.8M118.20 133.60v-1.8M105.60 116.96h1.0M121.98 133.60v-1.0M105.60 114.66h1.0M124.25 133.60v-1.0M105.60 113.12h1.0M125.76 133.60v-1.0M105.60 111.84h1.0M127.02 133.60v-1.0M105.60 110.82h1.0M128.03 133.60v-1.0M105.60 109.92h1.0M128.91 133.60v-1.0M105.60 109.28h1.0M129.54 133.60v-1.0M105.60 108.64h1.0M130.17 133.60v-1.0M105.60 108.00h1.8M130.80 133.60v-1.8M105.60 104.16h1.0M134.58 133.60v-1.0M105.60 101.86h1.0M136.85 133.60v-1.0M105.60 100.32h1.0M138.36 133.60v-1.0M105.60 99.04h1.0M139.62 133.60v-1.0M105.60 98.02h1.0M140.63 133.60v-1.0M105.60 97.12h1.0M141.51 133.60v-1.0M105.60 96.48h1.0M142.14 133.60v-1.0M105.60 95.84h1.0M142.77 133.60v-1.0M105.60 95.20h1.8M143.40 133.60v-1.8M105.60 91.36h1.0M147.18 133.60v-1.0M105.60 89.06h1.0M149.45 133.60v-1.0M105.60 87.52h1.0M150.96 133.60v-1.0M105.60 86.24h1.0M152.22 133.60v-1.0M105.60 85.22h1.0M153.23 133.60v-1.0M105.60 84.32h1.0M154.11 133.60v-1.0M105.60 83.68h1.0M154.74 133.60v-1.0M105.60 83.04h1.0M155.37 133.60v-1.0" fill="none" stroke="#444" stroke-width="0.4" />
<g style="stroke:none">
<text x="108.20" y="89.00" font-size="6" fill="#606060">3.7</text>
<text x="155.10" y="89.00" font-size="6" text-anchor="end" fill="#606060">22.6</text>
<text x="155.10" y="131.90" font-size="6" text-anchor="end" fill="#606060">72.4</text>
</g>
</g>
<g id="panelB">
<text x="213.80" y="41.30" font-size="9.8" textLength="54.20" lengthAdjust="spacingAndGlyphs" style="stroke-width:0.14px">CD4<tspan font-size="7.64" dy="-2.65">+</tspan><tspan dy="2.65">&#8203;</tspan> T cells</text>
<text x="285.60" y="41.30" font-size="9.8" textLength="54.40" lengthAdjust="spacingAndGlyphs" style="stroke-width:0.14px">CD8<tspan font-size="7.64" dy="-2.65">+</tspan><tspan dy="2.65">&#8203;</tspan> T cells</text>
<text transform="translate(179.40 102.20) rotate(-90)" font-size="8.9" textLength="42.60" lengthAdjust="spacingAndGlyphs" style="stroke-width:0.14px">Percentage</text>
<line x1="212.25" y1="66.35" x2="212.25" y2="65.24" stroke="#161616" stroke-width="1.1"/>
<line x1="209.74" y1="65.24" x2="214.76" y2="65.24" stroke="#161616" stroke-width="1.1"/>
<rect x="208.20" y="65.85" width="8.10" height="54.90" fill="#000"/>
<line x1="222.10" y1="65.21" x2="222.10" y2="63.79" stroke="#161616" stroke-width="1.1"/>
<line x1="219.62" y1="63.79" x2="224.58" y2="63.79" stroke="#161616" stroke-width="1.1"/>
<rect x="218.10" y="64.71" width="8.00" height="56.04" fill="#7f7f7f"/>
<line x1="236.20" y1="114.23" x2="236.20" y2="113.28" stroke="#161616" stroke-width="1.1"/>
<line x1="233.72" y1="113.28" x2="238.68" y2="113.28" stroke="#161616" stroke-width="1.1"/>
<rect x="232.20" y="113.73" width="8.00" height="7.02" fill="#000"/>
<line x1="246.10" y1="110.12" x2="246.10" y2="109.16" stroke="#161616" stroke-width="1.1"/>
<line x1="243.68" y1="109.16" x2="248.52" y2="109.16" stroke="#161616" stroke-width="1.1"/>
<rect x="242.20" y="109.62" width="7.80" height="11.13" fill="#7f7f7f"/>
<line x1="260.15" y1="111.03" x2="260.15" y2="109.85" stroke="#161616" stroke-width="1.1"/>
<line x1="257.64" y1="109.85" x2="262.66" y2="109.85" stroke="#161616" stroke-width="1.1"/>
<rect x="256.10" y="110.53" width="8.10" height="10.22" fill="#000"/>
<line x1="269.90" y1="114.77" x2="269.90" y2="113.81" stroke="#161616" stroke-width="1.1"/>
<line x1="267.42" y1="113.81" x2="272.38" y2="113.81" stroke="#161616" stroke-width="1.1"/>
<rect x="265.90" y="114.27" width="8.00" height="6.48" fill="#7f7f7f"/>
<line x1="284.00" y1="62.54" x2="284.00" y2="60.97" stroke="#161616" stroke-width="1.1"/>
<line x1="281.52" y1="60.97" x2="286.48" y2="60.97" stroke="#161616" stroke-width="1.1"/>
<rect x="280.00" y="62.04" width="8.00" height="58.71" fill="#000"/>
<line x1="293.60" y1="65.59" x2="293.60" y2="64.48" stroke="#161616" stroke-width="1.1"/>
<line x1="291.12" y1="64.48" x2="296.08" y2="64.48" stroke="#161616" stroke-width="1.1"/>
<rect x="289.60" y="65.09" width="8.00" height="55.66" fill="#7f7f7f"/>
<line x1="307.80" y1="106.23" x2="307.80" y2="105.12" stroke="#161616" stroke-width="1.1"/>
<line x1="305.32" y1="105.12" x2="310.28" y2="105.12" stroke="#161616" stroke-width="1.1"/>
<rect x="303.80" y="105.73" width="8.00" height="15.02" fill="#000"/>
<line x1="317.90" y1="103.48" x2="317.90" y2="102.37" stroke="#161616" stroke-width="1.1"/>
<line x1="315.36" y1="102.37" x2="320.44" y2="102.37" stroke="#161616" stroke-width="1.1"/>
<rect x="313.80" y="102.98" width="8.20" height="17.77" fill="#7f7f7f"/>
<line x1="331.50" y1="119.50" x2="331.50" y2="118.69" stroke="#161616" stroke-width="1.1"/>
<line x1="329.02" y1="118.69" x2="333.98" y2="118.69" stroke="#161616" stroke-width="1.1"/>
<rect x="327.50" y="119.00" width="8.00" height="1.75" fill="#000"/>
<line x1="341.50" y1="119.50" x2="341.50" y2="118.69" stroke="#161616" stroke-width="1.1"/>
<line x1="339.02" y1="118.69" x2="343.98" y2="118.69" stroke="#161616" stroke-width="1.1"/>
<rect x="337.50" y="119.00" width="8.00" height="1.75" fill="#7f7f7f"/>
<line x1="205.20" y1="42.30" x2="205.20" y2="121.35" stroke="#111" stroke-width="1.3"/>
<line x1="201.80" y1="120.75" x2="352.50" y2="120.75" stroke="#1c1c1c" stroke-width="1.3"/>
<line x1="277.00" y1="44.50" x2="277.00" y2="120.75" stroke="#222" stroke-width="1.1"/>
<line x1="202.00" y1="120.75" x2="205.00" y2="120.75" stroke="#1c1c1c" stroke-width="1"/>
<text x="199.60" y="123.55" font-size="8.1" text-anchor="end">0</text>
<line x1="202.00" y1="105.50" x2="205.00" y2="105.50" stroke="#1c1c1c" stroke-width="1"/>
<text x="199.60" y="108.30" font-size="8.1" text-anchor="end">20</text>
<line x1="202.00" y1="90.25" x2="205.00" y2="90.25" stroke="#1c1c1c" stroke-width="1"/>
<text x="199.60" y="93.05" font-size="8.1" text-anchor="end">40</text>
<line x1="202.00" y1="75.00" x2="205.00" y2="75.00" stroke="#1c1c1c" stroke-width="1"/>
<text x="199.60" y="77.80" font-size="8.1" text-anchor="end">60</text>
<line x1="202.00" y1="59.75" x2="205.00" y2="59.75" stroke="#1c1c1c" stroke-width="1"/>
<text x="199.60" y="62.55" font-size="8.1" text-anchor="end">80</text>
<line x1="202.00" y1="44.50" x2="205.00" y2="44.50" stroke="#1c1c1c" stroke-width="1"/>
<text x="199.60" y="47.30" font-size="8.1" text-anchor="end">100</text>
<line x1="217.20" y1="120.75" x2="217.20" y2="123.75" stroke="#1c1c1c" stroke-width="1"/>
<text x="207.50" y="133.90" font-size="8" textLength="20.00" lengthAdjust="spacingAndGlyphs">Naive</text>
<line x1="241.30" y1="120.75" x2="241.30" y2="123.75" stroke="#1c1c1c" stroke-width="1"/>
<text x="235.20" y="133.90" font-size="8" textLength="12.00" lengthAdjust="spacingAndGlyphs">CM</text>
<line x1="265.00" y1="120.75" x2="265.00" y2="123.75" stroke="#1c1c1c" stroke-width="1"/>
<text x="259.50" y="133.90" font-size="8" textLength="11.80" lengthAdjust="spacingAndGlyphs">EM</text>
<line x1="288.80" y1="120.75" x2="288.80" y2="123.75" stroke="#1c1c1c" stroke-width="1"/>
<text x="278.20" y="133.90" font-size="8" textLength="20.00" lengthAdjust="spacingAndGlyphs">Naive</text>
<line x1="312.60" y1="120.75" x2="312.60" y2="123.75" stroke="#1c1c1c" stroke-width="1"/>
<text x="306.40" y="133.90" font-size="8" textLength="12.00" lengthAdjust="spacingAndGlyphs">CM</text>
<line x1="336.60" y1="120.75" x2="336.60" y2="123.75" stroke="#1c1c1c" stroke-width="1"/>
<text x="330.20" y="133.90" font-size="8" textLength="11.80" lengthAdjust="spacingAndGlyphs">EM</text>
<path d="M235.90 101.70V98.50H246.70V101.70" fill="none" stroke="#1c1c1c" stroke-width="1.1" />
<text x="241.50" y="97.70" font-size="7.9" font-weight="700" text-anchor="middle" letter-spacing="0.45" fill="#0a0a0a">***</text>
<path d="M259.30 103.80V100.60H270.80V103.80" fill="none" stroke="#1c1c1c" stroke-width="1.1" />
<text x="265.20" y="99.90" font-size="7.9" font-weight="700" text-anchor="middle" letter-spacing="0.45" fill="#0a0a0a">**</text>
<path d="M307.60 96.40V93.00H318.10V96.40" fill="none" stroke="#1c1c1c" stroke-width="1.1" />
<text x="312.90" y="92.40" font-size="7.9" font-weight="700" text-anchor="middle" letter-spacing="0.45" fill="#0a0a0a">*</text>
<rect x="314.80" y="52.70" width="12.60" height="6.20" fill="#000"/>
<text x="329.80" y="58.80" font-size="7.1" textLength="10.80" lengthAdjust="spacingAndGlyphs">WT</text>
<rect x="314.80" y="62.20" width="12.60" height="6.20" fill="#7f7f7f"/>
<text x="329.80" y="68.10" font-size="7" textLength="28.20" lengthAdjust="spacingAndGlyphs">IL-27R<tspan font-size="4.34" dy="-3.22">-/-</tspan><tspan dy="3.22">&#8203;</tspan></text>
</g>
<g id="panelC">
<text x="391.40" y="33.90" font-size="10" textLength="81.30" lengthAdjust="spacingAndGlyphs" style="stroke-width:0.14px">CD4<tspan font-size="7.80" dy="-2.70">+</tspan><tspan dy="2.70">&#8203;</tspan> Foxp3<tspan font-size="7.80" dy="-2.70">+</tspan><tspan dy="2.70">&#8203;</tspan> Gate</text>
<clipPath id="cc39"><rect x="382.00" y="39.80" width="100.60" height="49.80"/></clipPath>
<g clip-path="url(#cc39)">
<polyline points="382.00,89.40 382.40,89.40 382.80,89.40 383.20,89.40 383.60,89.40 384.00,89.40 384.40,89.40 384.80,89.40 385.20,89.39 385.60,89.36 386.00,89.25 386.40,88.92 386.80,88.08 387.20,86.24 387.60,82.87 388.00,77.72 388.40,71.35 388.80,65.28 389.20,61.51 389.60,61.51 390.00,65.28 390.40,71.35 390.80,77.72 391.20,82.87 391.60,86.24 392.00,88.08 392.40,88.92 392.80,89.25 393.20,89.36 393.60,89.39 394.00,89.40 394.40,89.40 394.80,89.40 395.20,89.40 395.60,89.40 396.00,89.40 396.40,89.40 396.80,89.40 397.20,89.40 397.60,89.40 398.00,89.40 398.40,89.40 398.80,89.40 399.20,89.40 399.60,89.40 400.00,89.40 400.40,89.40 400.80,89.40 401.20,89.40 401.60,89.40 402.00,89.40 402.40,89.40 402.80,89.40 403.20,89.40 403.60,89.40 404.00,89.40 404.40,89.40 404.80,89.40 405.20,89.40 405.60,89.40 406.00,89.40 406.40,89.40 406.80,89.40 407.20,89.40 407.60,89.40 408.00,89.40 408.40,89.40 408.80,89.40 409.20,89.40 409.60,89.40 410.00,89.40 410.40,89.40 410.80,89.40 411.20,89.40 411.60,89.40 412.00,89.40 412.40,89.40 412.80,89.40 413.20,89.40 413.60,89.40 414.00,89.40 414.40,89.40 414.80,89.40 415.20,89.40 415.60,89.40 416.00,89.40 416.40,89.40 416.80,89.40 417.20,89.40 417.60,89.40 418.00,89.40 418.40,89.40 418.80,89.40 419.20,89.40 419.60,89.40 420.00,89.40 420.40,89.40 420.80,89.40 421.20,89.40 421.60,89.40 422.00,89.40 422.40,89.40 422.80,89.40 423.20,89.40 423.60,89.40 424.00,89.40 424.40,89.40 424.80,89.40 425.20,89.40 425.60,89.40 426.00,89.40 426.40,89.40 426.80,89.40 427.20,89.40 427.60,89.40 428.00,89.40 428.40,89.40 428.80,89.40 429.20,89.40 429.60,89.40 430.00,89.40 430.40,89.40 430.80,89.40 431.20,89.40 431.60,89.40 432.00,89.40" fill="none" stroke="#8e8e8e" stroke-width="1.15"/>
<polyline points="382.00,79.30 382.60,79.30 383.20,79.30 383.80,79.30 384.40,79.30 385.00,79.30 385.60,79.30 386.20,79.30 386.80,79.30 387.40,79.30 388.00,79.30 388.60,79.30 389.20,79.30 389.80,79.30 390.40,79.30 391.00,79.30 391.60,79.30 392.20,79.30 392.80,79.30 393.40,79.30 394.00,79.30 394.60,79.30 395.20,79.30 395.80,79.30 396.40,79.30 397.00,79.30 397.60,79.30 398.20,79.30 398.80,79.30 399.50,79.30 400.00,78.74 400.60,78.05 401.20,77.44 402.00,76.94 402.40,75.86 403.00,75.01 403.60,74.27 404.20,72.49 405.00,72.03 405.40,71.78 406.00,71.36 406.60,68.70 407.20,68.41 407.50,67.44 407.80,68.06 408.40,65.25 409.00,61.06 409.30,62.25 409.60,61.07 410.20,57.97 410.80,55.59 411.40,52.11 412.00,53.88 412.80,58.07 413.20,59.71 413.80,64.34 414.20,67.33 415.00,70.49 415.60,74.44 416.20,75.75 417.00,77.82 417.40,77.98 418.00,78.54 418.60,79.10 419.20,79.11 419.80,79.12 420.40,79.13 421.00,79.14 421.60,79.14 422.20,79.15 422.80,79.16 423.40,79.17 424.00,79.18 424.60,79.19 425.20,79.20 425.80,79.21 426.40,79.21 427.00,79.22 427.60,79.23 428.20,79.24 428.80,79.25 429.40,79.26 430.00,79.27 430.60,79.28 431.20,79.28 431.80,79.29 432.30,79.30" fill="none" stroke="#0d0d0d" stroke-width="1.2" stroke-linejoin="round"/>
<polyline points="382.00,69.00 382.60,69.00 383.20,69.00 383.80,69.00 384.40,69.00 385.00,69.00 385.60,69.00 386.20,69.00 386.80,69.00 387.40,69.00 388.00,69.00 388.60,69.00 389.20,69.00 389.80,69.00 390.40,69.00 391.00,69.00 391.60,69.00 392.20,69.00 392.80,69.00 393.40,69.00 394.00,69.00 394.60,69.00 395.20,69.00 395.80,69.00 396.40,69.00 397.00,69.00 397.60,69.00 398.20,69.00 398.50,69.00 398.80,68.70 399.40,68.10 400.00,67.58 400.60,66.90 401.00,66.65 401.80,64.94 402.40,63.45 403.00,63.91 403.40,63.29 404.20,61.81 404.80,60.66 405.40,58.83 406.00,57.80 406.60,55.78 407.20,53.05 407.80,52.69 408.40,49.34 409.00,48.10 409.30,45.70 409.60,46.39 410.20,44.50 410.80,40.70 411.40,43.39 412.20,48.07 412.60,49.92 413.40,57.25 413.80,58.23 414.60,62.63 415.00,64.48 415.60,65.75 416.20,66.29 416.80,67.05 417.40,68.12 417.90,68.80 418.60,68.81 419.20,68.82 419.80,68.83 420.40,68.83 421.00,68.84 421.60,68.85 422.20,68.86 422.80,68.87 423.40,68.88 424.00,68.88 424.60,68.89 425.20,68.90 425.80,68.91 426.40,68.92 427.00,68.93 427.60,68.93 428.20,68.94 428.80,68.95 429.40,68.96 430.00,68.97 430.60,68.98 431.20,68.98 431.80,68.99 432.30,69.00" fill="none" stroke="#0d0d0d" stroke-width="1.2" stroke-linejoin="round"/>
<polyline points="432.30,89.40 432.70,89.42 433.10,89.44 433.50,89.46 433.90,89.48 434.20,89.50 434.70,87.39 435.10,85.90 435.50,84.20 436.00,81.77 436.30,79.60 436.70,76.51 437.10,73.49 437.60,70.18 437.90,68.52 438.30,67.04 438.70,65.25 439.00,63.81 439.50,66.28 439.90,67.64 440.40,70.09 440.70,71.27 441.10,73.45 441.50,75.33 442.00,77.86 442.30,79.11 442.70,80.11 443.10,80.91 443.50,82.36 444.00,83.35 444.30,83.87 444.70,84.63 445.10,85.09 445.50,85.47 445.90,86.30 446.30,86.65 446.50,86.95 446.70,87.21 447.10,87.43 447.50,87.74 447.90,88.02 448.30,88.34 448.70,88.69 449.10,88.99 449.50,89.30 449.90,89.30 450.30,89.30 450.70,89.30 451.10,89.30 451.50,89.31 451.90,89.31 452.30,89.31 452.70,89.31 453.10,89.31 453.50,89.31 453.90,89.31 454.30,89.31 454.70,89.32 455.10,89.32 455.50,89.32 455.90,89.32 456.30,89.32 456.70,89.32 457.10,89.32 457.50,89.32 457.90,89.33 458.30,89.33 458.70,89.33 459.10,89.33 459.50,89.33 459.90,89.33 460.30,89.33 460.70,89.33 461.10,89.34 461.50,89.34 461.90,89.34 462.30,89.34 462.70,89.34 463.10,89.34 463.50,89.34 463.90,89.34 464.30,89.34 464.70,89.35 465.10,89.35 465.50,89.35 465.90,89.35 466.30,89.35 466.70,89.35 467.10,89.35 467.50,89.35 467.90,89.36 468.30,89.36 468.70,89.36 469.10,89.36 469.50,89.36 469.90,89.36 470.30,89.36 470.70,89.36 471.10,89.37 471.50,89.37 471.90,89.37 472.30,89.37 472.70,89.37 473.10,89.37 473.50,89.37 473.90,89.37 474.30,89.37 474.70,89.38 475.10,89.38 475.50,89.38 475.90,89.38 476.30,89.38 476.70,89.38 477.10,89.38 477.50,89.38 477.90,89.39 478.30,89.39 478.70,89.39 479.10,89.39 479.50,89.39 479.90,89.39 480.30,89.39 480.70,89.39 481.10,89.40 481.50,89.40 481.90,89.40 482.30,89.40 482.60,89.40" fill="none" stroke="#8e8e8e" stroke-width="1.15" stroke-linejoin="round"/>
<polyline points="432.30,79.00 432.90,78.90 433.50,78.79 434.10,78.69 434.70,78.59 435.20,78.50 435.90,76.08 436.50,73.24 437.00,72.28 437.70,67.36 438.30,63.92 438.80,62.29 439.50,57.33 440.10,54.48 440.50,53.23 441.30,55.47 442.00,59.03 442.50,63.17 443.10,65.36 443.60,65.80 444.30,64.85 444.90,65.73 445.40,65.73 446.10,63.75 446.70,65.94 447.30,65.83 447.60,65.09 447.90,65.09 448.50,65.21 449.20,66.21 449.70,69.91 450.30,69.21 451.00,72.07 451.50,71.62 452.10,74.04 452.70,74.42 453.50,75.19 453.90,75.37 454.50,76.58 455.10,76.37 455.70,77.07 456.30,77.82 456.90,78.41 457.50,78.76 457.80,79.00 458.10,79.00 458.70,79.01 459.30,79.02 459.90,79.03 460.50,79.03 461.10,79.04 461.70,79.05 462.30,79.05 462.90,79.06 463.50,79.07 464.10,79.08 464.70,79.08 465.30,79.09 465.90,79.10 466.50,79.11 467.10,79.11 467.70,79.12 468.30,79.13 468.90,79.13 469.50,79.14 470.10,79.15 470.70,79.16 471.30,79.16 471.90,79.17 472.50,79.18 473.10,79.19 473.70,79.19 474.30,79.20 474.90,79.21 475.50,79.21 476.10,79.22 476.70,79.23 477.30,79.24 477.90,79.24 478.50,79.25 479.10,79.26 479.70,79.26 480.30,79.27 480.90,79.28 481.50,79.29 482.10,79.29 482.60,79.30" fill="none" stroke="#0d0d0d" stroke-width="1.2" stroke-linejoin="round"/>
<polyline points="432.30,68.60 432.90,68.46 433.50,68.31 434.10,68.17 434.80,68.00 435.30,66.36 435.90,63.69 436.50,63.17 437.10,57.17 437.70,52.65 438.00,51.35 438.30,50.27 438.90,46.03 439.50,43.20 439.90,41.63 440.70,46.20 441.50,48.97 441.90,51.21 442.50,55.09 443.00,57.35 443.70,55.56 444.30,54.91 444.60,54.24 444.90,53.24 445.50,53.45 446.10,53.90 446.40,56.65 446.70,55.88 447.30,56.23 448.00,53.16 448.50,56.13 449.10,57.20 449.40,58.65 449.70,58.20 450.30,61.53 450.90,60.36 451.30,62.62 452.10,64.27 452.70,65.41 453.50,66.28 453.90,66.55 454.50,67.10 455.10,67.62 455.70,67.79 456.30,68.36 456.70,68.70 457.50,68.71 458.10,68.72 458.70,68.72 459.30,68.73 459.90,68.74 460.50,68.74 461.10,68.75 461.70,68.76 462.30,68.76 462.90,68.77 463.50,68.78 464.10,68.79 464.70,68.79 465.30,68.80 465.90,68.81 466.50,68.81 467.10,68.82 467.70,68.83 468.30,68.83 468.90,68.84 469.50,68.85 470.10,68.86 470.70,68.86 471.30,68.87 471.90,68.88 472.50,68.88 473.10,68.89 473.70,68.90 474.30,68.90 474.90,68.91 475.50,68.92 476.10,68.92 476.70,68.93 477.30,68.94 477.90,68.95 478.50,68.95 479.10,68.96 479.70,68.97 480.30,68.97 480.90,68.98 481.50,68.99 482.10,68.99 482.60,69.00" fill="none" stroke="#0d0d0d" stroke-width="1.2" stroke-linejoin="round"/>
</g>
<path d="M382.00 89.60v2.8M385.77 89.60v1.9M388.04 89.60v1.9M389.55 89.60v1.9M390.80 89.60v1.9M391.81 89.60v1.9M392.69 89.60v1.9M393.32 89.60v1.9M393.95 89.60v1.9M394.57 89.60v2.8M398.35 89.60v1.9M400.61 89.60v1.9M402.12 89.60v1.9M403.38 89.60v1.9M404.38 89.60v1.9M405.26 89.60v1.9M405.89 89.60v1.9M406.52 89.60v1.9M407.15 89.60v2.8M410.92 89.60v1.9M413.19 89.60v1.9M414.69 89.60v1.9M415.95 89.60v1.9M416.96 89.60v1.9M417.84 89.60v1.9M418.47 89.60v1.9M419.10 89.60v1.9M419.73 89.60v2.8M423.50 89.60v1.9M425.76 89.60v1.9M427.27 89.60v1.9M428.53 89.60v1.9M429.53 89.60v1.9M430.41 89.60v1.9M431.04 89.60v1.9M431.67 89.60v1.9M432.30 89.60v2.8M436.07 89.60v1.9M438.34 89.60v1.9M439.85 89.60v1.9M441.10 89.60v1.9M442.11 89.60v1.9M442.99 89.60v1.9M443.62 89.60v1.9M444.25 89.60v1.9M444.88 89.60v2.8M448.65 89.60v1.9M450.91 89.60v1.9M452.42 89.60v1.9M453.68 89.60v1.9M454.68 89.60v1.9M455.56 89.60v1.9M456.19 89.60v1.9M456.82 89.60v1.9M457.45 89.60v2.8M461.22 89.60v1.9M463.49 89.60v1.9M465.00 89.60v1.9M466.25 89.60v1.9M467.26 89.60v1.9M468.14 89.60v1.9M468.77 89.60v1.9M469.40 89.60v1.9M470.03 89.60v2.8M473.80 89.60v1.9M476.06 89.60v1.9M477.57 89.60v1.9M478.83 89.60v1.9M479.83 89.60v1.9M480.71 89.60v1.9M481.34 89.60v1.9M481.97 89.60v1.9" fill="none" stroke="#111" stroke-width="0.9" />
<rect x="382.00" y="39.80" width="100.60" height="49.80" fill="none" stroke="#0d0d0d" stroke-width="1.1"/>
<line x1="432.30" y1="39.80" x2="432.30" y2="89.60" stroke="#0d0d0d" stroke-width="1.1"/>
<text x="485.30" y="70.50" font-size="7.2" textLength="23.00" lengthAdjust="spacingAndGlyphs">WT B6</text>
<text x="485.30" y="81.30" font-size="7.2" textLength="29.20" lengthAdjust="spacingAndGlyphs">IL-27R<tspan font-size="4.46" dy="-3.31">-/-</tspan><tspan dy="3.31">&#8203;</tspan></text>
<text x="485.30" y="90.60" font-size="7.2" textLength="22.80" lengthAdjust="spacingAndGlyphs">Isotype</text>
<text x="399.00" y="102.50" font-size="9.6" textLength="16.20" lengthAdjust="spacingAndGlyphs">CD3</text>
<text x="447.20" y="102.50" font-size="9.6" textLength="19.60" lengthAdjust="spacingAndGlyphs">CD25</text>
<clipPath id="cc111"><rect x="382.00" y="111.40" width="100.60" height="49.80"/></clipPath>
<g clip-path="url(#cc111)">
<polyline points="382.00,161.00 382.40,161.00 382.80,161.00 383.20,161.00 383.60,161.00 384.00,161.00 384.40,161.00 384.80,161.00 385.20,160.98 385.60,160.93 386.00,160.75 386.40,160.25 386.80,159.06 387.20,156.70 387.60,152.73 388.00,147.26 388.40,141.25 388.80,136.45 389.20,134.60 389.60,136.45 390.00,141.25 390.40,147.26 390.80,152.73 391.20,156.70 391.60,159.06 392.00,160.25 392.40,160.75 392.80,160.93 393.20,160.98 393.60,161.00 394.00,161.00 394.40,161.00 394.80,161.00 395.20,161.00 395.60,161.00 396.00,161.00 396.40,161.00 396.80,161.00 397.20,161.00 397.60,161.00 398.00,161.00 398.40,161.00 398.80,161.00 399.20,161.00 399.60,161.00 400.00,161.00 400.40,161.00 400.80,161.00 401.20,161.00 401.60,161.00 402.00,161.00 402.40,161.00 402.80,161.00 403.20,161.00 403.60,161.00 404.00,161.00 404.40,161.00 404.80,161.00 405.20,161.00 405.60,161.00 406.00,161.00 406.40,161.00 406.80,161.00 407.20,161.00 407.60,161.00 408.00,161.00 408.40,161.00 408.80,161.00 409.20,161.00 409.60,161.00 410.00,161.00 410.40,161.00 410.80,161.00 411.20,161.00 411.60,161.00 412.00,161.00 412.40,161.00 412.80,161.00 413.20,161.00 413.60,161.00 414.00,161.00 414.40,161.00 414.80,161.00 415.20,161.00 415.60,161.00 416.00,161.00 416.40,161.00 416.80,161.00 417.20,161.00 417.60,161.00 418.00,161.00 418.40,161.00 418.80,161.00 419.20,161.00 419.60,161.00 420.00,161.00 420.40,161.00 420.80,161.00 421.20,161.00 421.60,161.00 422.00,161.00 422.40,161.00 422.80,161.00 423.20,161.00 423.60,161.00 424.00,161.00 424.40,161.00 424.80,161.00 425.20,161.00 425.60,161.00 426.00,161.00 426.40,161.00 426.80,161.00 427.20,161.00 427.60,161.00 428.00,161.00 428.40,161.00 428.80,161.00 429.20,161.00 429.60,161.00 430.00,161.00 430.40,161.00 430.80,161.00 431.20,161.00 431.60,161.00 432.00,161.00" fill="none" stroke="#8e8e8e" stroke-width="1.15"/>
<polyline points="382.00,150.30 382.60,150.30 383.20,150.29 383.80,150.29 384.40,150.29 385.00,150.28 385.60,150.28 386.20,150.28 386.80,150.28 387.40,150.27 388.00,150.27 388.60,150.27 389.20,150.26 389.80,150.26 390.40,150.26 391.00,150.25 391.60,150.25 392.20,150.25 392.80,150.25 393.40,150.24 394.00,150.24 394.60,150.24 395.20,150.23 395.80,150.23 396.40,150.23 397.00,150.22 397.60,150.22 398.20,150.22 398.80,150.22 399.40,150.21 400.00,150.21 400.60,150.21 401.20,150.20 402.00,150.20 402.40,149.36 403.00,148.31 403.60,147.55 404.00,146.82 404.80,142.15 405.40,140.82 405.80,139.31 406.60,134.26 407.20,131.45 407.60,128.58 408.60,125.90 409.00,125.25 409.30,122.79 409.60,125.64 410.20,128.58 411.00,126.77 411.40,128.09 412.20,130.60 412.60,132.70 413.20,133.43 413.60,133.79 414.40,136.85 415.00,135.37 415.80,139.40 416.20,137.90 416.80,141.59 417.40,142.80 418.00,143.70 418.60,146.04 419.20,146.61 419.80,147.83 420.40,149.08 421.00,149.80 421.60,149.83 422.20,149.85 422.80,149.88 423.40,149.91 424.00,149.93 424.60,149.96 425.20,149.99 425.80,150.01 426.40,150.04 427.00,150.07 427.60,150.09 428.20,150.12 428.80,150.15 429.40,150.17 430.00,150.20 430.60,150.22 431.20,150.25 431.80,150.28 432.30,150.30" fill="none" stroke="#0d0d0d" stroke-width="1.2" stroke-linejoin="round"/>
<polyline points="382.00,140.50 382.60,140.50 383.20,140.49 383.80,140.49 384.40,140.49 385.00,140.49 385.60,140.48 386.20,140.48 386.80,140.48 387.40,140.47 388.00,140.47 388.60,140.47 389.20,140.47 389.80,140.46 390.40,140.46 391.00,140.46 391.60,140.45 392.20,140.45 392.80,140.45 393.40,140.45 394.00,140.44 394.60,140.44 395.20,140.44 395.80,140.43 396.40,140.43 397.00,140.43 397.60,140.43 398.20,140.42 398.80,140.42 399.40,140.42 400.00,140.41 400.60,140.41 401.20,140.41 401.80,140.40 402.40,140.40 402.80,140.40 403.60,138.59 404.20,136.87 404.50,136.64 404.80,136.23 405.40,132.33 406.00,129.81 406.60,130.36 407.20,127.38 408.00,123.79 408.40,123.66 409.00,119.00 409.60,117.60 410.20,114.23 410.60,113.95 411.40,116.90 412.20,115.09 412.60,116.25 413.20,116.38 414.00,115.90 414.40,116.90 415.00,119.19 415.60,119.89 415.90,120.81 416.20,121.94 416.80,123.63 417.40,126.67 417.80,125.70 418.60,127.67 419.20,130.46 420.00,132.19 420.40,132.81 421.00,134.76 421.60,136.48 422.00,136.99 422.80,137.89 423.40,139.22 424.00,139.78 424.30,140.20 424.60,140.21 425.20,140.23 425.80,140.26 426.40,140.28 427.00,140.30 427.60,140.32 428.20,140.35 428.80,140.37 429.40,140.39 430.00,140.41 430.60,140.44 431.20,140.46 431.80,140.48 432.30,140.50" fill="none" stroke="#0d0d0d" stroke-width="1.2" stroke-linejoin="round"/>
<polyline points="432.30,161.00 432.70,161.00 433.10,161.00 433.50,161.00 433.90,161.00 434.30,161.00 434.70,161.00 435.10,160.99 435.50,160.97 435.90,160.90 436.30,160.66 436.70,160.02 437.10,158.57 437.50,155.79 437.90,151.34 438.30,145.52 438.70,139.54 439.10,135.27 439.50,134.32 439.90,137.07 440.30,142.44 440.70,148.55 441.10,153.77 441.50,157.37 441.90,159.43 442.30,160.41 442.70,160.81 443.10,160.95 443.50,160.99 443.90,161.00 444.30,161.00 444.70,161.00 445.10,161.00 445.50,161.00 445.90,161.00 446.30,161.00 446.70,161.00 447.10,161.00 447.50,161.00 447.90,161.00 448.30,161.00 448.70,161.00 449.10,161.00 449.50,161.00 449.90,161.00 450.30,161.00 450.70,161.00 451.10,161.00 451.50,161.00 451.90,161.00 452.30,161.00 452.70,161.00 453.10,161.00 453.50,161.00 453.90,161.00 454.30,161.00 454.70,161.00 455.10,161.00 455.50,161.00 455.90,161.00 456.30,161.00 456.70,161.00 457.10,161.00 457.50,161.00 457.90,161.00 458.30,161.00 458.70,161.00 459.10,161.00 459.50,161.00 459.90,161.00 460.30,161.00 460.70,161.00 461.10,161.00 461.50,161.00 461.90,161.00 462.30,161.00 462.70,161.00 463.10,161.00 463.50,161.00 463.90,161.00 464.30,161.00 464.70,161.00 465.10,161.00 465.50,161.00 465.90,161.00 466.30,161.00 466.70,161.00 467.10,161.00 467.50,161.00 467.90,161.00 468.30,161.00 468.70,161.00 469.10,161.00 469.50,161.00 469.90,161.00 470.30,161.00 470.70,161.00 471.10,161.00 471.50,161.00 471.90,161.00 472.30,161.00 472.70,161.00 473.10,161.00 473.50,161.00 473.90,161.00 474.30,161.00 474.70,161.00 475.10,161.00 475.50,161.00 475.90,161.00 476.30,161.00 476.70,161.00 477.10,161.00 477.50,161.00 477.90,161.00 478.30,161.00 478.70,161.00 479.10,161.00 479.50,161.00 479.90,161.00 480.30,161.00 480.70,161.00 481.10,161.00 481.50,161.00 481.90,161.00 482.30,161.00" fill="none" stroke="#8e8e8e" stroke-width="1.15"/>
<polyline points="432.30,150.30 432.90,150.29 433.50,150.28 434.10,150.27 434.70,150.26 435.30,150.25 435.90,150.24 436.50,150.24 437.10,150.23 437.70,150.22 438.30,150.21 438.80,150.20 439.50,149.38 440.10,148.96 440.50,148.16 441.30,147.70 441.90,147.54 442.50,148.18 443.10,147.29 443.70,147.83 444.30,147.58 444.90,147.19 445.50,147.62 446.00,146.65 446.70,146.57 447.30,146.80 447.90,146.06 448.50,146.99 449.10,145.99 449.70,145.67 450.30,145.34 450.90,146.10 451.50,145.64 452.00,145.83 452.70,145.68 453.30,145.80 453.90,145.94 454.50,145.24 455.10,144.06 455.70,144.46 456.30,143.62 456.90,143.04 457.50,143.92 458.10,144.32 458.80,142.80 459.30,142.01 459.90,141.00 460.60,140.51 461.10,137.55 461.70,134.80 462.20,132.67 462.90,128.72 463.60,126.76 464.10,126.21 464.60,123.23 465.30,127.58 465.80,128.58 466.50,131.54 467.20,136.88 467.70,140.18 468.30,144.35 468.60,144.76 468.90,145.97 469.50,147.96 470.00,149.14 470.70,149.84 471.00,150.20 471.30,150.20 471.90,150.21 472.50,150.21 473.10,150.22 473.70,150.22 474.30,150.23 474.90,150.23 475.50,150.24 476.10,150.24 476.70,150.25 477.30,150.25 477.90,150.26 478.50,150.26 479.10,150.27 479.70,150.28 480.30,150.28 480.90,150.29 481.50,150.29 482.10,150.30 482.60,150.30" fill="none" stroke="#0d0d0d" stroke-width="1.2" stroke-linejoin="round"/>
<polyline points="432.30,139.50 432.90,139.65 433.50,139.45 434.10,139.51 434.70,139.32 435.30,139.51 436.00,139.53 436.50,139.43 437.10,139.42 437.70,139.16 438.30,139.43 438.90,139.44 439.50,139.40 440.10,139.15 440.70,139.24 441.30,138.95 442.00,139.23 442.50,139.13 443.10,138.72 443.70,138.44 444.30,138.58 444.90,138.55 445.50,138.62 446.10,138.31 446.70,137.82 447.30,138.39 448.00,137.60 448.50,138.21 449.10,137.50 449.70,137.56 450.30,137.94 450.90,137.14 451.50,137.04 452.10,137.36 452.70,137.52 453.00,137.62 453.30,137.36 453.90,137.55 454.50,136.81 455.10,137.30 455.70,135.90 456.30,135.93 456.90,136.25 457.70,135.65 458.10,135.91 458.70,135.00 459.30,133.97 460.00,133.89 460.50,130.93 461.10,127.62 461.80,124.69 462.30,122.56 463.00,118.04 463.70,113.04 464.10,116.08 464.40,117.42 464.70,114.96 465.00,113.79 465.30,114.10 465.80,117.09 466.50,121.91 466.80,124.27 467.10,124.70 467.70,131.01 468.20,133.04 468.90,135.75 469.40,138.28 470.10,139.18 470.80,140.30 471.30,140.31 471.90,140.32 472.50,140.33 473.10,140.34 473.70,140.35 474.30,140.36 474.90,140.37 475.50,140.38 476.10,140.39 476.70,140.40 477.30,140.41 477.90,140.42 478.50,140.43 479.10,140.44 479.70,140.45 480.30,140.46 480.90,140.47 481.50,140.48 482.10,140.49 482.60,140.50" fill="none" stroke="#0d0d0d" stroke-width="1.2" stroke-linejoin="round"/>
</g>
<path d="M382.00 161.20v2.8M385.77 161.20v1.9M388.04 161.20v1.9M389.55 161.20v1.9M390.80 161.20v1.9M391.81 161.20v1.9M392.69 161.20v1.9M393.32 161.20v1.9M393.95 161.20v1.9M394.57 161.20v2.8M398.35 161.20v1.9M400.61 161.20v1.9M402.12 161.20v1.9M403.38 161.20v1.9M404.38 161.20v1.9M405.26 161.20v1.9M405.89 161.20v1.9M406.52 161.20v1.9M407.15 161.20v2.8M410.92 161.20v1.9M413.19 161.20v1.9M414.69 161.20v1.9M415.95 161.20v1.9M416.96 161.20v1.9M417.84 161.20v1.9M418.47 161.20v1.9M419.10 161.20v1.9M419.73 161.20v2.8M423.50 161.20v1.9M425.76 161.20v1.9M427.27 161.20v1.9M428.53 161.20v1.9M429.53 161.20v1.9M430.41 161.20v1.9M431.04 161.20v1.9M431.67 161.20v1.9M432.30 161.20v2.8M436.07 161.20v1.9M438.34 161.20v1.9M439.85 161.20v1.9M441.10 161.20v1.9M442.11 161.20v1.9M442.99 161.20v1.9M443.62 161.20v1.9M444.25 161.20v1.9M444.88 161.20v2.8M448.65 161.20v1.9M450.91 161.20v1.9M452.42 161.20v1.9M453.68 161.20v1.9M454.68 161.20v1.9M455.56 161.20v1.9M456.19 161.20v1.9M456.82 161.20v1.9M457.45 161.20v2.8M461.22 161.20v1.9M463.49 161.20v1.9M465.00 161.20v1.9M466.25 161.20v1.9M467.26 161.20v1.9M468.14 161.20v1.9M468.77 161.20v1.9M469.40 161.20v1.9M470.03 161.20v2.8M473.80 161.20v1.9M476.06 161.20v1.9M477.57 161.20v1.9M478.83 161.20v1.9M479.83 161.20v1.9M480.71 161.20v1.9M481.34 161.20v1.9M481.97 161.20v1.9" fill="none" stroke="#111" stroke-width="0.9" />
<rect x="382.00" y="111.40" width="100.60" height="49.80" fill="none" stroke="#0d0d0d" stroke-width="1.1"/>
<line x1="432.30" y1="111.40" x2="432.30" y2="161.20" stroke="#0d0d0d" stroke-width="1.1"/>
<text x="485.30" y="141.40" font-size="7.2" textLength="23.00" lengthAdjust="spacingAndGlyphs">WT B6</text>
<text x="485.30" y="152.20" font-size="7.2" textLength="29.20" lengthAdjust="spacingAndGlyphs">IL-27R<tspan font-size="4.46" dy="-3.31">-/-</tspan><tspan dy="3.31">&#8203;</tspan></text>
<text x="485.30" y="161.50" font-size="7.2" textLength="22.80" lengthAdjust="spacingAndGlyphs">Isotype</text>
<text x="396.80" y="173.80" font-size="9.6" textLength="20.60" lengthAdjust="spacingAndGlyphs">CD44</text>
<text x="445.60" y="173.80" font-size="9.6" textLength="23.60" lengthAdjust="spacingAndGlyphs">CD62L</text>
<clipPath id="cc183"><rect x="382.00" y="183.40" width="100.60" height="49.80"/></clipPath>
<g clip-path="url(#cc183)">
<polyline points="382.00,233.00 382.40,232.99 382.80,232.98 383.20,232.97 383.60,232.96 384.00,232.95 384.40,232.94 384.80,232.93 385.20,232.92 385.60,232.91 386.00,232.90 386.40,232.89 386.80,232.88 387.20,232.87 387.60,232.86 388.00,232.85 388.40,232.84 388.80,232.83 389.20,232.82 389.60,232.81 390.00,232.80 390.20,232.80 390.40,228.60 390.80,220.31 391.00,215.74 391.20,214.08 391.60,210.13 392.00,206.57 392.40,206.27 392.80,205.59 393.20,205.43 393.40,205.08 393.60,205.42 394.00,205.98 394.40,206.35 394.80,206.42 395.00,206.49 395.20,206.32 395.60,206.39 396.00,206.39 396.30,205.78 396.80,211.17 397.30,215.71 397.60,220.02 398.00,225.64 398.50,232.80 398.80,232.80 399.20,232.80 399.60,232.81 400.00,232.81 400.40,232.81 400.80,232.81 401.20,232.82 401.60,232.82 402.00,232.82 402.40,232.82 402.80,232.83 403.20,232.83 403.60,232.83 404.00,232.83 404.40,232.83 404.80,232.84 405.20,232.84 405.60,232.84 406.00,232.84 406.40,232.85 406.80,232.85 407.20,232.85 407.60,232.85 408.00,232.86 408.40,232.86 408.80,232.86 409.20,232.86 409.60,232.87 410.00,232.87 410.40,232.87 410.80,232.87 411.20,232.88 411.60,232.88 412.00,232.88 412.40,232.88 412.80,232.88 413.20,232.89 413.60,232.89 414.00,232.89 414.40,232.89 414.80,232.90 415.20,232.90 415.60,232.90 416.00,232.90 416.40,232.91 416.80,232.91 417.20,232.91 417.60,232.91 418.00,232.92 418.40,232.92 418.80,232.92 419.20,232.92 419.60,232.92 420.00,232.93 420.40,232.93 420.80,232.93 421.20,232.93 421.60,232.94 422.00,232.94 422.40,232.94 422.80,232.94 423.20,232.95 423.60,232.95 424.00,232.95 424.40,232.95 424.80,232.96 425.20,232.96 425.60,232.96 426.00,232.96 426.40,232.97 426.80,232.97 427.20,232.97 427.60,232.97 428.00,232.97 428.40,232.98 428.80,232.98 429.20,232.98 429.60,232.98 430.00,232.99 430.40,232.99 430.80,232.99 431.20,232.99 431.60,233.00 432.00,233.00 432.30,233.00" fill="none" stroke="#8e8e8e" stroke-width="1.15" stroke-linejoin="round"/>
<polyline points="382.00,223.30 382.60,223.29 383.20,223.29 383.80,223.28 384.40,223.27 385.00,223.27 385.60,223.26 386.20,223.25 386.80,223.25 387.40,223.24 388.00,223.23 388.60,223.23 389.20,223.22 389.80,223.21 390.40,223.21 391.00,223.20 391.60,219.93 392.20,214.65 393.00,209.75 393.40,210.33 394.00,206.48 394.60,208.55 395.20,204.21 395.80,205.04 396.30,202.70 397.00,200.79 397.60,201.12 398.20,199.24 398.80,197.52 399.60,195.85 400.00,195.13 400.60,191.23 401.20,193.71 401.80,198.18 402.40,196.72 403.00,194.65 403.60,198.33 404.20,199.08 404.80,199.36 405.40,195.11 406.00,202.06 406.60,206.74 407.00,210.09 407.80,209.79 408.60,212.54 409.00,216.76 409.60,214.68 410.30,219.96 410.80,220.15 411.40,219.03 412.00,220.55 412.60,221.89 413.20,222.00 414.00,223.00 414.40,223.01 415.00,223.02 415.60,223.03 416.20,223.04 416.80,223.05 417.40,223.06 418.00,223.07 418.60,223.08 419.20,223.09 419.80,223.10 420.40,223.10 421.00,223.11 421.60,223.12 422.20,223.13 422.80,223.14 423.40,223.15 424.00,223.16 424.60,223.17 425.20,223.18 425.80,223.19 426.40,223.20 427.00,223.21 427.60,223.22 428.20,223.23 428.80,223.24 429.40,223.25 430.00,223.26 430.60,223.27 431.20,223.28 431.80,223.29 432.30,223.30" fill="none" stroke="#0d0d0d" stroke-width="1.2" stroke-linejoin="round"/>
<polyline points="382.00,212.50 382.60,212.49 383.20,212.48 383.80,212.48 384.40,212.47 385.00,212.46 385.60,212.45 386.20,212.44 386.80,212.43 387.40,212.43 388.00,212.42 388.60,212.41 389.30,212.40 389.80,211.54 390.40,209.90 391.00,209.72 391.60,206.81 392.00,207.40 392.80,202.18 393.40,202.21 394.00,202.28 394.60,197.40 395.20,196.94 395.80,197.26 396.40,196.25 397.00,194.36 397.80,187.00 398.20,188.27 398.80,188.45 399.60,185.61 400.00,187.97 400.60,187.48 401.00,188.27 401.80,185.79 402.20,184.09 403.00,189.54 403.50,191.08 404.20,190.01 404.80,186.66 405.40,190.76 406.00,194.76 406.60,199.83 407.20,202.37 407.60,203.22 408.40,201.25 409.00,202.84 409.30,208.18 409.60,206.33 410.20,208.48 410.80,207.99 411.40,209.43 412.00,210.29 412.60,210.95 413.20,211.79 413.60,212.30 414.40,212.31 415.00,212.31 415.60,212.32 416.20,212.33 416.80,212.33 417.40,212.34 418.00,212.35 418.60,212.35 419.20,212.36 419.80,212.37 420.40,212.37 421.00,212.38 421.60,212.39 422.20,212.39 422.80,212.40 423.40,212.40 424.00,212.41 424.60,212.42 425.20,212.42 425.80,212.43 426.40,212.44 427.00,212.44 427.60,212.45 428.20,212.46 428.80,212.46 429.40,212.47 430.00,212.48 430.60,212.48 431.20,212.49 431.80,212.49 432.30,212.50" fill="none" stroke="#0d0d0d" stroke-width="1.2" stroke-linejoin="round"/>
<polyline points="432.30,233.00 432.70,233.00 433.10,233.00 433.50,233.00 433.90,233.00 434.30,233.00 434.70,233.00 435.10,233.00 435.50,232.99 435.90,232.98 436.30,232.90 436.70,232.67 437.10,232.02 437.50,230.48 437.90,227.39 438.30,222.23 438.70,215.10 439.10,207.27 439.50,201.01 439.90,198.60 440.30,200.80 440.70,206.59 441.10,214.03 441.50,221.06 441.90,226.41 442.30,229.82 442.70,231.65 443.10,232.50 443.50,232.84 443.90,232.95 444.30,232.99 444.70,233.00 445.10,233.00 445.50,233.00 445.90,233.00 446.30,233.00 446.70,233.00 447.10,233.00 447.50,233.00 447.90,233.00 448.30,233.00 448.70,233.00 449.10,233.00 449.50,233.00 449.90,233.00 450.30,233.00 450.70,233.00 451.10,233.00 451.50,233.00 451.90,233.00 452.30,233.00 452.70,233.00 453.10,233.00 453.50,233.00 453.90,233.00 454.30,233.00 454.70,233.00 455.10,233.00 455.50,233.00 455.90,233.00 456.30,233.00 456.70,233.00 457.10,233.00 457.50,233.00 457.90,233.00 458.30,233.00 458.70,233.00 459.10,233.00 459.50,233.00 459.90,233.00 460.30,233.00 460.70,233.00 461.10,233.00 461.50,233.00 461.90,233.00 462.30,233.00 462.70,233.00 463.10,233.00 463.50,233.00 463.90,233.00 464.30,233.00 464.70,233.00 465.10,233.00 465.50,233.00 465.90,233.00 466.30,233.00 466.70,233.00 467.10,233.00 467.50,233.00 467.90,233.00 468.30,233.00 468.70,233.00 469.10,233.00 469.50,233.00 469.90,233.00 470.30,233.00 470.70,233.00 471.10,233.00 471.50,233.00 471.90,233.00 472.30,233.00 472.70,233.00 473.10,233.00 473.50,233.00 473.90,233.00 474.30,233.00 474.70,233.00 475.10,233.00 475.50,233.00 475.90,233.00 476.30,233.00 476.70,233.00 477.10,233.00 477.50,233.00 477.90,233.00 478.30,233.00 478.70,233.00 479.10,233.00 479.50,233.00 479.90,233.00 480.30,233.00 480.70,233.00 481.10,233.00 481.50,233.00 481.90,233.00 482.30,233.00" fill="none" stroke="#8e8e8e" stroke-width="1.15"/>
<polyline points="432.30,223.30 432.90,223.29 433.50,223.27 434.10,223.26 434.70,223.24 435.30,223.23 435.90,223.22 436.60,223.20 437.10,221.74 437.70,219.47 438.00,219.22 438.30,216.62 438.90,209.43 439.20,206.92 439.50,204.73 440.10,198.73 440.50,194.75 441.30,201.90 441.80,207.02 442.50,211.38 443.00,216.71 443.70,218.23 444.40,219.79 444.90,220.09 445.50,220.08 446.10,220.09 446.70,220.44 447.30,220.57 448.00,221.11 448.50,220.96 449.10,220.56 449.70,220.95 450.30,220.80 450.90,220.78 451.50,220.76 452.00,220.43 452.70,220.62 453.30,220.47 453.90,220.18 454.50,220.09 455.10,219.95 455.50,219.51 456.30,220.11 456.90,219.81 457.50,220.28 458.00,220.58 458.70,220.71 459.30,221.26 459.90,221.73 460.50,222.06 461.00,222.30 461.70,222.54 462.30,222.75 462.90,222.96 463.60,223.20 464.10,223.20 464.70,223.21 465.30,223.21 465.90,223.21 466.50,223.22 467.10,223.22 467.70,223.22 468.30,223.22 468.90,223.23 469.50,223.23 470.10,223.23 470.70,223.24 471.30,223.24 471.90,223.24 472.50,223.25 473.10,223.25 473.70,223.25 474.30,223.26 474.90,223.26 475.50,223.26 476.10,223.27 476.70,223.27 477.30,223.27 477.90,223.28 478.50,223.28 479.10,223.28 479.70,223.28 480.30,223.29 480.90,223.29 481.50,223.29 482.10,223.30 482.60,223.30" fill="none" stroke="#0d0d0d" stroke-width="1.2" stroke-linejoin="round"/>
<polyline points="432.30,212.50 432.90,212.48 433.50,212.47 434.10,212.45 434.70,212.44 435.30,212.42 436.00,212.40 436.50,211.10 437.10,210.05 437.40,209.15 437.70,205.99 438.30,201.04 438.60,198.13 438.90,195.20 439.50,189.22 439.90,186.50 440.70,192.87 441.20,197.36 441.90,202.14 442.40,205.86 443.10,206.01 443.70,208.33 444.30,208.74 444.90,208.55 445.50,208.99 446.10,209.00 446.70,209.43 447.00,209.71 447.30,209.51 447.90,209.59 448.50,210.03 449.10,209.75 449.70,209.70 450.30,210.01 450.90,209.69 451.50,209.99 452.00,209.70 452.70,209.68 453.30,208.95 453.90,209.25 454.50,209.26 455.10,208.47 455.50,209.21 456.30,208.16 456.90,208.26 457.70,207.62 458.10,208.27 458.70,208.80 459.30,208.73 460.00,209.93 460.50,209.95 461.10,210.49 461.70,211.00 462.50,211.60 462.90,211.75 463.50,211.98 464.10,212.21 464.60,212.40 465.30,212.40 465.90,212.41 466.50,212.41 467.10,212.41 467.70,212.42 468.30,212.42 468.90,212.42 469.50,212.43 470.10,212.43 470.70,212.43 471.30,212.44 471.90,212.44 472.50,212.44 473.10,212.45 473.70,212.45 474.30,212.45 474.90,212.46 475.50,212.46 476.10,212.46 476.70,212.47 477.30,212.47 477.90,212.47 478.50,212.48 479.10,212.48 479.70,212.48 480.30,212.49 480.90,212.49 481.50,212.49 482.10,212.50 482.60,212.50" fill="none" stroke="#0d0d0d" stroke-width="1.2" stroke-linejoin="round"/>
</g>
<path d="M382.00 233.20v2.8M385.77 233.20v1.9M388.04 233.20v1.9M389.55 233.20v1.9M390.80 233.20v1.9M391.81 233.20v1.9M392.69 233.20v1.9M393.32 233.20v1.9M393.95 233.20v1.9M394.57 233.20v2.8M398.35 233.20v1.9M400.61 233.20v1.9M402.12 233.20v1.9M403.38 233.20v1.9M404.38 233.20v1.9M405.26 233.20v1.9M405.89 233.20v1.9M406.52 233.20v1.9M407.15 233.20v2.8M410.92 233.20v1.9M413.19 233.20v1.9M414.69 233.20v1.9M415.95 233.20v1.9M416.96 233.20v1.9M417.84 233.20v1.9M418.47 233.20v1.9M419.10 233.20v1.9M419.73 233.20v2.8M423.50 233.20v1.9M425.76 233.20v1.9M427.27 233.20v1.9M428.53 233.20v1.9M429.53 233.20v1.9M430.41 233.20v1.9M431.04 233.20v1.9M431.67 233.20v1.9M432.30 233.20v2.8M436.07 233.20v1.9M438.34 233.20v1.9M439.85 233.20v1.9M441.10 233.20v1.9M442.11 233.20v1.9M442.99 233.20v1.9M443.62 233.20v1.9M444.25 233.20v1.9M444.88 233.20v2.8M448.65 233.20v1.9M450.91 233.20v1.9M452.42 233.20v1.9M453.68 233.20v1.9M454.68 233.20v1.9M455.56 233.20v1.9M456.19 233.20v1.9M456.82 233.20v1.9M457.45 233.20v2.8M461.22 233.20v1.9M463.49 233.20v1.9M465.00 233.20v1.9M466.25 233.20v1.9M467.26 233.20v1.9M468.14 233.20v1.9M468.77 233.20v1.9M469.40 233.20v1.9M470.03 233.20v2.8M473.80 233.20v1.9M476.06 233.20v1.9M477.57 233.20v1.9M478.83 233.20v1.9M479.83 233.20v1.9M480.71 233.20v1.9M481.34 233.20v1.9M481.97 233.20v1.9" fill="none" stroke="#111" stroke-width="0.9" />
<rect x="382.00" y="183.40" width="100.60" height="49.80" fill="none" stroke="#0d0d0d" stroke-width="1.1"/>
<line x1="432.30" y1="183.40" x2="432.30" y2="233.20" stroke="#0d0d0d" stroke-width="1.1"/>
<text x="485.30" y="213.80" font-size="7.2" textLength="23.00" lengthAdjust="spacingAndGlyphs">WT B6</text>
<text x="485.30" y="224.60" font-size="7.2" textLength="29.20" lengthAdjust="spacingAndGlyphs">IL-27R<tspan font-size="4.46" dy="-3.31">-/-</tspan><tspan dy="3.31">&#8203;</tspan></text>
<text x="485.30" y="233.90" font-size="7.2" textLength="22.80" lengthAdjust="spacingAndGlyphs">Isotype</text>
<text x="395.20" y="246.00" font-size="9.6" textLength="23.80" lengthAdjust="spacingAndGlyphs">CTLA4</text>
<text x="444.80" y="246.00" font-size="9.6" textLength="24.80" lengthAdjust="spacingAndGlyphs">CD103</text>
<clipPath id="cc255"><rect x="382.00" y="255.10" width="100.60" height="49.80"/></clipPath>
<g clip-path="url(#cc255)">
<polyline points="382.00,304.70 382.40,304.70 382.80,304.70 383.20,304.70 383.60,304.70 384.00,304.70 384.40,304.70 384.80,304.68 385.20,304.62 385.60,304.44 386.00,303.93 386.40,302.72 386.80,300.30 387.20,296.24 387.60,290.65 388.00,284.50 388.40,279.59 388.80,277.70 389.20,279.59 389.60,284.50 390.00,290.65 390.40,296.24 390.80,300.30 391.20,302.72 391.60,303.93 392.00,304.44 392.40,304.62 392.80,304.68 393.20,304.70 393.60,304.70 394.00,304.70 394.40,304.70 394.80,304.70 395.20,304.70 395.60,304.70 396.00,304.70 396.40,304.70 396.80,304.70 397.20,304.70 397.60,304.70 398.00,304.70 398.40,304.70 398.80,304.70 399.20,304.70 399.60,304.70 400.00,304.70 400.40,304.70 400.80,304.70 401.20,304.70 401.60,304.70 402.00,304.70 402.40,304.70 402.80,304.70 403.20,304.70 403.60,304.70 404.00,304.70 404.40,304.70 404.80,304.70 405.20,304.70 405.60,304.70 406.00,304.70 406.40,304.70 406.80,304.70 407.20,304.70 407.60,304.70 408.00,304.70 408.40,304.70 408.80,304.70 409.20,304.70 409.60,304.70 410.00,304.70 410.40,304.70 410.80,304.70 411.20,304.70 411.60,304.70 412.00,304.70 412.40,304.70 412.80,304.70 413.20,304.70 413.60,304.70 414.00,304.70 414.40,304.70 414.80,304.70 415.20,304.70 415.60,304.70 416.00,304.70 416.40,304.70 416.80,304.70 417.20,304.70 417.60,304.70 418.00,304.70 418.40,304.70 418.80,304.70 419.20,304.70 419.60,304.70 420.00,304.70 420.40,304.70 420.80,304.70 421.20,304.70 421.60,304.70 422.00,304.70 422.40,304.70 422.80,304.70 423.20,304.70 423.60,304.70 424.00,304.70 424.40,304.70 424.80,304.70 425.20,304.70 425.60,304.70 426.00,304.70 426.40,304.70 426.80,304.70 427.20,304.70 427.60,304.70 428.00,304.70 428.40,304.70 428.80,304.70 429.20,304.70 429.60,304.70 430.00,304.70 430.40,304.70 430.80,304.70 431.20,304.70 431.60,304.70 432.00,304.70" fill="none" stroke="#8e8e8e" stroke-width="1.15"/>
<polyline points="382.00,294.30 382.60,294.30 383.20,294.29 383.80,294.29 384.40,294.28 385.00,294.27 385.60,294.27 386.20,294.26 386.80,294.26 387.40,294.25 388.00,294.25 388.60,294.25 389.20,294.24 389.80,294.24 390.40,294.23 391.00,294.22 391.60,294.22 392.20,294.21 392.80,294.21 393.40,294.20 394.00,294.20 394.60,292.77 395.20,291.25 395.80,290.39 396.30,289.13 397.00,286.75 397.60,286.55 398.00,284.43 398.80,282.29 399.60,281.59 400.00,280.56 400.60,280.19 401.20,281.17 401.60,279.69 402.40,280.42 403.00,279.48 403.60,277.00 403.90,279.37 404.20,278.14 404.80,273.51 405.40,273.64 406.00,270.05 406.60,267.94 407.20,268.12 407.50,265.48 407.80,267.30 408.60,271.22 409.00,273.02 409.60,275.91 410.20,280.94 410.60,282.89 411.40,285.57 412.00,286.74 412.50,290.02 413.20,290.43 413.80,290.72 414.40,291.23 415.00,292.32 415.70,292.80 416.20,293.16 416.80,293.40 417.40,293.62 418.00,293.84 418.60,294.05 419.00,294.20 419.80,294.21 420.40,294.21 421.00,294.22 421.60,294.22 422.20,294.22 422.80,294.23 423.40,294.23 424.00,294.24 424.60,294.24 425.20,294.25 425.80,294.25 426.40,294.26 427.00,294.26 427.60,294.26 428.20,294.27 428.80,294.27 429.40,294.28 430.00,294.28 430.60,294.29 431.20,294.29 431.80,294.30 432.30,294.30" fill="none" stroke="#0d0d0d" stroke-width="1.2" stroke-linejoin="round"/>
<polyline points="382.00,284.10 382.60,284.10 383.20,284.09 383.80,284.09 384.40,284.08 385.00,284.08 385.60,284.07 386.20,284.07 386.80,284.06 387.40,284.06 388.00,284.05 388.60,284.05 389.20,284.05 389.80,284.04 390.40,284.04 391.00,284.03 391.60,284.03 392.20,284.02 392.80,284.02 393.40,284.01 394.00,284.01 394.60,284.00 395.20,284.00 395.80,283.50 396.40,283.07 397.00,282.47 397.60,281.34 398.20,280.77 398.50,280.07 398.80,280.28 399.40,279.06 400.00,279.37 400.80,280.74 401.20,279.48 402.00,276.27 402.40,275.18 403.00,276.26 403.60,274.85 403.90,273.85 404.20,271.61 404.80,268.36 405.20,267.52 406.20,261.18 406.60,259.75 407.10,257.97 407.80,260.79 408.20,260.63 409.20,267.30 409.60,271.42 410.30,274.86 410.80,276.36 411.40,275.95 411.80,277.52 412.60,279.83 413.20,281.38 413.60,282.39 414.40,282.37 415.00,282.86 415.60,282.89 416.20,283.29 417.00,283.60 417.40,283.52 418.00,283.40 418.60,283.28 419.20,283.16 419.80,282.86 420.40,283.00 421.00,282.83 421.60,283.10 422.20,283.28 422.80,283.52 423.40,283.76 424.00,284.00 424.60,284.01 425.20,284.01 425.80,284.02 426.40,284.03 427.00,284.04 427.60,284.04 428.20,284.05 428.80,284.06 429.40,284.07 430.00,284.07 430.60,284.08 431.20,284.09 431.80,284.09 432.30,284.10" fill="none" stroke="#0d0d0d" stroke-width="1.2" stroke-linejoin="round"/>
<polyline points="432.30,304.70 432.70,304.23 432.90,304.00 433.10,302.52 433.50,299.63 434.00,295.83 434.30,293.91 434.70,291.48 435.10,288.87 435.50,285.74 435.90,284.17 436.30,282.99 436.70,281.27 437.00,280.16 437.50,279.17 437.90,278.78 438.30,278.15 438.70,279.32 439.10,279.88 439.60,281.09 439.90,282.29 440.30,283.23 440.70,284.70 441.10,286.15 441.40,287.25 441.90,288.83 442.30,290.30 442.70,291.63 443.00,293.23 443.50,294.62 443.90,296.12 444.30,297.91 444.60,298.99 445.10,300.18 445.50,300.94 445.90,301.96 446.40,302.94 446.70,303.25 447.10,303.67 447.50,304.03 448.00,304.50 448.30,304.50 448.70,304.50 449.10,304.51 449.50,304.51 449.90,304.51 450.30,304.51 450.70,304.52 451.10,304.52 451.50,304.52 451.90,304.52 452.30,304.52 452.70,304.53 453.10,304.53 453.50,304.53 453.90,304.53 454.30,304.54 454.70,304.54 455.10,304.54 455.50,304.54 455.90,304.55 456.30,304.55 456.70,304.55 457.10,304.55 457.50,304.55 457.90,304.56 458.30,304.56 458.70,304.56 459.10,304.56 459.50,304.57 459.90,304.57 460.30,304.57 460.70,304.57 461.10,304.58 461.50,304.58 461.90,304.58 462.30,304.58 462.70,304.58 463.10,304.59 463.50,304.59 463.90,304.59 464.30,304.59 464.70,304.60 465.10,304.60 465.50,304.60 465.90,304.60 466.30,304.61 466.70,304.61 467.10,304.61 467.50,304.61 467.90,304.62 468.30,304.62 468.70,304.62 469.10,304.62 469.50,304.62 469.90,304.63 470.30,304.63 470.70,304.63 471.10,304.63 471.50,304.64 471.90,304.64 472.30,304.64 472.70,304.64 473.10,304.65 473.50,304.65 473.90,304.65 474.30,304.65 474.70,304.65 475.10,304.66 475.50,304.66 475.90,304.66 476.30,304.66 476.70,304.67 477.10,304.67 477.50,304.67 477.90,304.67 478.30,304.68 478.70,304.68 479.10,304.68 479.50,304.68 479.90,304.68 480.30,304.69 480.70,304.69 481.10,304.69 481.50,304.69 481.90,304.70 482.30,304.70 482.60,304.70" fill="none" stroke="#8e8e8e" stroke-width="1.15" stroke-linejoin="round"/>
<polyline points="432.30,292.91 432.90,290.89 433.60,289.75 434.10,288.33 434.70,284.74 435.10,282.93 435.90,280.67 436.60,279.49 437.10,276.18 437.70,273.00 438.30,273.52 438.90,271.85 439.50,272.32 440.00,271.54 440.70,270.96 441.30,268.48 442.00,269.63 442.50,267.92 443.10,268.55 443.70,269.49 444.40,272.51 444.90,272.93 445.50,270.80 446.10,272.02 446.70,272.75 447.00,273.10 447.30,273.90 447.90,275.17 448.50,275.63 449.20,278.78 449.70,280.97 450.30,281.25 450.90,283.95 451.30,283.68 452.10,283.73 452.70,287.61 453.40,289.51 453.90,288.17 454.50,288.71 455.10,291.12 455.60,292.06 456.30,292.83 456.90,293.43 457.60,294.20 458.10,294.20 458.70,294.20 459.30,294.21 459.90,294.21 460.50,294.21 461.10,294.21 461.70,294.22 462.30,294.22 462.90,294.22 463.50,294.22 464.10,294.23 464.70,294.23 465.30,294.23 465.90,294.23 466.50,294.24 467.10,294.24 467.70,294.24 468.30,294.24 468.90,294.25 469.50,294.25 470.10,294.25 470.70,294.25 471.30,294.25 471.90,294.26 472.50,294.26 473.10,294.26 473.70,294.26 474.30,294.27 474.90,294.27 475.50,294.27 476.10,294.27 476.70,294.28 477.30,294.28 477.90,294.28 478.50,294.28 479.10,294.29 479.70,294.29 480.30,294.29 480.90,294.29 481.50,294.30 482.10,294.30 482.60,294.30" fill="none" stroke="#0d0d0d" stroke-width="1.2" stroke-linejoin="round"/>
<polyline points="432.30,282.83 432.90,281.09 433.60,279.98 434.10,275.35 434.70,275.32 435.10,274.97 435.90,269.10 436.60,266.66 437.10,267.93 437.70,266.70 438.30,261.17 438.90,262.39 439.50,259.03 440.00,260.68 440.70,259.77 441.30,257.57 442.00,256.97 442.50,259.94 443.10,259.56 443.70,261.32 444.00,260.04 444.30,260.36 444.90,264.27 445.50,264.11 446.10,264.46 446.70,265.79 447.00,267.17 447.30,267.63 447.90,269.57 448.50,268.38 449.10,271.24 449.80,271.73 450.30,273.50 450.90,274.42 451.50,275.67 452.10,277.04 452.40,277.91 452.70,277.02 453.30,277.51 453.90,279.17 454.60,280.45 455.10,280.13 455.70,281.03 456.30,281.57 456.70,282.83 457.50,283.13 458.10,283.53 458.80,284.00 459.30,284.00 459.90,284.00 460.50,284.01 461.10,284.01 461.70,284.01 462.30,284.01 462.90,284.02 463.50,284.02 464.10,284.02 464.70,284.02 465.30,284.03 465.90,284.03 466.50,284.03 467.10,284.03 467.70,284.04 468.30,284.04 468.90,284.04 469.50,284.04 470.10,284.05 470.70,284.05 471.30,284.05 471.90,284.06 472.50,284.06 473.10,284.06 473.70,284.06 474.30,284.07 474.90,284.07 475.50,284.07 476.10,284.07 476.70,284.08 477.30,284.08 477.90,284.08 478.50,284.08 479.10,284.09 479.70,284.09 480.30,284.09 480.90,284.09 481.50,284.10 482.10,284.10 482.60,284.10" fill="none" stroke="#0d0d0d" stroke-width="1.2" stroke-linejoin="round"/>
</g>
<path d="M382.00 304.90v2.8M385.77 304.90v1.9M388.04 304.90v1.9M389.55 304.90v1.9M390.80 304.90v1.9M391.81 304.90v1.9M392.69 304.90v1.9M393.32 304.90v1.9M393.95 304.90v1.9M394.57 304.90v2.8M398.35 304.90v1.9M400.61 304.90v1.9M402.12 304.90v1.9M403.38 304.90v1.9M404.38 304.90v1.9M405.26 304.90v1.9M405.89 304.90v1.9M406.52 304.90v1.9M407.15 304.90v2.8M410.92 304.90v1.9M413.19 304.90v1.9M414.69 304.90v1.9M415.95 304.90v1.9M416.96 304.90v1.9M417.84 304.90v1.9M418.47 304.90v1.9M419.10 304.90v1.9M419.73 304.90v2.8M423.50 304.90v1.9M425.76 304.90v1.9M427.27 304.90v1.9M428.53 304.90v1.9M429.53 304.90v1.9M430.41 304.90v1.9M431.04 304.90v1.9M431.67 304.90v1.9M432.30 304.90v2.8M436.07 304.90v1.9M438.34 304.90v1.9M439.85 304.90v1.9M441.10 304.90v1.9M442.11 304.90v1.9M442.99 304.90v1.9M443.62 304.90v1.9M444.25 304.90v1.9M444.88 304.90v2.8M448.65 304.90v1.9M450.91 304.90v1.9M452.42 304.90v1.9M453.68 304.90v1.9M454.68 304.90v1.9M455.56 304.90v1.9M456.19 304.90v1.9M456.82 304.90v1.9M457.45 304.90v2.8M461.22 304.90v1.9M463.49 304.90v1.9M465.00 304.90v1.9M466.25 304.90v1.9M467.26 304.90v1.9M468.14 304.90v1.9M468.77 304.90v1.9M469.40 304.90v1.9M470.03 304.90v2.8M473.80 304.90v1.9M476.06 304.90v1.9M477.57 304.90v1.9M478.83 304.90v1.9M479.83 304.90v1.9M480.71 304.90v1.9M481.34 304.90v1.9M481.97 304.90v1.9" fill="none" stroke="#111" stroke-width="0.9" />
<rect x="382.00" y="255.10" width="100.60" height="49.80" fill="none" stroke="#0d0d0d" stroke-width="1.1"/>
<line x1="432.30" y1="255.10" x2="432.30" y2="304.90" stroke="#0d0d0d" stroke-width="1.1"/>
<text x="485.30" y="286.30" font-size="7.2" textLength="23.00" lengthAdjust="spacingAndGlyphs">WT B6</text>
<text x="485.30" y="297.10" font-size="7.2" textLength="29.20" lengthAdjust="spacingAndGlyphs">IL-27R<tspan font-size="4.46" dy="-3.31">-/-</tspan><tspan dy="3.31">&#8203;</tspan></text>
<text x="485.30" y="306.40" font-size="7.2" textLength="22.80" lengthAdjust="spacingAndGlyphs">Isotype</text>
<text x="398.60" y="318.20" font-size="9.6" textLength="17.80" lengthAdjust="spacingAndGlyphs">GITR</text>
<text x="444.80" y="318.20" font-size="9.6" textLength="24.80" lengthAdjust="spacingAndGlyphs">CD127</text>
</g>
<g id="panelD">
<text x="50.00" y="195.00" font-size="9.8" textLength="55.00" lengthAdjust="spacingAndGlyphs" style="stroke-width:0.14px">CD4<tspan font-size="7.64" dy="-2.65">+</tspan><tspan dy="2.65">&#8203;</tspan> T cells</text>
<text x="125.00" y="195.00" font-size="9.8" textLength="54.30" lengthAdjust="spacingAndGlyphs" style="stroke-width:0.14px">CD8<tspan font-size="7.64" dy="-2.65">+</tspan><tspan dy="2.65">&#8203;</tspan> T cells</text>
<text transform="translate(14.70 275.00) rotate(-90)" font-size="8.6" textLength="77.60" lengthAdjust="spacingAndGlyphs" style="stroke-width:0.14px">Percent proliferation</text>
<line x1="52.25" y1="266.75" x2="52.25" y2="265.20" stroke="#161616" stroke-width="1.1"/>
<line x1="49.30" y1="265.20" x2="55.20" y2="265.20" stroke="#161616" stroke-width="1.1"/>
<rect x="47.50" y="266.25" width="9.50" height="5.50" fill="#000"/>
<line x1="66.25" y1="219.25" x2="66.25" y2="216.50" stroke="#161616" stroke-width="1.1"/>
<line x1="63.18" y1="216.50" x2="69.32" y2="216.50" stroke="#161616" stroke-width="1.1"/>
<rect x="61.30" y="218.75" width="9.90" height="53.00" fill="#000"/>
<line x1="89.15" y1="266.25" x2="89.15" y2="264.40" stroke="#161616" stroke-width="1.1"/>
<line x1="86.27" y1="264.40" x2="92.03" y2="264.40" stroke="#161616" stroke-width="1.1"/>
<rect x="84.50" y="265.75" width="9.30" height="6.00" fill="#7f7f7f"/>
<line x1="103.15" y1="217.25" x2="103.15" y2="214.60" stroke="#161616" stroke-width="1.1"/>
<line x1="100.14" y1="214.60" x2="106.16" y2="214.60" stroke="#161616" stroke-width="1.1"/>
<rect x="98.30" y="216.75" width="9.70" height="55.00" fill="#7f7f7f"/>
<line x1="127.00" y1="245.50" x2="127.00" y2="240.50" stroke="#161616" stroke-width="1.1"/>
<line x1="123.90" y1="240.50" x2="130.10" y2="240.50" stroke="#161616" stroke-width="1.1"/>
<rect x="122.00" y="245.00" width="10.00" height="26.75" fill="#000"/>
<line x1="141.00" y1="214.25" x2="141.00" y2="211.30" stroke="#161616" stroke-width="1.1"/>
<line x1="138.02" y1="211.30" x2="143.98" y2="211.30" stroke="#161616" stroke-width="1.1"/>
<rect x="136.20" y="213.75" width="9.60" height="58.00" fill="#000"/>
<line x1="164.05" y1="237.25" x2="164.05" y2="230.80" stroke="#161616" stroke-width="1.1"/>
<line x1="161.11" y1="230.80" x2="167.00" y2="230.80" stroke="#161616" stroke-width="1.1"/>
<rect x="159.30" y="236.75" width="9.50" height="35.00" fill="#7f7f7f"/>
<line x1="177.90" y1="214.25" x2="177.90" y2="213.20" stroke="#161616" stroke-width="1.1"/>
<line x1="174.99" y1="213.20" x2="180.81" y2="213.20" stroke="#161616" stroke-width="1.1"/>
<rect x="173.20" y="213.75" width="9.40" height="58.00" fill="#7f7f7f"/>
<line x1="40.60" y1="201.20" x2="40.60" y2="272.35" stroke="#111" stroke-width="1.3"/>
<line x1="37.30" y1="271.75" x2="190.00" y2="271.75" stroke="#1c1c1c" stroke-width="1.3"/>
<line x1="115.00" y1="204.50" x2="115.00" y2="271.75" stroke="#000" stroke-width="1.3"/>
<line x1="37.50" y1="271.75" x2="40.50" y2="271.75" stroke="#1c1c1c" stroke-width="1"/>
<text x="34.80" y="274.55" font-size="8.1" text-anchor="end">0</text>
<line x1="37.50" y1="258.25" x2="40.50" y2="258.25" stroke="#1c1c1c" stroke-width="1"/>
<text x="34.80" y="261.05" font-size="8.1" text-anchor="end">20</text>
<line x1="37.50" y1="244.75" x2="40.50" y2="244.75" stroke="#1c1c1c" stroke-width="1"/>
<text x="34.80" y="247.55" font-size="8.1" text-anchor="end">40</text>
<line x1="37.50" y1="231.25" x2="40.50" y2="231.25" stroke="#1c1c1c" stroke-width="1"/>
<text x="34.80" y="234.05" font-size="8.1" text-anchor="end">60</text>
<line x1="37.50" y1="217.75" x2="40.50" y2="217.75" stroke="#1c1c1c" stroke-width="1"/>
<text x="34.80" y="220.55" font-size="8.1" text-anchor="end">80</text>
<line x1="37.50" y1="204.25" x2="40.50" y2="204.25" stroke="#1c1c1c" stroke-width="1"/>
<text x="34.80" y="207.05" font-size="8.1" text-anchor="end">100</text>
<line x1="52.20" y1="271.75" x2="52.20" y2="274.75" stroke="#1c1c1c" stroke-width="1"/>
<text x="52.20" y="283.90" font-size="7.6" text-anchor="middle" fill="#3a3a3a">-</text>
<line x1="66.30" y1="271.75" x2="66.30" y2="274.75" stroke="#1c1c1c" stroke-width="1"/>
<text x="66.30" y="285.50" font-size="7.2" text-anchor="middle" fill="#3a3a3a">+</text>
<line x1="89.20" y1="271.75" x2="89.20" y2="274.75" stroke="#1c1c1c" stroke-width="1"/>
<text x="89.20" y="283.90" font-size="7.6" text-anchor="middle" fill="#3a3a3a">-</text>
<line x1="103.20" y1="271.75" x2="103.20" y2="274.75" stroke="#1c1c1c" stroke-width="1"/>
<text x="103.20" y="285.50" font-size="7.2" text-anchor="middle" fill="#3a3a3a">+</text>
<line x1="127.00" y1="271.75" x2="127.00" y2="274.75" stroke="#1c1c1c" stroke-width="1"/>
<text x="127.00" y="283.90" font-size="7.6" text-anchor="middle" fill="#3a3a3a">-</text>
<line x1="141.00" y1="271.75" x2="141.00" y2="274.75" stroke="#1c1c1c" stroke-width="1"/>
<text x="141.00" y="285.50" font-size="7.2" text-anchor="middle" fill="#3a3a3a">+</text>
<line x1="164.00" y1="271.75" x2="164.00" y2="274.75" stroke="#1c1c1c" stroke-width="1"/>
<text x="164.00" y="283.90" font-size="7.6" text-anchor="middle" fill="#3a3a3a">-</text>
<line x1="177.80" y1="271.75" x2="177.80" y2="274.75" stroke="#1c1c1c" stroke-width="1"/>
<text x="177.80" y="285.50" font-size="7.2" text-anchor="middle" fill="#3a3a3a">+</text>
<rect x="192.50" y="201.30" width="12.60" height="5.40" fill="#000"/>
<text x="207.60" y="206.80" font-size="7.1" textLength="10.40" lengthAdjust="spacingAndGlyphs">WT</text>
<rect x="192.50" y="211.20" width="12.60" height="5.20" fill="#7f7f7f"/>
<text x="207.50" y="216.30" font-size="7" textLength="28.30" lengthAdjust="spacingAndGlyphs">IL-27R<tspan font-size="4.34" dy="-3.22">-/-</tspan><tspan dy="3.22">&#8203;</tspan></text>
</g>
<g id="panelE">
<text transform="translate(261.40 275.60) rotate(-90)" font-size="8.6" textLength="74.60" lengthAdjust="spacingAndGlyphs" style="stroke-width:0.14px">Percent CD8<tspan font-size="5.50" dy="-3.10">+</tspan><tspan dy="3.10">&#8203;</tspan> IFN<tspan font-size="6.71" dy="0.60">γ</tspan><tspan dy="-0.60">&#8203;</tspan><tspan font-size="5.50" dy="-3.27">+</tspan><tspan dy="3.27">&#8203;</tspan></text>
<line x1="284.40" y1="204.50" x2="284.40" y2="272.35" stroke="#111" stroke-width="1.3"/>
<line x1="281.00" y1="271.75" x2="360.00" y2="271.75" stroke="#1c1c1c" stroke-width="1.3"/>
<line x1="281.30" y1="271.75" x2="284.50" y2="271.75" stroke="#1c1c1c" stroke-width="1"/>
<text x="278.20" y="274.55" font-size="8.1" text-anchor="end">0</text>
<line x1="281.30" y1="255.50" x2="284.50" y2="255.50" stroke="#1c1c1c" stroke-width="1"/>
<text x="278.20" y="258.30" font-size="8.1" text-anchor="end">5</text>
<line x1="281.30" y1="239.25" x2="284.50" y2="239.25" stroke="#1c1c1c" stroke-width="1"/>
<text x="278.20" y="242.05" font-size="8.1" text-anchor="end">10</text>
<line x1="281.30" y1="223.00" x2="284.50" y2="223.00" stroke="#1c1c1c" stroke-width="1"/>
<text x="278.20" y="225.80" font-size="8.1" text-anchor="end">15</text>
<line x1="281.30" y1="206.75" x2="284.50" y2="206.75" stroke="#1c1c1c" stroke-width="1"/>
<text x="278.20" y="209.55" font-size="8.1" text-anchor="end">20</text>
<line x1="305.00" y1="271.75" x2="305.00" y2="274.75" stroke="#1c1c1c" stroke-width="1"/>
<line x1="345.00" y1="271.75" x2="345.00" y2="274.75" stroke="#1c1c1c" stroke-width="1"/>
<text x="298.80" y="284.30" font-size="7.7" textLength="11.40" lengthAdjust="spacingAndGlyphs">WT</text>
<text x="331.00" y="284.30" font-size="7.7" textLength="28.80" lengthAdjust="spacingAndGlyphs">IL-27R<tspan font-size="4.77" dy="-3.54">-/-</tspan><tspan dy="3.54">&#8203;</tspan></text>
<circle cx="302.50" cy="231.00" r="2.15" fill="#0c0c0c"/>
<circle cx="307.00" cy="235.00" r="2.15" fill="#0c0c0c"/>
<circle cx="308.00" cy="240.50" r="2.15" fill="#0c0c0c"/>
<circle cx="302.00" cy="244.25" r="2.15" fill="#0c0c0c"/>
<line x1="291.30" y1="238.00" x2="318.00" y2="238.00" stroke="#1c1c1c" stroke-width="1.35"/>
<line x1="298.38" y1="234.50" x2="310.92" y2="234.50" stroke="#1c1c1c" stroke-width="1.35"/>
<line x1="298.38" y1="241.30" x2="310.92" y2="241.30" stroke="#1c1c1c" stroke-width="1.35"/>
<line x1="304.65" y1="234.50" x2="304.65" y2="241.30" stroke="#1c1c1c" stroke-width="1.35"/>
<path d="M338.75 223.56L341.45 228.43H336.05Z" fill="#0c0c0c"/>
<path d="M343.25 227.76L345.95 232.62H340.55Z" fill="#0c0c0c"/>
<path d="M348.75 225.16L351.45 230.03H346.05Z" fill="#0c0c0c"/>
<path d="M353.00 223.56L355.70 228.43H350.30Z" fill="#0c0c0c"/>
<line x1="332.00" y1="227.60" x2="359.50" y2="227.60" stroke="#1c1c1c" stroke-width="1.35"/>
<line x1="339.29" y1="226.60" x2="352.21" y2="226.60" stroke="#1c1c1c" stroke-width="1.35"/>
<line x1="339.29" y1="228.60" x2="352.21" y2="228.60" stroke="#1c1c1c" stroke-width="1.35"/>
<line x1="345.75" y1="226.60" x2="345.75" y2="228.60" stroke="#1c1c1c" stroke-width="1.35"/>
</g>
<g id="panelF">
<text transform="translate(18.10 413.00) rotate(-90)" font-size="8.6" textLength="75.20" lengthAdjust="spacingAndGlyphs" style="stroke-width:0.14px">Percent CD4<tspan font-size="5.50" dy="-3.10">+</tspan><tspan dy="3.10">&#8203;</tspan> IFN<tspan font-size="6.71" dy="0.60">γ</tspan><tspan dy="-0.60">&#8203;</tspan><tspan font-size="5.50" dy="-3.27">+</tspan><tspan dy="3.27">&#8203;</tspan></text>
<text transform="translate(141.50 413.00) rotate(-90)" font-size="8.6" textLength="75.20" lengthAdjust="spacingAndGlyphs" style="stroke-width:0.14px">Percent CD8<tspan font-size="5.50" dy="-3.10">+</tspan><tspan dy="3.10">&#8203;</tspan> IFN<tspan font-size="6.71" dy="0.60">γ</tspan><tspan dy="-0.60">&#8203;</tspan><tspan font-size="5.50" dy="-3.27">+</tspan><tspan dy="3.27">&#8203;</tspan></text>
<line x1="40.60" y1="341.20" x2="40.60" y2="409.85" stroke="#111" stroke-width="1.3"/>
<line x1="37.30" y1="409.25" x2="122.50" y2="409.25" stroke="#1c1c1c" stroke-width="1.3"/>
<line x1="37.30" y1="409.25" x2="40.50" y2="409.25" stroke="#1c1c1c" stroke-width="1"/>
<text x="34.60" y="412.05" font-size="8.1" text-anchor="end">0</text>
<line x1="37.30" y1="393.05" x2="40.50" y2="393.05" stroke="#1c1c1c" stroke-width="1"/>
<text x="34.60" y="395.85" font-size="8.1" text-anchor="end">20</text>
<line x1="37.30" y1="376.85" x2="40.50" y2="376.85" stroke="#1c1c1c" stroke-width="1"/>
<text x="34.60" y="379.65" font-size="8.1" text-anchor="end">40</text>
<line x1="37.30" y1="360.65" x2="40.50" y2="360.65" stroke="#1c1c1c" stroke-width="1"/>
<text x="34.60" y="363.45" font-size="8.1" text-anchor="end">60</text>
<line x1="37.30" y1="344.45" x2="40.50" y2="344.45" stroke="#1c1c1c" stroke-width="1"/>
<text x="34.60" y="347.25" font-size="8.1" text-anchor="end">80</text>
<line x1="61.25" y1="409.25" x2="61.25" y2="412.25" stroke="#1c1c1c" stroke-width="1"/>
<line x1="102.50" y1="409.25" x2="102.50" y2="412.25" stroke="#1c1c1c" stroke-width="1"/>
<text x="55.50" y="421.80" font-size="7.7" textLength="11.60" lengthAdjust="spacingAndGlyphs">WT</text>
<text x="87.50" y="421.80" font-size="7.7" textLength="30.00" lengthAdjust="spacingAndGlyphs">IL-27R<tspan font-size="4.77" dy="-3.54">-/-</tspan><tspan dy="3.54">&#8203;</tspan></text>
<circle cx="56.40" cy="362.80" r="2.15" fill="#0c0c0c"/>
<circle cx="61.50" cy="364.30" r="2.15" fill="#0c0c0c"/>
<circle cx="66.20" cy="364.00" r="2.15" fill="#0c0c0c"/>
<circle cx="61.40" cy="371.20" r="2.15" fill="#0c0c0c"/>
<circle cx="63.60" cy="378.40" r="2.15" fill="#0c0c0c"/>
<circle cx="58.60" cy="381.80" r="2.15" fill="#0c0c0c"/>
<circle cx="61.20" cy="388.60" r="2.15" fill="#0c0c0c"/>
<circle cx="63.80" cy="395.20" r="2.15" fill="#0c0c0c"/>
<circle cx="58.80" cy="397.90" r="2.15" fill="#0c0c0c"/>
<line x1="47.50" y1="378.25" x2="74.50" y2="378.25" stroke="#1c1c1c" stroke-width="1.35"/>
<line x1="54.66" y1="373.75" x2="67.34" y2="373.75" stroke="#1c1c1c" stroke-width="1.35"/>
<line x1="54.66" y1="383.00" x2="67.34" y2="383.00" stroke="#1c1c1c" stroke-width="1.35"/>
<line x1="61.00" y1="373.75" x2="61.00" y2="383.00" stroke="#1c1c1c" stroke-width="1.35"/>
<path d="M102.50 372.17L105.20 377.02H99.80Z" fill="#0c0c0c"/>
<path d="M102.50 379.67L105.20 384.52H99.80Z" fill="#0c0c0c"/>
<path d="M97.50 385.17L100.20 390.02H94.80Z" fill="#0c0c0c"/>
<path d="M107.00 384.67L109.70 389.52H104.30Z" fill="#0c0c0c"/>
<path d="M102.00 388.42L104.70 393.27H99.30Z" fill="#0c0c0c"/>
<path d="M109.50 400.17L112.20 405.02H106.80Z" fill="#0c0c0c"/>
<path d="M95.00 404.77L97.70 409.62H92.30Z" fill="#0c0c0c"/>
<path d="M100.00 404.77L102.70 409.62H97.30Z" fill="#0c0c0c"/>
<path d="M104.50 404.77L107.20 409.62H101.80Z" fill="#0c0c0c"/>
<line x1="88.75" y1="394.50" x2="115.75" y2="394.50" stroke="#1c1c1c" stroke-width="1.35"/>
<line x1="95.91" y1="391.25" x2="108.59" y2="391.25" stroke="#1c1c1c" stroke-width="1.35"/>
<line x1="95.91" y1="398.25" x2="108.59" y2="398.25" stroke="#1c1c1c" stroke-width="1.35"/>
<line x1="102.25" y1="391.25" x2="102.25" y2="398.25" stroke="#1c1c1c" stroke-width="1.35"/>
<path d="M60.75 350.90V348.50H102.50V350.90" fill="none" stroke="#1c1c1c" stroke-width="1.1" />
<text x="81.45" y="346.50" font-size="7.9" font-weight="700" text-anchor="middle" letter-spacing="0.45" fill="#0a0a0a">*</text>
<line x1="164.60" y1="341.20" x2="164.60" y2="409.85" stroke="#111" stroke-width="1.3"/>
<line x1="161.30" y1="409.25" x2="246.30" y2="409.25" stroke="#1c1c1c" stroke-width="1.3"/>
<line x1="161.30" y1="409.25" x2="164.50" y2="409.25" stroke="#1c1c1c" stroke-width="1"/>
<text x="158.60" y="412.05" font-size="8.1" text-anchor="end">0</text>
<line x1="161.30" y1="393.05" x2="164.50" y2="393.05" stroke="#1c1c1c" stroke-width="1"/>
<text x="158.60" y="395.85" font-size="8.1" text-anchor="end">10</text>
<line x1="161.30" y1="376.85" x2="164.50" y2="376.85" stroke="#1c1c1c" stroke-width="1"/>
<text x="158.60" y="379.65" font-size="8.1" text-anchor="end">20</text>
<line x1="161.30" y1="360.65" x2="164.50" y2="360.65" stroke="#1c1c1c" stroke-width="1"/>
<text x="158.60" y="363.45" font-size="8.1" text-anchor="end">30</text>
<line x1="161.30" y1="344.45" x2="164.50" y2="344.45" stroke="#1c1c1c" stroke-width="1"/>
<text x="158.60" y="347.25" font-size="8.1" text-anchor="end">40</text>
<line x1="185.00" y1="409.25" x2="185.00" y2="412.25" stroke="#1c1c1c" stroke-width="1"/>
<line x1="226.25" y1="409.25" x2="226.25" y2="412.25" stroke="#1c1c1c" stroke-width="1"/>
<text x="178.80" y="421.80" font-size="7.7" textLength="11.60" lengthAdjust="spacingAndGlyphs">WT</text>
<text x="211.30" y="421.80" font-size="7.7" textLength="29.50" lengthAdjust="spacingAndGlyphs">IL-27R<tspan font-size="4.77" dy="-3.54">-/-</tspan><tspan dy="3.54">&#8203;</tspan></text>
<circle cx="185.00" cy="353.75" r="2.15" fill="#0c0c0c"/>
<circle cx="182.00" cy="361.25" r="2.15" fill="#0c0c0c"/>
<circle cx="187.50" cy="362.00" r="2.15" fill="#0c0c0c"/>
<circle cx="185.00" cy="378.25" r="2.15" fill="#0c0c0c"/>
<line x1="171.25" y1="363.75" x2="198.25" y2="363.75" stroke="#1c1c1c" stroke-width="1.35"/>
<line x1="178.41" y1="360.00" x2="191.09" y2="360.00" stroke="#1c1c1c" stroke-width="1.35"/>
<line x1="178.41" y1="368.00" x2="191.09" y2="368.00" stroke="#1c1c1c" stroke-width="1.35"/>
<line x1="184.75" y1="360.00" x2="184.75" y2="368.00" stroke="#1c1c1c" stroke-width="1.35"/>
<rect x="224.15" y="375.90" width="4.20" height="4.20" fill="#0c0c0c"/>
<rect x="225.90" y="379.65" width="4.20" height="4.20" fill="#0c0c0c"/>
<rect x="222.90" y="383.40" width="4.20" height="4.20" fill="#0c0c0c"/>
<rect x="224.90" y="389.90" width="4.20" height="4.20" fill="#0c0c0c"/>
<rect x="224.15" y="397.15" width="4.20" height="4.20" fill="#0c0c0c"/>
<line x1="212.50" y1="387.00" x2="239.50" y2="387.00" stroke="#1c1c1c" stroke-width="1.35"/>
<line x1="219.66" y1="383.00" x2="232.34" y2="383.00" stroke="#1c1c1c" stroke-width="1.35"/>
<line x1="219.66" y1="390.75" x2="232.34" y2="390.75" stroke="#1c1c1c" stroke-width="1.35"/>
<line x1="226.00" y1="383.00" x2="226.00" y2="390.75" stroke="#1c1c1c" stroke-width="1.35"/>
<path d="M184.50 343.85V341.25H226.25V343.85" fill="none" stroke="#1c1c1c" stroke-width="1.1" />
<text x="205.20" y="340.20" font-size="7.9" font-weight="700" text-anchor="middle" letter-spacing="0.45" fill="#0a0a0a">**</text>
</g>
<g id="panelG">
<text transform="translate(269.70 406.20) rotate(-90)" font-size="8.8" textLength="61.20" lengthAdjust="spacingAndGlyphs" style="stroke-width:0.14px">Percent survival</text>
<text x="307.50" y="435.80" font-size="8.8" textLength="78.80" lengthAdjust="spacingAndGlyphs">Days post transplant</text>
<line x1="295.00" y1="340.00" x2="295.00" y2="410.10" stroke="#111" stroke-width="1.3"/>
<line x1="291.80" y1="409.50" x2="398.20" y2="409.50" stroke="#1c1c1c" stroke-width="1.3"/>
<line x1="291.80" y1="409.50" x2="295.00" y2="409.50" stroke="#1c1c1c" stroke-width="1"/>
<text x="289.40" y="412.30" font-size="8.1" text-anchor="end">0</text>
<line x1="291.80" y1="396.06" x2="295.00" y2="396.06" stroke="#1c1c1c" stroke-width="1"/>
<text x="289.40" y="398.86" font-size="8.1" text-anchor="end">20</text>
<line x1="291.80" y1="382.62" x2="295.00" y2="382.62" stroke="#1c1c1c" stroke-width="1"/>
<text x="289.40" y="385.42" font-size="8.1" text-anchor="end">40</text>
<line x1="291.80" y1="369.18" x2="295.00" y2="369.18" stroke="#1c1c1c" stroke-width="1"/>
<text x="289.40" y="371.98" font-size="8.1" text-anchor="end">60</text>
<line x1="291.80" y1="355.74" x2="295.00" y2="355.74" stroke="#1c1c1c" stroke-width="1"/>
<text x="289.40" y="358.54" font-size="8.1" text-anchor="end">80</text>
<line x1="291.80" y1="342.30" x2="295.00" y2="342.30" stroke="#1c1c1c" stroke-width="1"/>
<text x="289.40" y="345.10" font-size="8.1" text-anchor="end">100</text>
<line x1="295.00" y1="409.50" x2="295.00" y2="412.50" stroke="#1c1c1c" stroke-width="1"/>
<text x="295.00" y="422.90" font-size="8.1" text-anchor="middle">0</text>
<line x1="311.65" y1="409.50" x2="311.65" y2="412.50" stroke="#1c1c1c" stroke-width="1"/>
<text x="311.65" y="422.90" font-size="8.1" text-anchor="middle">10</text>
<line x1="328.30" y1="409.50" x2="328.30" y2="412.50" stroke="#1c1c1c" stroke-width="1"/>
<text x="328.30" y="422.90" font-size="8.1" text-anchor="middle">20</text>
<line x1="344.95" y1="409.50" x2="344.95" y2="412.50" stroke="#1c1c1c" stroke-width="1"/>
<text x="344.95" y="422.90" font-size="8.1" text-anchor="middle">30</text>
<line x1="361.60" y1="409.50" x2="361.60" y2="412.50" stroke="#1c1c1c" stroke-width="1"/>
<text x="361.60" y="422.90" font-size="8.1" text-anchor="middle">40</text>
<line x1="378.25" y1="409.50" x2="378.25" y2="412.50" stroke="#1c1c1c" stroke-width="1"/>
<text x="378.25" y="422.90" font-size="8.1" text-anchor="middle">50</text>
<line x1="394.90" y1="409.50" x2="394.90" y2="412.50" stroke="#1c1c1c" stroke-width="1"/>
<text x="394.90" y="422.90" font-size="8.1" text-anchor="middle">60</text>
<line x1="295.00" y1="342.30" x2="394.30" y2="342.30" stroke="#1c1c1c" stroke-width="1.2"/>
<path d="M295.00 342.30H305.00V347.00H307.00V351.75H323.25V355.75H326.75V360.75H328.25V365.00H330.00V373.75H331.75V378.25H340.00V382.50H343.75V386.75H347.00V391.75H351.75V395.75H361.75V400.50H373.25V404.70H381.75V409.00" fill="none" stroke="#1c1c1c" stroke-width="1.2" />
<path d="M341.75 342.30H341.75V351.75H343.75V356.25H355.00V369.25H358.25V378.25H381.75V382.00H386.25V386.75H395" fill="none" stroke="#1c1c1c" stroke-width="1.2" />
<rect x="302.80" y="344.80" width="4.40" height="4.40" fill="#0c0c0c"/>
<rect x="304.80" y="349.55" width="4.40" height="4.40" fill="#0c0c0c"/>
<rect x="321.05" y="353.55" width="4.40" height="4.40" fill="#0c0c0c"/>
<rect x="324.55" y="358.55" width="4.40" height="4.40" fill="#0c0c0c"/>
<rect x="326.05" y="362.80" width="4.40" height="4.40" fill="#0c0c0c"/>
<rect x="327.80" y="371.55" width="4.40" height="4.40" fill="#0c0c0c"/>
<rect x="329.55" y="376.05" width="4.40" height="4.40" fill="#0c0c0c"/>
<rect x="337.80" y="380.30" width="4.40" height="4.40" fill="#0c0c0c"/>
<rect x="341.55" y="384.55" width="4.40" height="4.40" fill="#0c0c0c"/>
<rect x="344.80" y="389.55" width="4.40" height="4.40" fill="#0c0c0c"/>
<rect x="349.55" y="393.55" width="4.40" height="4.40" fill="#0c0c0c"/>
<rect x="359.55" y="398.30" width="4.40" height="4.40" fill="#0c0c0c"/>
<rect x="371.05" y="402.50" width="4.40" height="4.40" fill="#0c0c0c"/>
<rect x="379.55" y="406.80" width="4.40" height="4.40" fill="#0c0c0c"/>
<rect x="339.85" y="349.85" width="3.80" height="3.80" fill="#fff" stroke="#0c0c0c" stroke-width="1"/>
<rect x="341.85" y="354.35" width="3.80" height="3.80" fill="#fff" stroke="#0c0c0c" stroke-width="1"/>
<rect x="353.10" y="367.35" width="3.80" height="3.80" fill="#fff" stroke="#0c0c0c" stroke-width="1"/>
<rect x="356.35" y="376.35" width="3.80" height="3.80" fill="#fff" stroke="#0c0c0c" stroke-width="1"/>
<rect x="379.85" y="380.10" width="3.80" height="3.80" fill="#fff" stroke="#0c0c0c" stroke-width="1"/>
<rect x="384.35" y="384.85" width="3.80" height="3.80" fill="#fff" stroke="#0c0c0c" stroke-width="1"/>
<rect x="393.10" y="384.85" width="3.80" height="3.80" fill="#fff" stroke="#0c0c0c" stroke-width="1"/>
<circle cx="394.2" cy="341.0" r="2.1" fill="#0c0c0c"/>
<circle cx="394.2" cy="345.0" r="1.8" fill="#fff" stroke="#0c0c0c" stroke-width="1.1"/>
<text x="382.60" y="370.80" font-size="7.9" font-weight="700" text-anchor="middle" letter-spacing="0.45" fill="#0a0a0a">***</text>
<path d="M394.8 363.8H391V371.7H394.8" fill="none" stroke="#1c1c1c" stroke-width="1" />
<line x1="406.20" y1="346.20" x2="413.80" y2="346.20" stroke="#1c1c1c" stroke-width="0.9"/>
<circle cx="410" cy="346.20" r="1.9" fill="#0c0c0c"/>
<text x="416.30" y="348.80" font-size="7" textLength="22.50" lengthAdjust="spacingAndGlyphs">B6 BM</text>
<line x1="406.20" y1="354.20" x2="413.80" y2="354.20" stroke="#1c1c1c" stroke-width="0.9"/>
<circle cx="410" cy="354.20" r="1.6" fill="#fff" stroke="#0c0c0c" stroke-width="0.9"/>
<text x="416.30" y="356.80" font-size="7" textLength="41.20" lengthAdjust="spacingAndGlyphs">IL-27R<tspan font-size="4.34" dy="-3.22">-/-</tspan><tspan dy="3.22">&#8203;</tspan> BM</text>
<line x1="406.20" y1="362.00" x2="413.80" y2="362.00" stroke="#1c1c1c" stroke-width="0.9"/>
<rect x="408.00" y="360.00" width="4.00" height="4.00" fill="#0c0c0c"/>
<text x="416.30" y="364.60" font-size="7" textLength="33.20" lengthAdjust="spacingAndGlyphs">B6 GVHD</text>
<line x1="406.20" y1="371.20" x2="413.80" y2="371.20" stroke="#1c1c1c" stroke-width="0.9"/>
<rect x="408.30" y="369.50" width="3.40" height="3.40" fill="#fff" stroke="#0c0c0c" stroke-width="1"/>
<text x="416.30" y="373.80" font-size="7" textLength="51.80" lengthAdjust="spacingAndGlyphs">IL-27R<tspan font-size="4.34" dy="-3.22">-/-</tspan><tspan dy="3.22">&#8203;</tspan> GVHD</text>
</g>
<g id="panelHI">
<rect x="100.00" y="459.20" width="10.80" height="5.10" fill="#000"/>
<text x="113.80" y="464.30" font-size="7" textLength="22.50" lengthAdjust="spacingAndGlyphs">B6 BM</text>
<rect x="155.30" y="459.20" width="10.80" height="5.10" fill="#c6c6c6"/>
<text x="168.00" y="464.30" font-size="7" textLength="41.30" lengthAdjust="spacingAndGlyphs">IL-27R<tspan font-size="4.34" dy="-3.22">-/-</tspan><tspan dy="3.22">&#8203;</tspan> BM</text>
<rect x="227.50" y="459.20" width="10.80" height="5.10" fill="#858585"/>
<text x="241.30" y="464.30" font-size="7" textLength="33.20" lengthAdjust="spacingAndGlyphs">B6 GVHD</text>
<rect x="292.50" y="459.20" width="10.80" height="5.10" fill="#3a3a3a"/>
<text x="305.60" y="464.30" font-size="7" textLength="52.40" lengthAdjust="spacingAndGlyphs">IL-27R<tspan font-size="4.34" dy="-3.22">-/-</tspan><tspan dy="3.22">&#8203;</tspan> GVHD</text>
<text transform="translate(36.20 560.40) rotate(-90)" font-size="8.6" textLength="77.80" lengthAdjust="spacingAndGlyphs" style="stroke-width:0.14px">Abs. no. cells (x10<tspan font-size="6.36" dy="-3.10">6</tspan><tspan dy="3.10">&#8203;</tspan>)</text>
<text transform="translate(175.00 560.40) rotate(-90)" font-size="8.6" textLength="77.80" lengthAdjust="spacingAndGlyphs" style="stroke-width:0.14px">Abs. no. cells (x10<tspan font-size="6.36" dy="-3.10">4</tspan><tspan dy="3.10">&#8203;</tspan>)</text>
<text transform="translate(318.60 560.40) rotate(-90)" font-size="8.6" textLength="77.80" lengthAdjust="spacingAndGlyphs" style="stroke-width:0.14px">Abs. no. cells (x10<tspan font-size="6.36" dy="-3.10">4</tspan><tspan dy="3.10">&#8203;</tspan>)</text>
<text x="89.50" y="481.30" font-size="9.4" textLength="20.00" lengthAdjust="spacingAndGlyphs" style="stroke-width:0.14px">Liver</text>
<text x="232.00" y="481.30" font-size="9.4" textLength="21.80" lengthAdjust="spacingAndGlyphs" style="stroke-width:0.14px">Lung</text>
<text x="373.80" y="481.30" font-size="9.4" textLength="25.50" lengthAdjust="spacingAndGlyphs" style="stroke-width:0.14px">Colon</text>
<rect x="56.40" y="554.90" width="7.30" height="0.85" fill="#000"/>
<line x1="70.50" y1="554.90" x2="70.50" y2="553.80" stroke="#161616" stroke-width="1.1"/>
<line x1="68.33" y1="553.80" x2="72.67" y2="553.80" stroke="#161616" stroke-width="1.1"/>
<rect x="67.00" y="554.40" width="7.00" height="1.35" fill="#c6c6c6"/>
<line x1="81.15" y1="541.25" x2="81.15" y2="538.25" stroke="#161616" stroke-width="1.1"/>
<line x1="78.89" y1="538.25" x2="83.41" y2="538.25" stroke="#161616" stroke-width="1.1"/>
<rect x="77.50" y="540.75" width="7.30" height="15.00" fill="#858585"/>
<line x1="91.50" y1="550.00" x2="91.50" y2="549.00" stroke="#161616" stroke-width="1.1"/>
<line x1="89.33" y1="549.00" x2="93.67" y2="549.00" stroke="#161616" stroke-width="1.1"/>
<rect x="88.00" y="549.50" width="7.00" height="6.25" fill="#3a3a3a"/>
<line x1="107.95" y1="525.00" x2="107.95" y2="518.75" stroke="#161616" stroke-width="1.1"/>
<line x1="105.81" y1="518.75" x2="110.09" y2="518.75" stroke="#161616" stroke-width="1.1"/>
<rect x="104.50" y="524.50" width="6.90" height="31.25" fill="#000"/>
<line x1="118.20" y1="528.50" x2="118.20" y2="519.50" stroke="#161616" stroke-width="1.1"/>
<line x1="115.97" y1="519.50" x2="120.43" y2="519.50" stroke="#161616" stroke-width="1.1"/>
<rect x="114.60" y="528.00" width="7.20" height="27.75" fill="#c6c6c6"/>
<line x1="128.50" y1="506.75" x2="128.50" y2="502.90" stroke="#161616" stroke-width="1.1"/>
<line x1="126.33" y1="502.90" x2="130.67" y2="502.90" stroke="#161616" stroke-width="1.1"/>
<rect x="125.00" y="506.25" width="7.00" height="49.50" fill="#858585"/>
<line x1="138.50" y1="526.25" x2="138.50" y2="522.50" stroke="#161616" stroke-width="1.1"/>
<line x1="136.33" y1="522.50" x2="140.67" y2="522.50" stroke="#161616" stroke-width="1.1"/>
<rect x="135.00" y="525.75" width="7.00" height="30.00" fill="#3a3a3a"/>
<line x1="52.40" y1="486.80" x2="52.40" y2="556.35" stroke="#111" stroke-width="1.3"/>
<line x1="48.20" y1="555.75" x2="147.50" y2="555.75" stroke="#1c1c1c" stroke-width="1.3"/>
<line x1="48.20" y1="555.75" x2="52.40" y2="555.75" stroke="#1c1c1c" stroke-width="1"/>
<text x="46.70" y="558.55" font-size="8.1" text-anchor="end">0</text>
<line x1="48.20" y1="539.31" x2="52.40" y2="539.31" stroke="#1c1c1c" stroke-width="1"/>
<text x="46.70" y="542.11" font-size="8.1" text-anchor="end">1</text>
<line x1="48.20" y1="522.88" x2="52.40" y2="522.88" stroke="#1c1c1c" stroke-width="1"/>
<text x="46.70" y="525.67" font-size="8.1" text-anchor="end">2</text>
<line x1="48.20" y1="506.44" x2="52.40" y2="506.44" stroke="#1c1c1c" stroke-width="1"/>
<text x="46.70" y="509.24" font-size="8.1" text-anchor="end">3</text>
<line x1="48.20" y1="490.00" x2="52.40" y2="490.00" stroke="#1c1c1c" stroke-width="1"/>
<text x="46.70" y="492.80" font-size="8.1" text-anchor="end">4</text>
<line x1="75.80" y1="555.75" x2="75.80" y2="558.75" stroke="#1c1c1c" stroke-width="1"/>
<line x1="123.30" y1="555.75" x2="123.30" y2="558.75" stroke="#1c1c1c" stroke-width="1"/>
<text x="66.10" y="568.85" font-size="8" textLength="20.40" lengthAdjust="spacingAndGlyphs" style="stroke-width:0.14px">CD4<tspan font-size="5.28" dy="-3.20">+</tspan><tspan dy="3.20">&#8203;</tspan></text>
<text x="113.60" y="568.85" font-size="8" textLength="19.90" lengthAdjust="spacingAndGlyphs" style="stroke-width:0.14px">CD8<tspan font-size="5.28" dy="-3.20">+</tspan><tspan dy="3.20">&#8203;</tspan></text>
<path d="M81.25 530.50V527.50H92.00V530.50" fill="none" stroke="#1c1c1c" stroke-width="1.1" />
<text x="86.83" y="526.56" font-size="7.8" font-weight="700" text-anchor="middle" letter-spacing="0.45" fill="#0a0a0a">***</text>
<path d="M128.00 493.00V490.00H139.25V493.00" fill="none" stroke="#1c1c1c" stroke-width="1.1" />
<text x="133.82" y="489.06" font-size="7.8" font-weight="700" text-anchor="middle" letter-spacing="0.45" fill="#0a0a0a">***</text>
<rect x="200.50" y="554.40" width="7.00" height="1.35" fill="#000"/>
<line x1="214.40" y1="555.20" x2="214.40" y2="552.50" stroke="#161616" stroke-width="1.1"/>
<line x1="212.17" y1="552.50" x2="216.63" y2="552.50" stroke="#161616" stroke-width="1.1"/>
<rect x="210.80" y="554.70" width="7.20" height="1.05" fill="#c6c6c6"/>
<line x1="224.80" y1="529.25" x2="224.80" y2="519.50" stroke="#161616" stroke-width="1.1"/>
<line x1="222.57" y1="519.50" x2="227.03" y2="519.50" stroke="#161616" stroke-width="1.1"/>
<rect x="221.20" y="528.75" width="7.20" height="27.00" fill="#858585"/>
<line x1="234.80" y1="548.50" x2="234.80" y2="546.25" stroke="#161616" stroke-width="1.1"/>
<line x1="232.63" y1="546.25" x2="236.97" y2="546.25" stroke="#161616" stroke-width="1.1"/>
<rect x="231.30" y="548.00" width="7.00" height="7.75" fill="#3a3a3a"/>
<line x1="251.70" y1="533.00" x2="251.70" y2="525.50" stroke="#161616" stroke-width="1.1"/>
<line x1="249.59" y1="525.50" x2="253.81" y2="525.50" stroke="#161616" stroke-width="1.1"/>
<rect x="248.30" y="532.50" width="6.80" height="23.25" fill="#000"/>
<line x1="261.90" y1="543.00" x2="261.90" y2="539.25" stroke="#161616" stroke-width="1.1"/>
<line x1="259.67" y1="539.25" x2="264.13" y2="539.25" stroke="#161616" stroke-width="1.1"/>
<rect x="258.30" y="542.50" width="7.20" height="13.25" fill="#c6c6c6"/>
<line x1="272.15" y1="508.00" x2="272.15" y2="500.75" stroke="#161616" stroke-width="1.1"/>
<line x1="270.01" y1="500.75" x2="274.29" y2="500.75" stroke="#161616" stroke-width="1.1"/>
<rect x="268.70" y="507.50" width="6.90" height="48.25" fill="#858585"/>
<line x1="282.30" y1="529.25" x2="282.30" y2="526.25" stroke="#161616" stroke-width="1.1"/>
<line x1="280.13" y1="526.25" x2="284.47" y2="526.25" stroke="#161616" stroke-width="1.1"/>
<rect x="278.80" y="528.75" width="7.00" height="27.00" fill="#3a3a3a"/>
<line x1="195.30" y1="486.80" x2="195.30" y2="556.35" stroke="#111" stroke-width="1.3"/>
<line x1="191.10" y1="555.75" x2="291.30" y2="555.75" stroke="#1c1c1c" stroke-width="1.3"/>
<line x1="191.10" y1="555.75" x2="195.30" y2="555.75" stroke="#1c1c1c" stroke-width="1"/>
<text x="189.60" y="558.55" font-size="8.1" text-anchor="end">0</text>
<line x1="191.10" y1="542.60" x2="195.30" y2="542.60" stroke="#1c1c1c" stroke-width="1"/>
<text x="189.60" y="545.40" font-size="8.1" text-anchor="end">5</text>
<line x1="191.10" y1="529.45" x2="195.30" y2="529.45" stroke="#1c1c1c" stroke-width="1"/>
<text x="189.60" y="532.25" font-size="8.1" text-anchor="end">10</text>
<line x1="191.10" y1="516.30" x2="195.30" y2="516.30" stroke="#1c1c1c" stroke-width="1"/>
<text x="189.60" y="519.10" font-size="8.1" text-anchor="end">15</text>
<line x1="191.10" y1="503.15" x2="195.30" y2="503.15" stroke="#1c1c1c" stroke-width="1"/>
<text x="189.60" y="505.95" font-size="8.1" text-anchor="end">20</text>
<line x1="191.10" y1="490.00" x2="195.30" y2="490.00" stroke="#1c1c1c" stroke-width="1"/>
<text x="189.60" y="492.80" font-size="8.1" text-anchor="end">25</text>
<line x1="219.50" y1="555.75" x2="219.50" y2="558.75" stroke="#1c1c1c" stroke-width="1"/>
<line x1="267.00" y1="555.75" x2="267.00" y2="558.75" stroke="#1c1c1c" stroke-width="1"/>
<text x="209.80" y="568.85" font-size="8" textLength="19.70" lengthAdjust="spacingAndGlyphs" style="stroke-width:0.14px">CD4<tspan font-size="5.28" dy="-3.20">+</tspan><tspan dy="3.20">&#8203;</tspan></text>
<text x="257.30" y="568.85" font-size="8" textLength="19.90" lengthAdjust="spacingAndGlyphs" style="stroke-width:0.14px">CD8<tspan font-size="5.28" dy="-3.20">+</tspan><tspan dy="3.20">&#8203;</tspan></text>
<path d="M223.75 512.25V509.25H235.00V512.25" fill="none" stroke="#1c1c1c" stroke-width="1.1" />
<text x="229.57" y="508.31" font-size="7.8" font-weight="700" text-anchor="middle" letter-spacing="0.45" fill="#0a0a0a">*</text>
<path d="M271.25 493.75V490.75H281.75V493.75" fill="none" stroke="#1c1c1c" stroke-width="1.1" />
<text x="276.70" y="489.81" font-size="7.8" font-weight="700" text-anchor="middle" letter-spacing="0.45" fill="#0a0a0a">*</text>
<line x1="347.75" y1="551.75" x2="347.75" y2="549.50" stroke="#161616" stroke-width="1.1"/>
<line x1="345.61" y1="549.50" x2="349.89" y2="549.50" stroke="#161616" stroke-width="1.1"/>
<rect x="344.30" y="551.25" width="6.90" height="4.50" fill="#000"/>
<line x1="357.90" y1="552.50" x2="357.90" y2="551.25" stroke="#161616" stroke-width="1.1"/>
<line x1="355.79" y1="551.25" x2="360.01" y2="551.25" stroke="#161616" stroke-width="1.1"/>
<rect x="354.50" y="552.00" width="6.80" height="3.75" fill="#c6c6c6"/>
<line x1="367.90" y1="510.00" x2="367.90" y2="501.25" stroke="#161616" stroke-width="1.1"/>
<line x1="365.79" y1="501.25" x2="370.01" y2="501.25" stroke="#161616" stroke-width="1.1"/>
<rect x="364.50" y="509.50" width="6.80" height="46.25" fill="#858585"/>
<line x1="378.10" y1="528.00" x2="378.10" y2="523.00" stroke="#161616" stroke-width="1.1"/>
<line x1="375.87" y1="523.00" x2="380.33" y2="523.00" stroke="#161616" stroke-width="1.1"/>
<rect x="374.50" y="527.50" width="7.20" height="28.25" fill="#3a3a3a"/>
<line x1="395.05" y1="548.00" x2="395.05" y2="545.50" stroke="#161616" stroke-width="1.1"/>
<line x1="393.04" y1="545.50" x2="397.06" y2="545.50" stroke="#161616" stroke-width="1.1"/>
<rect x="391.80" y="547.50" width="6.50" height="8.25" fill="#000"/>
<line x1="405.30" y1="551.75" x2="405.30" y2="548.75" stroke="#161616" stroke-width="1.1"/>
<line x1="403.13" y1="548.75" x2="407.47" y2="548.75" stroke="#161616" stroke-width="1.1"/>
<rect x="401.80" y="551.25" width="7.00" height="4.50" fill="#c6c6c6"/>
<line x1="415.40" y1="527.50" x2="415.40" y2="522.50" stroke="#161616" stroke-width="1.1"/>
<line x1="413.29" y1="522.50" x2="417.51" y2="522.50" stroke="#161616" stroke-width="1.1"/>
<rect x="412.00" y="527.00" width="6.80" height="28.75" fill="#858585"/>
<line x1="425.40" y1="547.25" x2="425.40" y2="543.75" stroke="#161616" stroke-width="1.1"/>
<line x1="423.29" y1="543.75" x2="427.51" y2="543.75" stroke="#161616" stroke-width="1.1"/>
<rect x="422.00" y="546.75" width="6.80" height="9.00" fill="#3a3a3a"/>
<line x1="339.10" y1="486.80" x2="339.10" y2="556.35" stroke="#111" stroke-width="1.3"/>
<line x1="334.90" y1="555.75" x2="433.30" y2="555.75" stroke="#1c1c1c" stroke-width="1.3"/>
<line x1="334.90" y1="555.75" x2="339.10" y2="555.75" stroke="#1c1c1c" stroke-width="1"/>
<text x="333.40" y="558.55" font-size="8.1" text-anchor="end">0</text>
<line x1="334.90" y1="533.83" x2="339.10" y2="533.83" stroke="#1c1c1c" stroke-width="1"/>
<text x="333.40" y="536.63" font-size="8.1" text-anchor="end">10</text>
<line x1="334.90" y1="511.92" x2="339.10" y2="511.92" stroke="#1c1c1c" stroke-width="1"/>
<text x="333.40" y="514.72" font-size="8.1" text-anchor="end">20</text>
<line x1="334.90" y1="490.00" x2="339.10" y2="490.00" stroke="#1c1c1c" stroke-width="1"/>
<text x="333.40" y="492.80" font-size="8.1" text-anchor="end">30</text>
<line x1="362.50" y1="555.75" x2="362.50" y2="558.75" stroke="#1c1c1c" stroke-width="1"/>
<line x1="410.00" y1="555.75" x2="410.00" y2="558.75" stroke="#1c1c1c" stroke-width="1"/>
<text x="352.80" y="568.85" font-size="8" textLength="19.40" lengthAdjust="spacingAndGlyphs" style="stroke-width:0.14px">CD4<tspan font-size="5.28" dy="-3.20">+</tspan><tspan dy="3.20">&#8203;</tspan></text>
<text x="400.30" y="568.85" font-size="8" textLength="19.40" lengthAdjust="spacingAndGlyphs" style="stroke-width:0.14px">CD8<tspan font-size="5.28" dy="-3.20">+</tspan><tspan dy="3.20">&#8203;</tspan></text>
<path d="M367.50 498.50V495.50H378.25V498.50" fill="none" stroke="#1c1c1c" stroke-width="1.1" />
<text x="373.07" y="494.56" font-size="7.8" font-weight="700" text-anchor="middle" letter-spacing="0.45" fill="#0a0a0a">*</text>
<path d="M415.00 515.50V512.50H425.75V515.50" fill="none" stroke="#1c1c1c" stroke-width="1.1" />
<text x="420.57" y="511.56" font-size="7.8" font-weight="700" text-anchor="middle" letter-spacing="0.45" fill="#0a0a0a">***</text>
<text transform="translate(19.40 671.80) rotate(-90)" font-size="8.6" textLength="54.40" lengthAdjust="spacingAndGlyphs" style="stroke-width:0.14px">Abs. no. IFN<tspan font-size="6.9" dy="0.7">γ</tspan><tspan dy="-0.7">&#8203;</tspan><tspan font-size="5.33" dy="-3.10">+</tspan><tspan dy="3.10">&#8203;</tspan></text>
<text transform="translate(31.20 666.60) rotate(-90)" font-size="8.6" textLength="42.40" lengthAdjust="spacingAndGlyphs" style="stroke-width:0.14px">cells (x10<tspan font-size="6.36" dy="-3.10">4</tspan><tspan dy="3.10">&#8203;</tspan>)</text>
<text transform="translate(167.80 671.80) rotate(-90)" font-size="8.6" textLength="54.40" lengthAdjust="spacingAndGlyphs" style="stroke-width:0.14px">Abs. no. IFN<tspan font-size="6.9" dy="0.7">γ</tspan><tspan dy="-0.7">&#8203;</tspan><tspan font-size="5.33" dy="-3.10">+</tspan><tspan dy="3.10">&#8203;</tspan></text>
<text transform="translate(179.40 666.60) rotate(-90)" font-size="8.6" textLength="42.40" lengthAdjust="spacingAndGlyphs" style="stroke-width:0.14px">cells (x10<tspan font-size="6.36" dy="-3.10">4</tspan><tspan dy="3.10">&#8203;</tspan>)</text>
<text transform="translate(311.00 671.80) rotate(-90)" font-size="8.6" textLength="54.40" lengthAdjust="spacingAndGlyphs" style="stroke-width:0.14px">Abs. no. IFN<tspan font-size="6.9" dy="0.7">γ</tspan><tspan dy="-0.7">&#8203;</tspan><tspan font-size="5.33" dy="-3.10">+</tspan><tspan dy="3.10">&#8203;</tspan></text>
<text transform="translate(323.00 666.60) rotate(-90)" font-size="8.6" textLength="42.40" lengthAdjust="spacingAndGlyphs" style="stroke-width:0.14px">cells (x10<tspan font-size="6.36" dy="-3.10">4</tspan><tspan dy="3.10">&#8203;</tspan>)</text>
<rect x="56.40" y="678.00" width="7.30" height="1.25" fill="#000"/>
<line x1="70.50" y1="678.50" x2="70.50" y2="676.75" stroke="#161616" stroke-width="1.1"/>
<line x1="68.33" y1="676.75" x2="72.67" y2="676.75" stroke="#161616" stroke-width="1.1"/>
<rect x="67.00" y="678.00" width="7.00" height="1.25" fill="#c6c6c6"/>
<line x1="81.15" y1="631.25" x2="81.15" y2="622.00" stroke="#161616" stroke-width="1.1"/>
<line x1="78.89" y1="622.00" x2="83.41" y2="622.00" stroke="#161616" stroke-width="1.1"/>
<rect x="77.50" y="630.75" width="7.30" height="48.50" fill="#858585"/>
<line x1="91.50" y1="654.25" x2="91.50" y2="652.00" stroke="#161616" stroke-width="1.1"/>
<line x1="89.33" y1="652.00" x2="93.67" y2="652.00" stroke="#161616" stroke-width="1.1"/>
<rect x="88.00" y="653.75" width="7.00" height="25.50" fill="#3a3a3a"/>
<line x1="107.95" y1="652.50" x2="107.95" y2="649.25" stroke="#161616" stroke-width="1.1"/>
<line x1="105.81" y1="649.25" x2="110.09" y2="649.25" stroke="#161616" stroke-width="1.1"/>
<rect x="104.50" y="652.00" width="6.90" height="27.25" fill="#000"/>
<line x1="118.20" y1="658.75" x2="118.20" y2="650.75" stroke="#161616" stroke-width="1.1"/>
<line x1="115.97" y1="650.75" x2="120.43" y2="650.75" stroke="#161616" stroke-width="1.1"/>
<rect x="114.60" y="658.25" width="7.20" height="21.00" fill="#c6c6c6"/>
<line x1="128.50" y1="653.75" x2="128.50" y2="650.50" stroke="#161616" stroke-width="1.1"/>
<line x1="126.33" y1="650.50" x2="130.67" y2="650.50" stroke="#161616" stroke-width="1.1"/>
<rect x="125.00" y="653.25" width="7.00" height="26.00" fill="#858585"/>
<line x1="138.50" y1="653.50" x2="138.50" y2="648.75" stroke="#161616" stroke-width="1.1"/>
<line x1="136.33" y1="648.75" x2="140.67" y2="648.75" stroke="#161616" stroke-width="1.1"/>
<rect x="135.00" y="653.00" width="7.00" height="26.25" fill="#3a3a3a"/>
<line x1="52.40" y1="609.50" x2="52.40" y2="679.85" stroke="#111" stroke-width="1.3"/>
<line x1="48.20" y1="679.25" x2="147.50" y2="679.25" stroke="#1c1c1c" stroke-width="1.3"/>
<line x1="48.20" y1="679.25" x2="52.40" y2="679.25" stroke="#1c1c1c" stroke-width="1"/>
<text x="46.70" y="682.05" font-size="8.1" text-anchor="end">0</text>
<line x1="48.20" y1="665.90" x2="52.40" y2="665.90" stroke="#1c1c1c" stroke-width="1"/>
<text x="46.70" y="668.70" font-size="8.1" text-anchor="end">5</text>
<line x1="48.20" y1="652.55" x2="52.40" y2="652.55" stroke="#1c1c1c" stroke-width="1"/>
<text x="46.70" y="655.35" font-size="8.1" text-anchor="end">10</text>
<line x1="48.20" y1="639.20" x2="52.40" y2="639.20" stroke="#1c1c1c" stroke-width="1"/>
<text x="46.70" y="642.00" font-size="8.1" text-anchor="end">15</text>
<line x1="48.20" y1="625.85" x2="52.40" y2="625.85" stroke="#1c1c1c" stroke-width="1"/>
<text x="46.70" y="628.65" font-size="8.1" text-anchor="end">20</text>
<line x1="48.20" y1="612.50" x2="52.40" y2="612.50" stroke="#1c1c1c" stroke-width="1"/>
<text x="46.70" y="615.30" font-size="8.1" text-anchor="end">25</text>
<line x1="75.80" y1="679.25" x2="75.80" y2="682.25" stroke="#1c1c1c" stroke-width="1"/>
<line x1="123.30" y1="679.25" x2="123.30" y2="682.25" stroke="#1c1c1c" stroke-width="1"/>
<text x="66.10" y="692.35" font-size="8" textLength="20.40" lengthAdjust="spacingAndGlyphs" style="stroke-width:0.14px">CD4<tspan font-size="5.28" dy="-3.20">+</tspan><tspan dy="3.20">&#8203;</tspan></text>
<text x="113.60" y="692.35" font-size="8" textLength="19.90" lengthAdjust="spacingAndGlyphs" style="stroke-width:0.14px">CD8<tspan font-size="5.28" dy="-3.20">+</tspan><tspan dy="3.20">&#8203;</tspan></text>
<path d="M81.25 616.25V613.25H92.00V616.25" fill="none" stroke="#1c1c1c" stroke-width="1.1" />
<text x="86.83" y="612.31" font-size="7.8" font-weight="700" text-anchor="middle" letter-spacing="0.45" fill="#0a0a0a">*</text>
<rect x="200.50" y="678.25" width="7.00" height="1.00" fill="#000"/>
<rect x="210.80" y="678.25" width="7.20" height="1.00" fill="#c6c6c6"/>
<line x1="224.80" y1="641.75" x2="224.80" y2="630.00" stroke="#161616" stroke-width="1.1"/>
<line x1="222.57" y1="630.00" x2="227.03" y2="630.00" stroke="#161616" stroke-width="1.1"/>
<rect x="221.20" y="641.25" width="7.20" height="38.00" fill="#858585"/>
<line x1="234.80" y1="668.50" x2="234.80" y2="665.00" stroke="#161616" stroke-width="1.1"/>
<line x1="232.63" y1="665.00" x2="236.97" y2="665.00" stroke="#161616" stroke-width="1.1"/>
<rect x="231.30" y="668.00" width="7.00" height="11.25" fill="#3a3a3a"/>
<line x1="251.70" y1="668.00" x2="251.70" y2="664.25" stroke="#161616" stroke-width="1.1"/>
<line x1="249.59" y1="664.25" x2="253.81" y2="664.25" stroke="#161616" stroke-width="1.1"/>
<rect x="248.30" y="667.50" width="6.80" height="11.75" fill="#000"/>
<line x1="261.90" y1="675.50" x2="261.90" y2="674.25" stroke="#161616" stroke-width="1.1"/>
<line x1="259.67" y1="674.25" x2="264.13" y2="674.25" stroke="#161616" stroke-width="1.1"/>
<rect x="258.30" y="675.00" width="7.20" height="4.25" fill="#c6c6c6"/>
<line x1="272.15" y1="656.75" x2="272.15" y2="651.75" stroke="#161616" stroke-width="1.1"/>
<line x1="270.01" y1="651.75" x2="274.29" y2="651.75" stroke="#161616" stroke-width="1.1"/>
<rect x="268.70" y="656.25" width="6.90" height="23.00" fill="#858585"/>
<line x1="282.30" y1="666.75" x2="282.30" y2="664.50" stroke="#161616" stroke-width="1.1"/>
<line x1="280.13" y1="664.50" x2="284.47" y2="664.50" stroke="#161616" stroke-width="1.1"/>
<rect x="278.80" y="666.25" width="7.00" height="13.00" fill="#3a3a3a"/>
<line x1="195.30" y1="609.50" x2="195.30" y2="679.85" stroke="#111" stroke-width="1.3"/>
<line x1="191.10" y1="679.25" x2="291.30" y2="679.25" stroke="#1c1c1c" stroke-width="1.3"/>
<line x1="191.10" y1="679.25" x2="195.30" y2="679.25" stroke="#1c1c1c" stroke-width="1"/>
<text x="189.60" y="682.05" font-size="8.1" text-anchor="end">0</text>
<line x1="191.10" y1="662.56" x2="195.30" y2="662.56" stroke="#1c1c1c" stroke-width="1"/>
<text x="189.60" y="665.36" font-size="8.1" text-anchor="end">1</text>
<line x1="191.10" y1="645.88" x2="195.30" y2="645.88" stroke="#1c1c1c" stroke-width="1"/>
<text x="189.60" y="648.67" font-size="8.1" text-anchor="end">2</text>
<line x1="191.10" y1="629.19" x2="195.30" y2="629.19" stroke="#1c1c1c" stroke-width="1"/>
<text x="189.60" y="631.99" font-size="8.1" text-anchor="end">3</text>
<line x1="191.10" y1="612.50" x2="195.30" y2="612.50" stroke="#1c1c1c" stroke-width="1"/>
<text x="189.60" y="615.30" font-size="8.1" text-anchor="end">4</text>
<line x1="219.50" y1="679.25" x2="219.50" y2="682.25" stroke="#1c1c1c" stroke-width="1"/>
<line x1="267.00" y1="679.25" x2="267.00" y2="682.25" stroke="#1c1c1c" stroke-width="1"/>
<text x="209.80" y="692.35" font-size="8" textLength="19.70" lengthAdjust="spacingAndGlyphs" style="stroke-width:0.14px">CD4<tspan font-size="5.28" dy="-3.20">+</tspan><tspan dy="3.20">&#8203;</tspan></text>
<text x="257.30" y="692.35" font-size="8" textLength="19.90" lengthAdjust="spacingAndGlyphs" style="stroke-width:0.14px">CD8<tspan font-size="5.28" dy="-3.20">+</tspan><tspan dy="3.20">&#8203;</tspan></text>
<path d="M223.75 623.00V620.00H235.00V623.00" fill="none" stroke="#1c1c1c" stroke-width="1.1" />
<text x="229.57" y="619.06" font-size="7.8" font-weight="700" text-anchor="middle" letter-spacing="0.45" fill="#0a0a0a">**</text>
<path d="M271.25 644.75V641.75H281.75V644.75" fill="none" stroke="#1c1c1c" stroke-width="1.1" />
<text x="276.70" y="640.81" font-size="7.8" font-weight="700" text-anchor="middle" letter-spacing="0.45" fill="#0a0a0a">*</text>
<line x1="347.75" y1="672.50" x2="347.75" y2="667.50" stroke="#161616" stroke-width="1.1"/>
<line x1="345.61" y1="667.50" x2="349.89" y2="667.50" stroke="#161616" stroke-width="1.1"/>
<rect x="344.30" y="672.00" width="6.90" height="7.25" fill="#000"/>
<line x1="357.90" y1="676.00" x2="357.90" y2="673.75" stroke="#161616" stroke-width="1.1"/>
<line x1="355.79" y1="673.75" x2="360.01" y2="673.75" stroke="#161616" stroke-width="1.1"/>
<rect x="354.50" y="675.50" width="6.80" height="3.75" fill="#c6c6c6"/>
<line x1="367.90" y1="629.75" x2="367.90" y2="618.25" stroke="#161616" stroke-width="1.1"/>
<line x1="365.79" y1="618.25" x2="370.01" y2="618.25" stroke="#161616" stroke-width="1.1"/>
<rect x="364.50" y="629.25" width="6.80" height="50.00" fill="#858585"/>
<line x1="378.10" y1="659.25" x2="378.10" y2="654.25" stroke="#161616" stroke-width="1.1"/>
<line x1="375.87" y1="654.25" x2="380.33" y2="654.25" stroke="#161616" stroke-width="1.1"/>
<rect x="374.50" y="658.75" width="7.20" height="20.50" fill="#3a3a3a"/>
<line x1="395.05" y1="665.00" x2="395.05" y2="661.75" stroke="#161616" stroke-width="1.1"/>
<line x1="393.04" y1="661.75" x2="397.06" y2="661.75" stroke="#161616" stroke-width="1.1"/>
<rect x="391.80" y="664.50" width="6.50" height="14.75" fill="#000"/>
<line x1="405.30" y1="671.25" x2="405.30" y2="667.50" stroke="#161616" stroke-width="1.1"/>
<line x1="403.13" y1="667.50" x2="407.47" y2="667.50" stroke="#161616" stroke-width="1.1"/>
<rect x="401.80" y="670.75" width="7.00" height="8.50" fill="#c6c6c6"/>
<line x1="415.40" y1="644.25" x2="415.40" y2="637.00" stroke="#161616" stroke-width="1.1"/>
<line x1="413.29" y1="637.00" x2="417.51" y2="637.00" stroke="#161616" stroke-width="1.1"/>
<rect x="412.00" y="643.75" width="6.80" height="35.50" fill="#858585"/>
<line x1="425.40" y1="668.75" x2="425.40" y2="665.50" stroke="#161616" stroke-width="1.1"/>
<line x1="423.29" y1="665.50" x2="427.51" y2="665.50" stroke="#161616" stroke-width="1.1"/>
<rect x="422.00" y="668.25" width="6.80" height="11.00" fill="#3a3a3a"/>
<line x1="339.10" y1="609.50" x2="339.10" y2="679.85" stroke="#111" stroke-width="1.3"/>
<line x1="334.90" y1="679.25" x2="433.30" y2="679.25" stroke="#1c1c1c" stroke-width="1.3"/>
<line x1="334.90" y1="679.25" x2="339.10" y2="679.25" stroke="#1c1c1c" stroke-width="1"/>
<text x="333.40" y="682.05" font-size="8.1" text-anchor="end">0</text>
<line x1="334.90" y1="662.56" x2="339.10" y2="662.56" stroke="#1c1c1c" stroke-width="1"/>
<text x="333.40" y="665.36" font-size="8.1" text-anchor="end">1</text>
<line x1="334.90" y1="645.88" x2="339.10" y2="645.88" stroke="#1c1c1c" stroke-width="1"/>
<text x="333.40" y="648.67" font-size="8.1" text-anchor="end">2</text>
<line x1="334.90" y1="629.19" x2="339.10" y2="629.19" stroke="#1c1c1c" stroke-width="1"/>
<text x="333.40" y="631.99" font-size="8.1" text-anchor="end">3</text>
<line x1="334.90" y1="612.50" x2="339.10" y2="612.50" stroke="#1c1c1c" stroke-width="1"/>
<text x="333.40" y="615.30" font-size="8.1" text-anchor="end">4</text>
<line x1="362.50" y1="679.25" x2="362.50" y2="682.25" stroke="#1c1c1c" stroke-width="1"/>
<line x1="410.00" y1="679.25" x2="410.00" y2="682.25" stroke="#1c1c1c" stroke-width="1"/>
<text x="352.80" y="692.35" font-size="8" textLength="19.40" lengthAdjust="spacingAndGlyphs" style="stroke-width:0.14px">CD4<tspan font-size="5.28" dy="-3.20">+</tspan><tspan dy="3.20">&#8203;</tspan></text>
<text x="400.30" y="692.35" font-size="8" textLength="19.40" lengthAdjust="spacingAndGlyphs" style="stroke-width:0.14px">CD8<tspan font-size="5.28" dy="-3.20">+</tspan><tspan dy="3.20">&#8203;</tspan></text>
<path d="M367.50 612.50V609.50H378.75V612.50" fill="none" stroke="#1c1c1c" stroke-width="1.1" />
<text x="373.32" y="608.56" font-size="7.8" font-weight="700" text-anchor="middle" letter-spacing="0.45" fill="#0a0a0a">**</text>
<path d="M415.00 630.00V627.00H426.25V630.00" fill="none" stroke="#1c1c1c" stroke-width="1.1" />
<text x="420.82" y="626.06" font-size="7.8" font-weight="700" text-anchor="middle" letter-spacing="0.45" fill="#0a0a0a">**</text>
</g>
<rect x="0.5" y="0.5" width="519" height="700" fill="none" stroke="#0c0c0c" stroke-width="1.2"/>
</svg>
</body></html>
